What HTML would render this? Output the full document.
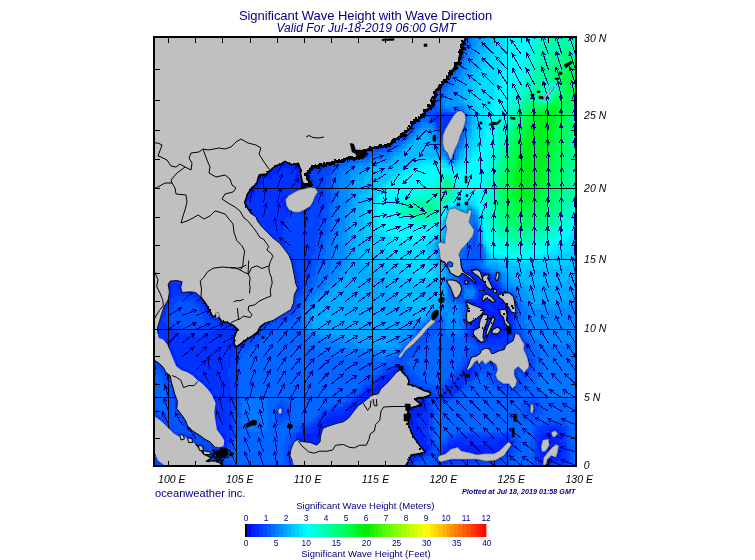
<!DOCTYPE html>
<html><head><meta charset="utf-8"><title>Significant Wave Height with Wave Direction</title>
<style>html,body{margin:0;padding:0;background:#fff}svg{display:block}text{font-family:"Liberation Sans",Arial,sans-serif}</style>
</head><body>
<svg width="755" height="560" viewBox="0 0 755 560">
<defs><clipPath id="mc"><rect x="155" y="38" width="420" height="427"/></clipPath></defs>
<rect width="755" height="560" fill="#fff"/>
<g clip-path="url(#mc)">
<rect x="155" y="38" width="420" height="427" fill="#0058ff"/>
<g shape-rendering="crispEdges">
<path fill="#0011ff" d="M260.8 170.9h8.4v3h-8.4zM260.8 173.6h5.7v3h-5.7zM488.6 298.4h3v3h-3zM480.4 311.9h3v3h-3zM499.4 311.9h3v3h-3zM480.4 314.6h8.4v3h-8.4zM480.4 317.3h5.7v3h-5.7zM491.3 317.3h3v3h-3zM483.2 320h3v3h-3zM491.3 320h3v3h-3zM483.2 322.8h3v3h-3zM488.6 322.8h5.7v3h-5.7zM488.6 325.5h3v3h-3zM494 328.2h3v3h-3zM390.9 377h3v3h-3zM388.2 379.7h3v3h-3zM385.5 382.4h3v3h-3zM382.8 385.1h3v3h-3zM380.1 387.8h3v3h-3zM415.4 401.4h3v3h-3zM412.6 404.1h5.7v3h-5.7zM407.2 425.8h3v3h-3zM407.2 428.5h3v3h-3zM407.2 431.2h5.7v3h-5.7zM409.9 434h3v3h-3zM409.9 436.7h5.7v3h-5.7zM412.6 439.4h5.7v3h-5.7zM415.4 442.1h3v3h-3zM548.2 442.1h3v3h-3zM418.1 444.8h3v3h-3zM418.1 447.5h5.7v3h-5.7zM453.3 447.5h5.7v3h-5.7zM551 447.5h3v3h-3zM412.6 450.2h11.1v3h-11.1zM447.9 450.2h13.9v3h-13.9zM548.2 450.2h5.7v3h-5.7zM409.9 452.9h8.4v3h-8.4zM445.2 452.9h5.7v3h-5.7zM458.7 452.9h5.7v3h-5.7zM407.2 455.6h3v3h-3zM407.2 458.4h3v3h-3z"/>
<path fill="#0022ff" d="M445.2 124.8h3v3h-3zM277 160h22v3h-22zM274.3 162.8h27.4v3h-27.4zM268.9 165.5h35.6v3h-35.6zM266.2 168.2h16.6v3h-16.6zM290.6 168.2h3v3h-3zM296 168.2h8.4v3h-8.4zM258.1 170.9h3v3h-3zM268.9 170.9h8.4v3h-8.4zM296 170.9h8.4v3h-8.4zM255.3 173.6h5.7v3h-5.7zM266.2 173.6h8.4v3h-8.4zM296 173.6h8.4v3h-8.4zM255.3 176.3h16.6v3h-16.6zM296 176.3h11.1v3h-11.1zM255.3 179h8.4v3h-8.4zM296 179h11.1v3h-11.1zM252.6 181.7h11.1v3h-11.1zM298.7 181.7h8.4v3h-8.4zM249.9 184.4h11.1v3h-11.1zM247.2 187.2h11.1v3h-11.1zM247.2 189.9h8.4v3h-8.4zM244.5 192.6h11.1v3h-11.1zM241.8 195.3h11.1v3h-11.1zM282.5 195.3h5.7v3h-5.7zM241.8 198h8.4v3h-8.4zM279.8 198h8.4v3h-8.4zM279.8 200.7h8.4v3h-8.4zM244.5 203.4h3v3h-3zM282.5 203.4h5.7v3h-5.7zM282.5 206.1h8.4v3h-8.4zM285.2 208.9h3v3h-3zM249.9 211.6h3v3h-3zM255.3 217h3v3h-3zM461.5 271.2h22v3h-22zM464.2 273.9h24.7v3h-24.7zM464.2 276.7h27.4v3h-27.4zM165.8 279.4h19.3v3h-19.3zM464.2 279.4h27.4v3h-27.4zM165.8 282.1h5.7v3h-5.7zM179.4 282.1h5.7v3h-5.7zM475 282.1h19.3v3h-19.3zM165.8 284.8h5.7v3h-5.7zM176.7 284.8h8.4v3h-8.4zM480.4 284.8h16.6v3h-16.6zM165.8 287.5h5.7v3h-5.7zM176.7 287.5h19.3v3h-19.3zM296 287.5h3v3h-3zM483.2 287.5h16.6v3h-16.6zM165.8 290.2h5.7v3h-5.7zM179.4 290.2h19.3v3h-19.3zM480.4 290.2h22v3h-22zM165.8 292.9h5.7v3h-5.7zM195.7 292.9h5.7v3h-5.7zM480.4 292.9h27.4v3h-27.4zM165.8 295.6h5.7v3h-5.7zM198.4 295.6h3v3h-3zM477.7 295.6h32.8v3h-32.8zM165.8 298.4h3v3h-3zM201.1 298.4h3v3h-3zM477.7 298.4h11.1v3h-11.1zM491.3 298.4h13.9v3h-13.9zM163.1 301.1h3v3h-3zM203.8 301.1h3v3h-3zM469.6 301.1h38.3v3h-38.3zM510.3 301.1h3v3h-3zM163.1 303.8h3v3h-3zM206.5 303.8h3v3h-3zM466.9 303.8h19.3v3h-19.3zM488.6 303.8h22v3h-22zM163.1 306.5h3v3h-3zM206.5 306.5h3v3h-3zM466.9 306.5h22v3h-22zM491.3 306.5h22v3h-22zM209.2 309.2h3v3h-3zM466.9 309.2h5.7v3h-5.7zM477.7 309.2h13.9v3h-13.9zM494 309.2h19.3v3h-19.3zM209.2 311.9h5.7v3h-5.7zM466.9 311.9h3v3h-3zM477.7 311.9h3v3h-3zM483.2 311.9h16.6v3h-16.6zM502.1 311.9h11.1v3h-11.1zM212 314.6h3v3h-3zM466.9 314.6h3v3h-3zM475 314.6h5.7v3h-5.7zM488.6 314.6h22v3h-22zM214.7 317.3h3v3h-3zM466.9 317.3h13.9v3h-13.9zM485.9 317.3h5.7v3h-5.7zM494 317.3h16.6v3h-16.6zM466.9 320h16.6v3h-16.6zM485.9 320h5.7v3h-5.7zM494 320h16.6v3h-16.6zM472.3 322.8h11.1v3h-11.1zM485.9 322.8h3v3h-3zM494 322.8h19.3v3h-19.3zM472.3 325.5h16.6v3h-16.6zM491.3 325.5h22v3h-22zM472.3 328.2h22v3h-22zM496.7 328.2h13.9v3h-13.9zM233.6 330.9h3v3h-3zM472.3 330.9h5.7v3h-5.7zM480.4 330.9h24.7v3h-24.7zM233.6 333.6h5.7v3h-5.7zM472.3 333.6h5.7v3h-5.7zM480.4 333.6h24.7v3h-24.7zM230.9 336.3h8.4v3h-8.4zM475 336.3h27.4v3h-27.4zM160.4 339h8.4v3h-8.4zM230.9 339h8.4v3h-8.4zM477.7 339h11.1v3h-11.1zM163.1 341.7h8.4v3h-8.4zM230.9 341.7h8.4v3h-8.4zM163.1 344.5h8.4v3h-8.4zM230.9 344.5h8.4v3h-8.4zM165.8 347.2h5.7v3h-5.7zM165.8 349.9h8.4v3h-8.4zM168.6 352.6h5.7v3h-5.7zM168.6 355.3h5.7v3h-5.7zM171.3 358h5.7v3h-5.7zM171.3 360.7h5.7v3h-5.7zM171.3 363.4h8.4v3h-8.4zM174 366.2h8.4v3h-8.4zM466.9 366.2h5.7v3h-5.7zM176.7 368.9h13.9v3h-13.9zM393.7 368.9h8.4v3h-8.4zM464.2 368.9h8.4v3h-8.4zM179.4 371.6h13.9v3h-13.9zM390.9 371.6h11.1v3h-11.1zM464.2 371.6h8.4v3h-8.4zM184.8 374.3h11.1v3h-11.1zM385.5 374.3h13.9v3h-13.9zM190.3 377h8.4v3h-8.4zM382.8 377h8.4v3h-8.4zM193 379.7h11.1v3h-11.1zM380.1 379.7h8.4v3h-8.4zM195.7 382.4h11.1v3h-11.1zM377.4 382.4h8.4v3h-8.4zM388.2 382.4h3v3h-3zM201.1 385.1h8.4v3h-8.4zM374.7 385.1h8.4v3h-8.4zM385.5 385.1h3v3h-3zM203.8 387.8h8.4v3h-8.4zM369.2 387.8h11.1v3h-11.1zM382.8 387.8h3v3h-3zM206.5 390.6h5.7v3h-5.7zM366.5 390.6h16.6v3h-16.6zM209.2 393.3h5.7v3h-5.7zM363.8 393.3h19.3v3h-19.3zM209.2 396h5.7v3h-5.7zM361.1 396h16.6v3h-16.6zM412.6 396h11.1v3h-11.1zM209.2 398.7h8.4v3h-8.4zM355.7 398.7h16.6v3h-16.6zM412.6 398.7h8.4v3h-8.4zM212 401.4h5.7v3h-5.7zM353 401.4h16.6v3h-16.6zM418.1 401.4h8.4v3h-8.4zM212 404.1h5.7v3h-5.7zM350.3 404.1h13.9v3h-13.9zM407.2 404.1h5.7v3h-5.7zM418.1 404.1h8.4v3h-8.4zM212 406.8h5.7v3h-5.7zM347.6 406.8h13.9v3h-13.9zM407.2 406.8h19.3v3h-19.3zM212 409.5h3v3h-3zM344.8 409.5h13.9v3h-13.9zM407.2 409.5h19.3v3h-19.3zM212 412.3h3v3h-3zM342.1 412.3h13.9v3h-13.9zM404.5 412.3h16.6v3h-16.6zM212 415h5.7v3h-5.7zM331.3 415h22v3h-22zM404.5 415h13.9v3h-13.9zM212 417.7h5.7v3h-5.7zM325.9 417.7h24.7v3h-24.7zM404.5 417.7h11.1v3h-11.1zM212 420.4h5.7v3h-5.7zM323.1 420.4h27.4v3h-27.4zM404.5 420.4h13.9v3h-13.9zM212 423.1h5.7v3h-5.7zM317.7 423.1h27.4v3h-27.4zM404.5 423.1h13.9v3h-13.9zM212 425.8h8.4v3h-8.4zM315 425.8h19.3v3h-19.3zM409.9 425.8h8.4v3h-8.4zM212 428.5h8.4v3h-8.4zM315 428.5h16.6v3h-16.6zM409.9 428.5h8.4v3h-8.4zM548.2 428.5h11.1v3h-11.1zM214.7 431.2h8.4v3h-8.4zM312.3 431.2h13.9v3h-13.9zM412.6 431.2h8.4v3h-8.4zM545.5 431.2h16.6v3h-16.6zM217.4 434h8.4v3h-8.4zM301.4 434h22v3h-22zM412.6 434h11.1v3h-11.1zM540.1 434h22v3h-22zM220.1 436.7h5.7v3h-5.7zM296 436.7h27.4v3h-27.4zM415.4 436.7h8.4v3h-8.4zM504.8 436.7h5.7v3h-5.7zM540.1 436.7h22v3h-22zM220.1 439.4h8.4v3h-8.4zM296 439.4h27.4v3h-27.4zM418.1 439.4h8.4v3h-8.4zM499.4 439.4h11.1v3h-11.1zM540.1 439.4h19.3v3h-19.3zM214.7 442.1h11.1v3h-11.1zM296 442.1h27.4v3h-27.4zM418.1 442.1h8.4v3h-8.4zM453.3 442.1h11.1v3h-11.1zM496.7 442.1h13.9v3h-13.9zM537.4 442.1h11.1v3h-11.1zM551 442.1h11.1v3h-11.1zM214.7 444.8h8.4v3h-8.4zM312.3 444.8h8.4v3h-8.4zM420.8 444.8h8.4v3h-8.4zM447.9 444.8h62.7v3h-62.7zM537.4 444.8h24.7v3h-24.7zM423.5 447.5h5.7v3h-5.7zM445.2 447.5h8.4v3h-8.4zM458.7 447.5h51.8v3h-51.8zM537.4 447.5h13.9v3h-13.9zM553.7 447.5h8.4v3h-8.4zM423.5 450.2h3v3h-3zM442.5 450.2h5.7v3h-5.7zM461.5 450.2h46.4v3h-46.4zM540.1 450.2h8.4v3h-8.4zM553.7 450.2h8.4v3h-8.4zM418.1 452.9h5.7v3h-5.7zM439.8 452.9h5.7v3h-5.7zM464.2 452.9h38.3v3h-38.3zM540.1 452.9h22v3h-22zM409.9 455.6h8.4v3h-8.4zM439.8 455.6h43.7v3h-43.7zM540.1 455.6h22v3h-22zM409.9 458.4h3v3h-3zM439.8 458.4h30.1v3h-30.1zM540.1 458.4h19.3v3h-19.3zM404.5 461.1h5.7v3h-5.7zM540.1 461.1h11.1v3h-11.1zM399.1 463.8h8.4v3h-8.4z"/>
<path fill="#0033ff" d="M155 38h309.5v3h-309.5zM155 40.7h3v3h-3zM458.7 40.7h5.7v3h-5.7zM155 43.4h3v3h-3zM458.7 43.4h3v3h-3zM155 46.1h3v3h-3zM155 48.8h3v3h-3zM155 51.6h3v3h-3zM456 51.6h3v3h-3zM155 54.3h3v3h-3zM155 57h3v3h-3zM155 59.7h3v3h-3zM155 62.4h3v3h-3zM155 65.1h3v3h-3zM155 67.8h3v3h-3zM447.9 67.8h3v3h-3zM155 70.5h3v3h-3zM155 73.3h3v3h-3zM445.2 73.3h3v3h-3zM155 76h3v3h-3zM155 78.7h3v3h-3zM439.8 78.7h5.7v3h-5.7zM155 81.4h3v3h-3zM439.8 81.4h3v3h-3zM155 84.1h3v3h-3zM437 84.1h5.7v3h-5.7zM155 86.8h3v3h-3zM434.3 86.8h5.7v3h-5.7zM155 89.5h3v3h-3zM434.3 89.5h3v3h-3zM155 92.2h3v3h-3zM431.6 92.2h5.7v3h-5.7zM155 95h3v3h-3zM431.6 95h3v3h-3zM155 97.7h3v3h-3zM431.6 97.7h3v3h-3zM155 100.4h3v3h-3zM428.9 100.4h3v3h-3zM155 103.1h3v3h-3zM155 105.8h3v3h-3zM426.2 105.8h3v3h-3zM155 108.5h3v3h-3zM423.5 108.5h5.7v3h-5.7zM155 111.2h3v3h-3zM420.8 111.2h5.7v3h-5.7zM155 113.9h3v3h-3zM418.1 113.9h3v3h-3zM434.3 113.9h22v3h-22zM155 116.6h3v3h-3zM412.6 116.6h5.7v3h-5.7zM434.3 116.6h19.3v3h-19.3zM155 119.4h3v3h-3zM409.9 119.4h5.7v3h-5.7zM434.3 119.4h19.3v3h-19.3zM155 122.1h3v3h-3zM409.9 122.1h3v3h-3zM437 122.1h13.9v3h-13.9zM155 124.8h3v3h-3zM407.2 124.8h5.7v3h-5.7zM437 124.8h8.4v3h-8.4zM155 127.5h3v3h-3zM404.5 127.5h5.7v3h-5.7zM439.8 127.5h8.4v3h-8.4zM155 130.2h3v3h-3zM401.8 130.2h5.7v3h-5.7zM439.8 130.2h8.4v3h-8.4zM155 132.9h3v3h-3zM396.4 132.9h5.7v3h-5.7zM439.8 132.9h5.7v3h-5.7zM155 135.6h3v3h-3zM393.7 135.6h8.4v3h-8.4zM442.5 135.6h3v3h-3zM155 138.3h3v3h-3zM390.9 138.3h5.7v3h-5.7zM155 141.1h3v3h-3zM385.5 141.1h8.4v3h-8.4zM155 143.8h3v3h-3zM369.2 143.8h19.3v3h-19.3zM155 146.5h3v3h-3zM363.8 146.5h13.9v3h-13.9zM155 149.2h3v3h-3zM361.1 149.2h5.7v3h-5.7zM155 151.9h3v3h-3zM355.7 151.9h8.4v3h-8.4zM155 154.6h3v3h-3zM344.8 154.6h19.3v3h-19.3zM155 157.3h3v3h-3zM334 157.3h19.3v3h-19.3zM155 160h3v3h-3zM320.4 160h16.6v3h-16.6zM155 162.8h3v3h-3zM312.3 162.8h19.3v3h-19.3zM155 165.5h3v3h-3zM309.6 165.5h11.1v3h-11.1zM155 168.2h3v3h-3zM282.5 168.2h8.4v3h-8.4zM293.3 168.2h3v3h-3zM306.9 168.2h8.4v3h-8.4zM155 170.9h3v3h-3zM277 170.9h19.3v3h-19.3zM304.2 170.9h8.4v3h-8.4zM155 173.6h3v3h-3zM274.3 173.6h22v3h-22zM304.2 173.6h5.7v3h-5.7zM155 176.3h3v3h-3zM271.6 176.3h24.7v3h-24.7zM306.9 176.3h5.7v3h-5.7zM155 179h3v3h-3zM263.5 179h32.8v3h-32.8zM306.9 179h8.4v3h-8.4zM155 181.7h3v3h-3zM263.5 181.7h35.6v3h-35.6zM306.9 181.7h8.4v3h-8.4zM155 184.4h3v3h-3zM260.8 184.4h51.8v3h-51.8zM315 184.4h3v3h-3zM155 187.2h3v3h-3zM258.1 187.2h60v3h-60zM155 189.9h3v3h-3zM255.3 189.9h54.5v3h-54.5zM312.3 189.9h8.4v3h-8.4zM155 192.6h3v3h-3zM255.3 192.6h46.4v3h-46.4zM312.3 192.6h8.4v3h-8.4zM155 195.3h3v3h-3zM252.6 195.3h30.1v3h-30.1zM287.9 195.3h5.7v3h-5.7zM312.3 195.3h5.7v3h-5.7zM155 198h3v3h-3zM249.9 198h30.1v3h-30.1zM287.9 198h3v3h-3zM312.3 198h5.7v3h-5.7zM155 200.7h3v3h-3zM241.8 200.7h38.3v3h-38.3zM287.9 200.7h3v3h-3zM309.6 200.7h5.7v3h-5.7zM155 203.4h3v3h-3zM241.8 203.4h3v3h-3zM247.2 203.4h35.6v3h-35.6zM287.9 203.4h3v3h-3zM306.9 203.4h8.4v3h-8.4zM155 206.1h3v3h-3zM244.5 206.1h38.3v3h-38.3zM290.6 206.1h3v3h-3zM301.4 206.1h11.1v3h-11.1zM155 208.9h3v3h-3zM247.2 208.9h38.3v3h-38.3zM287.9 208.9h22v3h-22zM155 211.6h3v3h-3zM247.2 211.6h3v3h-3zM252.6 211.6h51.8v3h-51.8zM155 214.3h3v3h-3zM249.9 214.3h38.3v3h-38.3zM155 217h3v3h-3zM252.6 217h3v3h-3zM258.1 217h27.4v3h-27.4zM155 219.7h3v3h-3zM255.3 219.7h30.1v3h-30.1zM155 222.4h3v3h-3zM255.3 222.4h27.4v3h-27.4zM155 225.1h3v3h-3zM258.1 225.1h24.7v3h-24.7zM155 227.8h3v3h-3zM260.8 227.8h22v3h-22zM155 230.6h3v3h-3zM260.8 230.6h22v3h-22zM155 233.3h3v3h-3zM266.2 233.3h16.6v3h-16.6zM155 236h3v3h-3zM268.9 236h13.9v3h-13.9zM155 238.7h3v3h-3zM271.6 238.7h11.1v3h-11.1zM155 241.4h3v3h-3zM274.3 241.4h11.1v3h-11.1zM155 244.1h3v3h-3zM277 244.1h8.4v3h-8.4zM155 246.8h3v3h-3zM279.8 246.8h8.4v3h-8.4zM155 249.5h3v3h-3zM279.8 249.5h8.4v3h-8.4zM155 252.2h3v3h-3zM282.5 252.2h8.4v3h-8.4zM155 255h3v3h-3zM285.2 255h8.4v3h-8.4zM155 257.7h3v3h-3zM287.9 257.7h5.7v3h-5.7zM155 260.4h3v3h-3zM287.9 260.4h8.4v3h-8.4zM155 263.1h3v3h-3zM287.9 263.1h8.4v3h-8.4zM155 265.8h3v3h-3zM287.9 265.8h8.4v3h-8.4zM155 268.5h3v3h-3zM287.9 268.5h8.4v3h-8.4zM458.7 268.5h5.7v3h-5.7zM469.6 268.5h11.1v3h-11.1zM155 271.2h3v3h-3zM290.6 271.2h8.4v3h-8.4zM458.7 271.2h3v3h-3zM483.2 271.2h3v3h-3zM155 273.9h3v3h-3zM290.6 273.9h8.4v3h-8.4zM458.7 273.9h5.7v3h-5.7zM488.6 273.9h3v3h-3zM155 276.7h3v3h-3zM168.6 276.7h16.6v3h-16.6zM290.6 276.7h8.4v3h-8.4zM461.5 276.7h3v3h-3zM494 276.7h3v3h-3zM155 279.4h3v3h-3zM293.3 279.4h5.7v3h-5.7zM461.5 279.4h3v3h-3zM491.3 279.4h5.7v3h-5.7zM155 282.1h3v3h-3zM171.3 282.1h8.4v3h-8.4zM293.3 282.1h5.7v3h-5.7zM464.2 282.1h5.7v3h-5.7zM472.3 282.1h3v3h-3zM494 282.1h3v3h-3zM155 284.8h3v3h-3zM171.3 284.8h5.7v3h-5.7zM293.3 284.8h8.4v3h-8.4zM475 284.8h5.7v3h-5.7zM496.7 284.8h3v3h-3zM155 287.5h3v3h-3zM171.3 287.5h5.7v3h-5.7zM293.3 287.5h3v3h-3zM298.7 287.5h3v3h-3zM477.7 287.5h5.7v3h-5.7zM499.4 287.5h3v3h-3zM155 290.2h3v3h-3zM171.3 290.2h8.4v3h-8.4zM293.3 290.2h5.7v3h-5.7zM477.7 290.2h3v3h-3zM502.1 290.2h3v3h-3zM155 292.9h3v3h-3zM171.3 292.9h24.7v3h-24.7zM290.6 292.9h5.7v3h-5.7zM456 292.9h3v3h-3zM477.7 292.9h3v3h-3zM507.6 292.9h3v3h-3zM155 295.6h3v3h-3zM171.3 295.6h3v3h-3zM193 295.6h5.7v3h-5.7zM201.1 295.6h3v3h-3zM290.6 295.6h5.7v3h-5.7zM456 295.6h3v3h-3zM510.3 295.6h3v3h-3zM155 298.4h3v3h-3zM168.6 298.4h3v3h-3zM195.7 298.4h5.7v3h-5.7zM203.8 298.4h3v3h-3zM290.6 298.4h3v3h-3zM475 298.4h3v3h-3zM510.3 298.4h3v3h-3zM155 301.1h3v3h-3zM165.8 301.1h5.7v3h-5.7zM198.4 301.1h5.7v3h-5.7zM206.5 301.1h3v3h-3zM290.6 301.1h3v3h-3zM464.2 301.1h5.7v3h-5.7zM513 301.1h3v3h-3zM155 303.8h3v3h-3zM165.8 303.8h3v3h-3zM201.1 303.8h5.7v3h-5.7zM287.9 303.8h5.7v3h-5.7zM485.9 303.8h3v3h-3zM513 303.8h3v3h-3zM155 306.5h3v3h-3zM160.4 306.5h3v3h-3zM165.8 306.5h3v3h-3zM203.8 306.5h3v3h-3zM209.2 306.5h3v3h-3zM287.9 306.5h5.7v3h-5.7zM488.6 306.5h3v3h-3zM513 306.5h3v3h-3zM155 309.2h11.1v3h-11.1zM203.8 309.2h5.7v3h-5.7zM282.5 309.2h8.4v3h-8.4zM491.3 309.2h3v3h-3zM513 309.2h3v3h-3zM155 311.9h11.1v3h-11.1zM214.7 311.9h5.7v3h-5.7zM277 311.9h8.4v3h-8.4zM513 311.9h3v3h-3zM155 314.6h11.1v3h-11.1zM209.2 314.6h3v3h-3zM214.7 314.6h8.4v3h-8.4zM274.3 314.6h5.7v3h-5.7zM510.3 314.6h3v3h-3zM155 317.3h8.4v3h-8.4zM209.2 317.3h5.7v3h-5.7zM217.4 317.3h11.1v3h-11.1zM266.2 317.3h11.1v3h-11.1zM510.3 317.3h3v3h-3zM155 320h8.4v3h-8.4zM214.7 320h19.3v3h-19.3zM260.8 320h8.4v3h-8.4zM510.3 320h3v3h-3zM155 322.8h11.1v3h-11.1zM220.1 322.8h16.6v3h-16.6zM258.1 322.8h5.7v3h-5.7zM466.9 322.8h5.7v3h-5.7zM155 325.5h13.9v3h-13.9zM220.1 325.5h19.3v3h-19.3zM258.1 325.5h3v3h-3zM469.6 325.5h3v3h-3zM155 328.2h16.6v3h-16.6zM214.7 328.2h27.4v3h-27.4zM255.3 328.2h3v3h-3zM469.6 328.2h3v3h-3zM510.3 328.2h3v3h-3zM155 330.9h22v3h-22zM209.2 330.9h24.7v3h-24.7zM236.4 330.9h3v3h-3zM252.6 330.9h5.7v3h-5.7zM469.6 330.9h3v3h-3zM504.8 330.9h11.1v3h-11.1zM155 333.6h32.8v3h-32.8zM201.1 333.6h32.8v3h-32.8zM249.9 333.6h5.7v3h-5.7zM469.6 333.6h3v3h-3zM504.8 333.6h16.6v3h-16.6zM155 336.3h76.2v3h-76.2zM244.5 336.3h5.7v3h-5.7zM472.3 336.3h3v3h-3zM502.1 336.3h8.4v3h-8.4zM513 336.3h8.4v3h-8.4zM155 339h5.7v3h-5.7zM168.6 339h62.7v3h-62.7zM239.1 339h8.4v3h-8.4zM475 339h3v3h-3zM488.6 339h27.4v3h-27.4zM518.4 339h3v3h-3zM155 341.7h3v3h-3zM171.3 341.7h60v3h-60zM239.1 341.7h3v3h-3zM477.7 341.7h38.3v3h-38.3zM521.1 341.7h3v3h-3zM155 344.5h3v3h-3zM171.3 344.5h60v3h-60zM239.1 344.5h3v3h-3zM488.6 344.5h5.7v3h-5.7zM502.1 344.5h8.4v3h-8.4zM521.1 344.5h3v3h-3zM155 347.2h3v3h-3zM171.3 347.2h68.1v3h-68.1zM483.2 347.2h8.4v3h-8.4zM502.1 347.2h5.7v3h-5.7zM521.1 347.2h3v3h-3zM155 349.9h3v3h-3zM174 349.9h62.7v3h-62.7zM480.4 349.9h11.1v3h-11.1zM494 349.9h13.9v3h-13.9zM521.1 349.9h3v3h-3zM155 352.6h3v3h-3zM174 352.6h60v3h-60zM480.4 352.6h3v3h-3zM488.6 352.6h16.6v3h-16.6zM521.1 352.6h5.7v3h-5.7zM155 355.3h3v3h-3zM174 355.3h60v3h-60zM472.3 355.3h11.1v3h-11.1zM491.3 355.3h3v3h-3zM523.8 355.3h3v3h-3zM155 358h5.7v3h-5.7zM176.7 358h54.5v3h-54.5zM472.3 358h22v3h-22zM523.8 358h5.7v3h-5.7zM157.7 360.7h5.7v3h-5.7zM176.7 360.7h54.5v3h-54.5zM466.9 360.7h8.4v3h-8.4zM477.7 360.7h3v3h-3zM483.2 360.7h5.7v3h-5.7zM494 360.7h5.7v3h-5.7zM523.8 360.7h5.7v3h-5.7zM160.4 363.4h5.7v3h-5.7zM179.4 363.4h51.8v3h-51.8zM466.9 363.4h8.4v3h-8.4zM477.7 363.4h3v3h-3zM496.7 363.4h3v3h-3zM515.7 363.4h5.7v3h-5.7zM526.5 363.4h3v3h-3zM163.1 366.2h3v3h-3zM182.1 366.2h49.1v3h-49.1zM393.7 366.2h8.4v3h-8.4zM464.2 366.2h3v3h-3zM472.3 366.2h3v3h-3zM496.7 366.2h5.7v3h-5.7zM513 366.2h16.6v3h-16.6zM165.8 368.9h3v3h-3zM190.3 368.9h38.3v3h-38.3zM388.2 368.9h5.7v3h-5.7zM401.8 368.9h3v3h-3zM461.5 368.9h3v3h-3zM472.3 368.9h3v3h-3zM496.7 368.9h5.7v3h-5.7zM510.3 368.9h5.7v3h-5.7zM521.1 368.9h5.7v3h-5.7zM165.8 371.6h5.7v3h-5.7zM193 371.6h35.6v3h-35.6zM385.5 371.6h5.7v3h-5.7zM401.8 371.6h3v3h-3zM461.5 371.6h3v3h-3zM472.3 371.6h3v3h-3zM496.7 371.6h3v3h-3zM510.3 371.6h5.7v3h-5.7zM171.3 374.3h3v3h-3zM195.7 374.3h32.8v3h-32.8zM380.1 374.3h5.7v3h-5.7zM401.8 374.3h5.7v3h-5.7zM458.7 374.3h13.9v3h-13.9zM494 374.3h5.7v3h-5.7zM510.3 374.3h5.7v3h-5.7zM171.3 377h3v3h-3zM198.4 377h32.8v3h-32.8zM377.4 377h5.7v3h-5.7zM404.5 377h3v3h-3zM456 377h13.9v3h-13.9zM496.7 377h5.7v3h-5.7zM513 377h3v3h-3zM171.3 379.7h3v3h-3zM203.8 379.7h27.4v3h-27.4zM372 379.7h8.4v3h-8.4zM407.2 379.7h3v3h-3zM453.3 379.7h13.9v3h-13.9zM499.4 379.7h11.1v3h-11.1zM513 379.7h3v3h-3zM171.3 382.4h3v3h-3zM206.5 382.4h24.7v3h-24.7zM372 382.4h5.7v3h-5.7zM404.5 382.4h5.7v3h-5.7zM450.6 382.4h13.9v3h-13.9zM502.1 382.4h13.9v3h-13.9zM171.3 385.1h5.7v3h-5.7zM209.2 385.1h22v3h-22zM366.5 385.1h8.4v3h-8.4zM404.5 385.1h11.1v3h-11.1zM447.9 385.1h13.9v3h-13.9zM510.3 385.1h5.7v3h-5.7zM174 387.8h3v3h-3zM212 387.8h19.3v3h-19.3zM363.8 387.8h5.7v3h-5.7zM415.4 387.8h5.7v3h-5.7zM445.2 387.8h13.9v3h-13.9zM174 390.6h3v3h-3zM212 390.6h19.3v3h-19.3zM361.1 390.6h5.7v3h-5.7zM418.1 390.6h8.4v3h-8.4zM442.5 390.6h13.9v3h-13.9zM174 393.3h3v3h-3zM214.7 393.3h16.6v3h-16.6zM358.4 393.3h5.7v3h-5.7zM418.1 393.3h13.9v3h-13.9zM439.8 393.3h13.9v3h-13.9zM174 396h5.7v3h-5.7zM214.7 396h16.6v3h-16.6zM355.7 396h5.7v3h-5.7zM423.5 396h5.7v3h-5.7zM439.8 396h5.7v3h-5.7zM176.7 398.7h5.7v3h-5.7zM217.4 398.7h13.9v3h-13.9zM353 398.7h3v3h-3zM420.8 398.7h5.7v3h-5.7zM176.7 401.4h5.7v3h-5.7zM217.4 401.4h13.9v3h-13.9zM350.3 401.4h3v3h-3zM426.2 401.4h3v3h-3zM176.7 404.1h3v3h-3zM217.4 404.1h13.9v3h-13.9zM344.8 404.1h5.7v3h-5.7zM426.2 404.1h3v3h-3zM529.3 404.1h3v3h-3zM176.7 406.8h5.7v3h-5.7zM217.4 406.8h13.9v3h-13.9zM339.4 406.8h8.4v3h-8.4zM426.2 406.8h3v3h-3zM529.3 406.8h5.7v3h-5.7zM176.7 409.5h5.7v3h-5.7zM214.7 409.5h16.6v3h-16.6zM277 409.5h5.7v3h-5.7zM331.3 409.5h13.9v3h-13.9zM404.5 409.5h3v3h-3zM426.2 409.5h3v3h-3zM529.3 409.5h5.7v3h-5.7zM179.4 412.3h5.7v3h-5.7zM214.7 412.3h16.6v3h-16.6zM279.8 412.3h3v3h-3zM323.1 412.3h19.3v3h-19.3zM420.8 412.3h8.4v3h-8.4zM182.1 415h5.7v3h-5.7zM217.4 415h13.9v3h-13.9zM320.4 415h11.1v3h-11.1zM401.8 415h3v3h-3zM418.1 415h11.1v3h-11.1zM155 417.7h3v3h-3zM184.8 417.7h3v3h-3zM217.4 417.7h13.9v3h-13.9zM317.7 417.7h8.4v3h-8.4zM401.8 417.7h3v3h-3zM415.4 417.7h13.9v3h-13.9zM155 420.4h8.4v3h-8.4zM184.8 420.4h5.7v3h-5.7zM217.4 420.4h13.9v3h-13.9zM317.7 420.4h5.7v3h-5.7zM418.1 420.4h11.1v3h-11.1zM155 423.1h3v3h-3zM160.4 423.1h5.7v3h-5.7zM187.5 423.1h3v3h-3zM217.4 423.1h13.9v3h-13.9zM312.3 423.1h5.7v3h-5.7zM418.1 423.1h11.1v3h-11.1zM155 425.8h3v3h-3zM163.1 425.8h5.7v3h-5.7zM190.3 425.8h3v3h-3zM220.1 425.8h11.1v3h-11.1zM306.9 425.8h8.4v3h-8.4zM418.1 425.8h11.1v3h-11.1zM540.1 425.8h22v3h-22zM155 428.5h3v3h-3zM165.8 428.5h5.7v3h-5.7zM190.3 428.5h5.7v3h-5.7zM220.1 428.5h11.1v3h-11.1zM304.2 428.5h11.1v3h-11.1zM418.1 428.5h8.4v3h-8.4zM537.4 428.5h11.1v3h-11.1zM559.1 428.5h5.7v3h-5.7zM155 431.2h3v3h-3zM168.6 431.2h5.7v3h-5.7zM193 431.2h8.4v3h-8.4zM222.8 431.2h8.4v3h-8.4zM298.7 431.2h13.9v3h-13.9zM420.8 431.2h8.4v3h-8.4zM537.4 431.2h8.4v3h-8.4zM561.8 431.2h3v3h-3zM155 434h3v3h-3zM171.3 434h5.7v3h-5.7zM179.4 434h5.7v3h-5.7zM198.4 434h5.7v3h-5.7zM225.5 434h5.7v3h-5.7zM296 434h5.7v3h-5.7zM423.5 434h5.7v3h-5.7zM466.9 434h8.4v3h-8.4zM502.1 434h8.4v3h-8.4zM534.7 434h5.7v3h-5.7zM561.8 434h3v3h-3zM155 436.7h3v3h-3zM176.7 436.7h16.6v3h-16.6zM203.8 436.7h8.4v3h-8.4zM225.5 436.7h5.7v3h-5.7zM423.5 436.7h5.7v3h-5.7zM456 436.7h49.1v3h-49.1zM534.7 436.7h5.7v3h-5.7zM561.8 436.7h3v3h-3zM155 439.4h3v3h-3zM184.8 439.4h8.4v3h-8.4zM206.5 439.4h8.4v3h-8.4zM228.2 439.4h3v3h-3zM293.3 439.4h3v3h-3zM426.2 439.4h3v3h-3zM450.6 439.4h49.1v3h-49.1zM510.3 439.4h3v3h-3zM534.7 439.4h5.7v3h-5.7zM559.1 439.4h5.7v3h-5.7zM155 442.1h3v3h-3zM190.3 442.1h5.7v3h-5.7zM212 442.1h3v3h-3zM225.5 442.1h3v3h-3zM293.3 442.1h3v3h-3zM426.2 442.1h3v3h-3zM447.9 442.1h5.7v3h-5.7zM464.2 442.1h32.8v3h-32.8zM510.3 442.1h3v3h-3zM534.7 442.1h3v3h-3zM561.8 442.1h5.7v3h-5.7zM155 444.8h3v3h-3zM193 444.8h11.1v3h-11.1zM212 444.8h3v3h-3zM222.8 444.8h5.7v3h-5.7zM293.3 444.8h3v3h-3zM428.9 444.8h3v3h-3zM442.5 444.8h5.7v3h-5.7zM510.3 444.8h3v3h-3zM534.7 444.8h3v3h-3zM561.8 444.8h5.7v3h-5.7zM155 447.5h3v3h-3zM195.7 447.5h8.4v3h-8.4zM214.7 447.5h11.1v3h-11.1zM290.6 447.5h5.7v3h-5.7zM315 447.5h3v3h-3zM428.9 447.5h3v3h-3zM442.5 447.5h3v3h-3zM534.7 447.5h3v3h-3zM561.8 447.5h5.7v3h-5.7zM155 450.2h3v3h-3zM198.4 450.2h3v3h-3zM203.8 450.2h3v3h-3zM290.6 450.2h5.7v3h-5.7zM426.2 450.2h3v3h-3zM439.8 450.2h3v3h-3zM507.6 450.2h3v3h-3zM534.7 450.2h5.7v3h-5.7zM561.8 450.2h5.7v3h-5.7zM155 452.9h3v3h-3zM201.1 452.9h11.1v3h-11.1zM290.6 452.9h3v3h-3zM423.5 452.9h5.7v3h-5.7zM437 452.9h3v3h-3zM502.1 452.9h5.7v3h-5.7zM534.7 452.9h5.7v3h-5.7zM561.8 452.9h5.7v3h-5.7zM157.7 455.6h3v3h-3zM203.8 455.6h8.4v3h-8.4zM290.6 455.6h3v3h-3zM418.1 455.6h3v3h-3zM437 455.6h3v3h-3zM483.2 455.6h19.3v3h-19.3zM534.7 455.6h5.7v3h-5.7zM561.8 455.6h5.7v3h-5.7zM157.7 458.4h5.7v3h-5.7zM203.8 458.4h5.7v3h-5.7zM290.6 458.4h5.7v3h-5.7zM412.6 458.4h5.7v3h-5.7zM437 458.4h3v3h-3zM469.6 458.4h30.1v3h-30.1zM534.7 458.4h5.7v3h-5.7zM559.1 458.4h8.4v3h-8.4zM160.4 461.1h5.7v3h-5.7zM203.8 461.1h16.6v3h-16.6zM293.3 461.1h3v3h-3zM409.9 461.1h3v3h-3zM437 461.1h11.1v3h-11.1zM537.4 461.1h3v3h-3zM551 461.1h13.9v3h-13.9zM163.1 463.8h60v3h-60zM293.3 463.8h106.1v3h-106.1zM407.2 463.8h3v3h-3zM540.1 463.8h11.1v3h-11.1z"/>
<path fill="#0044ff" d="M464.2 38h3v3h-3zM461.5 43.4h3v3h-3zM458.7 46.1h5.7v3h-5.7zM458.7 48.8h3v3h-3zM458.7 51.6h3v3h-3zM456 54.3h5.7v3h-5.7zM456 57h5.7v3h-5.7zM456 59.7h3v3h-3zM453.3 62.4h5.7v3h-5.7zM450.6 65.1h5.7v3h-5.7zM450.6 67.8h3v3h-3zM447.9 70.5h5.7v3h-5.7zM447.9 73.3h3v3h-3zM445.2 76h3v3h-3zM445.2 78.7h3v3h-3zM442.5 81.4h3v3h-3zM437 89.5h3v3h-3zM434.3 95h3v3h-3zM434.3 97.7h3v3h-3zM431.6 100.4h3v3h-3zM428.9 103.1h5.7v3h-5.7zM428.9 105.8h3v3h-3zM428.9 108.5h3v3h-3zM426.2 111.2h32.8v3h-32.8zM420.8 113.9h3v3h-3zM428.9 113.9h5.7v3h-5.7zM456 113.9h3v3h-3zM418.1 116.6h3v3h-3zM431.6 116.6h3v3h-3zM453.3 116.6h3v3h-3zM415.4 119.4h3v3h-3zM431.6 119.4h3v3h-3zM412.6 122.1h3v3h-3zM434.3 122.1h3v3h-3zM450.6 122.1h3v3h-3zM447.9 124.8h3v3h-3zM409.9 127.5h3v3h-3zM437 127.5h3v3h-3zM407.2 130.2h3v3h-3zM401.8 132.9h5.7v3h-5.7zM439.8 135.6h3v3h-3zM396.4 138.3h3v3h-3zM442.5 138.3h3v3h-3zM388.2 143.8h3v3h-3zM377.4 146.5h11.1v3h-11.1zM366.5 149.2h5.7v3h-5.7zM363.8 151.9h3v3h-3zM353 157.3h5.7v3h-5.7zM336.7 160h8.4v3h-8.4zM331.3 162.8h3v3h-3zM320.4 165.5h11.1v3h-11.1zM315 168.2h16.6v3h-16.6zM312.3 170.9h16.6v3h-16.6zM309.6 173.6h19.3v3h-19.3zM312.3 176.3h13.9v3h-13.9zM315 179h11.1v3h-11.1zM315 181.7h11.1v3h-11.1zM312.3 184.4h3v3h-3zM317.7 184.4h8.4v3h-8.4zM317.7 187.2h8.4v3h-8.4zM320.4 189.9h5.7v3h-5.7zM320.4 192.6h5.7v3h-5.7zM317.7 195.3h8.4v3h-8.4zM317.7 198h8.4v3h-8.4zM315 200.7h11.1v3h-11.1zM315 203.4h11.1v3h-11.1zM312.3 206.1h13.9v3h-13.9zM309.6 208.9h13.9v3h-13.9zM304.2 211.6h19.3v3h-19.3zM287.9 214.3h35.6v3h-35.6zM285.2 217h38.3v3h-38.3zM285.2 219.7h35.6v3h-35.6zM282.5 222.4h38.3v3h-38.3zM282.5 225.1h38.3v3h-38.3zM282.5 227.8h35.6v3h-35.6zM282.5 230.6h35.6v3h-35.6zM282.5 233.3h35.6v3h-35.6zM282.5 236h32.8v3h-32.8zM282.5 238.7h32.8v3h-32.8zM472.3 238.7h3v3h-3zM285.2 241.4h30.1v3h-30.1zM472.3 241.4h3v3h-3zM285.2 244.1h30.1v3h-30.1zM472.3 244.1h3v3h-3zM287.9 246.8h27.4v3h-27.4zM287.9 249.5h27.4v3h-27.4zM290.6 252.2h24.7v3h-24.7zM293.3 255h19.3v3h-19.3zM293.3 257.7h19.3v3h-19.3zM296 260.4h16.6v3h-16.6zM296 263.1h16.6v3h-16.6zM296 265.8h16.6v3h-16.6zM458.7 265.8h3v3h-3zM469.6 265.8h8.4v3h-8.4zM296 268.5h13.9v3h-13.9zM464.2 268.5h5.7v3h-5.7zM480.4 268.5h3v3h-3zM298.7 271.2h11.1v3h-11.1zM456 271.2h3v3h-3zM485.9 271.2h3v3h-3zM298.7 273.9h11.1v3h-11.1zM456 273.9h3v3h-3zM298.7 276.7h8.4v3h-8.4zM458.7 276.7h3v3h-3zM491.3 276.7h3v3h-3zM496.7 276.7h3v3h-3zM298.7 279.4h8.4v3h-8.4zM458.7 279.4h3v3h-3zM496.7 279.4h3v3h-3zM298.7 282.1h8.4v3h-8.4zM456 282.1h8.4v3h-8.4zM469.6 282.1h3v3h-3zM496.7 282.1h3v3h-3zM301.4 284.8h3v3h-3zM456 284.8h5.7v3h-5.7zM472.3 284.8h3v3h-3zM499.4 284.8h3v3h-3zM301.4 287.5h3v3h-3zM458.7 287.5h3v3h-3zM475 287.5h3v3h-3zM298.7 290.2h3v3h-3zM450.6 290.2h5.7v3h-5.7zM458.7 290.2h3v3h-3zM504.8 290.2h3v3h-3zM296 292.9h3v3h-3zM453.3 292.9h3v3h-3zM458.7 292.9h3v3h-3zM475 292.9h3v3h-3zM510.3 292.9h3v3h-3zM174 295.6h19.3v3h-19.3zM296 295.6h3v3h-3zM453.3 295.6h3v3h-3zM458.7 295.6h3v3h-3zM475 295.6h3v3h-3zM171.3 298.4h24.7v3h-24.7zM293.3 298.4h3v3h-3zM464.2 298.4h11.1v3h-11.1zM513 298.4h3v3h-3zM171.3 301.1h5.7v3h-5.7zM193 301.1h5.7v3h-5.7zM293.3 301.1h3v3h-3zM168.6 303.8h5.7v3h-5.7zM195.7 303.8h5.7v3h-5.7zM293.3 303.8h3v3h-3zM464.2 303.8h3v3h-3zM168.6 306.5h5.7v3h-5.7zM198.4 306.5h5.7v3h-5.7zM293.3 306.5h3v3h-3zM165.8 309.2h5.7v3h-5.7zM198.4 309.2h5.7v3h-5.7zM290.6 309.2h5.7v3h-5.7zM165.8 311.9h5.7v3h-5.7zM201.1 311.9h8.4v3h-8.4zM285.2 311.9h5.7v3h-5.7zM464.2 311.9h3v3h-3zM515.7 311.9h3v3h-3zM165.8 314.6h5.7v3h-5.7zM203.8 314.6h5.7v3h-5.7zM279.8 314.6h8.4v3h-8.4zM464.2 314.6h3v3h-3zM513 314.6h3v3h-3zM163.1 317.3h8.4v3h-8.4zM203.8 317.3h5.7v3h-5.7zM277 317.3h5.7v3h-5.7zM464.2 317.3h3v3h-3zM163.1 320h8.4v3h-8.4zM203.8 320h11.1v3h-11.1zM268.9 320h8.4v3h-8.4zM431.6 320h5.7v3h-5.7zM464.2 320h3v3h-3zM513 320h3v3h-3zM165.8 322.8h8.4v3h-8.4zM203.8 322.8h16.6v3h-16.6zM263.5 322.8h8.4v3h-8.4zM428.9 322.8h3v3h-3zM513 322.8h3v3h-3zM168.6 325.5h13.9v3h-13.9zM195.7 325.5h24.7v3h-24.7zM260.8 325.5h5.7v3h-5.7zM426.2 325.5h3v3h-3zM466.9 325.5h3v3h-3zM513 325.5h3v3h-3zM171.3 328.2h43.7v3h-43.7zM258.1 328.2h5.7v3h-5.7zM423.5 328.2h3v3h-3zM466.9 328.2h3v3h-3zM513 328.2h3v3h-3zM176.7 330.9h32.8v3h-32.8zM258.1 330.9h3v3h-3zM420.8 330.9h5.7v3h-5.7zM466.9 330.9h3v3h-3zM515.7 330.9h5.7v3h-5.7zM187.5 333.6h13.9v3h-13.9zM255.3 333.6h5.7v3h-5.7zM420.8 333.6h3v3h-3zM466.9 333.6h3v3h-3zM249.9 336.3h5.7v3h-5.7zM418.1 336.3h3v3h-3zM469.6 336.3h3v3h-3zM510.3 336.3h3v3h-3zM521.1 336.3h3v3h-3zM247.2 339h5.7v3h-5.7zM415.4 339h3v3h-3zM472.3 339h3v3h-3zM521.1 339h3v3h-3zM241.8 341.7h5.7v3h-5.7zM409.9 341.7h5.7v3h-5.7zM475 341.7h3v3h-3zM523.8 341.7h3v3h-3zM241.8 344.5h3v3h-3zM409.9 344.5h3v3h-3zM477.7 344.5h11.1v3h-11.1zM494 344.5h8.4v3h-8.4zM523.8 344.5h3v3h-3zM239.1 347.2h3v3h-3zM407.2 347.2h3v3h-3zM477.7 347.2h5.7v3h-5.7zM491.3 347.2h11.1v3h-11.1zM523.8 347.2h3v3h-3zM236.4 349.9h3v3h-3zM401.8 349.9h3v3h-3zM477.7 349.9h3v3h-3zM491.3 349.9h3v3h-3zM523.8 349.9h3v3h-3zM233.6 352.6h5.7v3h-5.7zM399.1 352.6h5.7v3h-5.7zM472.3 352.6h8.4v3h-8.4zM526.5 352.6h3v3h-3zM233.6 355.3h3v3h-3zM399.1 355.3h5.7v3h-5.7zM469.6 355.3h3v3h-3zM526.5 355.3h3v3h-3zM230.9 358h5.7v3h-5.7zM399.1 358h3v3h-3zM466.9 358h5.7v3h-5.7zM529.3 358h3v3h-3zM155 360.7h3v3h-3zM230.9 360.7h5.7v3h-5.7zM464.2 360.7h3v3h-3zM475 360.7h3v3h-3zM480.4 360.7h3v3h-3zM488.6 360.7h5.7v3h-5.7zM529.3 360.7h3v3h-3zM155 363.4h5.7v3h-5.7zM230.9 363.4h5.7v3h-5.7zM464.2 363.4h3v3h-3zM475 363.4h3v3h-3zM480.4 363.4h16.6v3h-16.6zM529.3 363.4h3v3h-3zM157.7 366.2h5.7v3h-5.7zM230.9 366.2h5.7v3h-5.7zM388.2 366.2h5.7v3h-5.7zM401.8 366.2h3v3h-3zM461.5 366.2h3v3h-3zM475 366.2h11.1v3h-11.1zM494 366.2h3v3h-3zM529.3 366.2h3v3h-3zM160.4 368.9h5.7v3h-5.7zM228.2 368.9h8.4v3h-8.4zM382.8 368.9h5.7v3h-5.7zM404.5 368.9h3v3h-3zM458.7 368.9h3v3h-3zM475 368.9h5.7v3h-5.7zM494 368.9h3v3h-3zM515.7 368.9h5.7v3h-5.7zM526.5 368.9h3v3h-3zM163.1 371.6h3v3h-3zM228.2 371.6h8.4v3h-8.4zM382.8 371.6h3v3h-3zM404.5 371.6h3v3h-3zM456 371.6h5.7v3h-5.7zM475 371.6h3v3h-3zM494 371.6h3v3h-3zM515.7 371.6h3v3h-3zM521.1 371.6h8.4v3h-8.4zM165.8 374.3h5.7v3h-5.7zM228.2 374.3h8.4v3h-8.4zM377.4 374.3h3v3h-3zM407.2 374.3h3v3h-3zM453.3 374.3h5.7v3h-5.7zM472.3 374.3h3v3h-3zM491.3 374.3h3v3h-3zM515.7 374.3h3v3h-3zM521.1 374.3h5.7v3h-5.7zM165.8 377h5.7v3h-5.7zM230.9 377h5.7v3h-5.7zM374.7 377h3v3h-3zM407.2 377h5.7v3h-5.7zM453.3 377h3v3h-3zM469.6 377h5.7v3h-5.7zM494 377h3v3h-3zM515.7 377h5.7v3h-5.7zM168.6 379.7h3v3h-3zM230.9 379.7h5.7v3h-5.7zM369.2 379.7h3v3h-3zM409.9 379.7h3v3h-3zM447.9 379.7h5.7v3h-5.7zM466.9 379.7h5.7v3h-5.7zM494 379.7h5.7v3h-5.7zM515.7 379.7h5.7v3h-5.7zM168.6 382.4h3v3h-3zM230.9 382.4h5.7v3h-5.7zM369.2 382.4h3v3h-3zM409.9 382.4h8.4v3h-8.4zM447.9 382.4h3v3h-3zM464.2 382.4h3v3h-3zM496.7 382.4h5.7v3h-5.7zM515.7 382.4h5.7v3h-5.7zM168.6 385.1h3v3h-3zM230.9 385.1h5.7v3h-5.7zM363.8 385.1h3v3h-3zM415.4 385.1h8.4v3h-8.4zM445.2 385.1h3v3h-3zM461.5 385.1h3v3h-3zM502.1 385.1h8.4v3h-8.4zM515.7 385.1h3v3h-3zM171.3 387.8h3v3h-3zM230.9 387.8h5.7v3h-5.7zM361.1 387.8h3v3h-3zM420.8 387.8h11.1v3h-11.1zM439.8 387.8h5.7v3h-5.7zM458.7 387.8h3v3h-3zM510.3 387.8h5.7v3h-5.7zM171.3 390.6h3v3h-3zM230.9 390.6h5.7v3h-5.7zM358.4 390.6h3v3h-3zM426.2 390.6h8.4v3h-8.4zM439.8 390.6h3v3h-3zM456 390.6h3v3h-3zM510.3 390.6h3v3h-3zM171.3 393.3h3v3h-3zM230.9 393.3h5.7v3h-5.7zM355.7 393.3h3v3h-3zM431.6 393.3h8.4v3h-8.4zM453.3 393.3h3v3h-3zM171.3 396h3v3h-3zM230.9 396h5.7v3h-5.7zM353 396h3v3h-3zM428.9 396h11.1v3h-11.1zM445.2 396h8.4v3h-8.4zM174 398.7h3v3h-3zM230.9 398.7h5.7v3h-5.7zM350.3 398.7h3v3h-3zM426.2 398.7h19.3v3h-19.3zM174 401.4h3v3h-3zM230.9 401.4h5.7v3h-5.7zM344.8 401.4h5.7v3h-5.7zM428.9 401.4h11.1v3h-11.1zM529.3 401.4h5.7v3h-5.7zM174 404.1h3v3h-3zM230.9 404.1h5.7v3h-5.7zM279.8 404.1h3v3h-3zM342.1 404.1h3v3h-3zM428.9 404.1h3v3h-3zM526.5 404.1h3v3h-3zM532 404.1h3v3h-3zM174 406.8h3v3h-3zM230.9 406.8h5.7v3h-5.7zM277 406.8h8.4v3h-8.4zM328.6 406.8h11.1v3h-11.1zM428.9 406.8h3v3h-3zM526.5 406.8h3v3h-3zM534.7 406.8h3v3h-3zM174 409.5h3v3h-3zM230.9 409.5h3v3h-3zM282.5 409.5h3v3h-3zM323.1 409.5h8.4v3h-8.4zM428.9 409.5h5.7v3h-5.7zM526.5 409.5h3v3h-3zM534.7 409.5h3v3h-3zM176.7 412.3h3v3h-3zM230.9 412.3h3v3h-3zM277 412.3h3v3h-3zM282.5 412.3h3v3h-3zM320.4 412.3h3v3h-3zM428.9 412.3h5.7v3h-5.7zM526.5 412.3h8.4v3h-8.4zM155 415h5.7v3h-5.7zM176.7 415h5.7v3h-5.7zM230.9 415h3v3h-3zM277 415h5.7v3h-5.7zM317.7 415h3v3h-3zM428.9 415h3v3h-3zM532 415h3v3h-3zM157.7 417.7h8.4v3h-8.4zM182.1 417.7h3v3h-3zM230.9 417.7h3v3h-3zM315 417.7h3v3h-3zM428.9 417.7h3v3h-3zM163.1 420.4h3v3h-3zM182.1 420.4h3v3h-3zM230.9 420.4h3v3h-3zM315 420.4h3v3h-3zM428.9 420.4h3v3h-3zM165.8 423.1h3v3h-3zM182.1 423.1h5.7v3h-5.7zM230.9 423.1h3v3h-3zM306.9 423.1h5.7v3h-5.7zM428.9 423.1h3v3h-3zM542.8 423.1h19.3v3h-19.3zM168.6 425.8h3v3h-3zM184.8 425.8h5.7v3h-5.7zM230.9 425.8h3v3h-3zM301.4 425.8h5.7v3h-5.7zM534.7 425.8h5.7v3h-5.7zM561.8 425.8h5.7v3h-5.7zM171.3 428.5h3v3h-3zM187.5 428.5h3v3h-3zM230.9 428.5h3v3h-3zM298.7 428.5h5.7v3h-5.7zM426.2 428.5h3v3h-3zM534.7 428.5h3v3h-3zM564.5 428.5h3v3h-3zM174 431.2h11.1v3h-11.1zM190.3 431.2h3v3h-3zM230.9 431.2h3v3h-3zM296 431.2h3v3h-3zM504.8 431.2h3v3h-3zM534.7 431.2h3v3h-3zM564.5 431.2h3v3h-3zM176.7 434h3v3h-3zM184.8 434h13.9v3h-13.9zM230.9 434h3v3h-3zM293.3 434h3v3h-3zM428.9 434h3v3h-3zM456 434h11.1v3h-11.1zM475 434h27.4v3h-27.4zM510.3 434h3v3h-3zM564.5 434h3v3h-3zM193 436.7h3v3h-3zM198.4 436.7h5.7v3h-5.7zM230.9 436.7h3v3h-3zM290.6 436.7h5.7v3h-5.7zM428.9 436.7h3v3h-3zM447.9 436.7h8.4v3h-8.4zM510.3 436.7h3v3h-3zM564.5 436.7h3v3h-3zM193 439.4h3v3h-3zM201.1 439.4h5.7v3h-5.7zM290.6 439.4h3v3h-3zM428.9 439.4h3v3h-3zM447.9 439.4h3v3h-3zM513 439.4h3v3h-3zM564.5 439.4h3v3h-3zM195.7 442.1h8.4v3h-8.4zM206.5 442.1h5.7v3h-5.7zM228.2 442.1h3v3h-3zM290.6 442.1h3v3h-3zM428.9 442.1h5.7v3h-5.7zM442.5 442.1h5.7v3h-5.7zM513 442.1h3v3h-3zM203.8 444.8h3v3h-3zM209.2 444.8h3v3h-3zM228.2 444.8h3v3h-3zM287.9 444.8h5.7v3h-5.7zM431.6 444.8h3v3h-3zM439.8 444.8h3v3h-3zM513 444.8h3v3h-3zM203.8 447.5h5.7v3h-5.7zM212 447.5h3v3h-3zM225.5 447.5h3v3h-3zM287.9 447.5h3v3h-3zM431.6 447.5h3v3h-3zM439.8 447.5h3v3h-3zM510.3 447.5h3v3h-3zM567.2 447.5h3v3h-3zM201.1 450.2h3v3h-3zM206.5 450.2h8.4v3h-8.4zM217.4 450.2h5.7v3h-5.7zM287.9 450.2h3v3h-3zM428.9 450.2h3v3h-3zM437 450.2h3v3h-3zM510.3 450.2h3v3h-3zM567.2 450.2h3v3h-3zM212 452.9h3v3h-3zM287.9 452.9h3v3h-3zM428.9 452.9h3v3h-3zM507.6 452.9h3v3h-3zM567.2 452.9h3v3h-3zM155 455.6h3v3h-3zM212 455.6h5.7v3h-5.7zM287.9 455.6h3v3h-3zM420.8 455.6h5.7v3h-5.7zM434.3 455.6h3v3h-3zM502.1 455.6h5.7v3h-5.7zM567.2 455.6h3v3h-3zM155 458.4h3v3h-3zM209.2 458.4h11.1v3h-11.1zM287.9 458.4h3v3h-3zM418.1 458.4h5.7v3h-5.7zM434.3 458.4h3v3h-3zM499.4 458.4h5.7v3h-5.7zM567.2 458.4h3v3h-3zM155 461.1h5.7v3h-5.7zM220.1 461.1h3v3h-3zM287.9 461.1h5.7v3h-5.7zM412.6 461.1h3v3h-3zM447.9 461.1h51.8v3h-51.8zM534.7 461.1h3v3h-3zM564.5 461.1h5.7v3h-5.7zM160.4 463.8h3v3h-3zM222.8 463.8h3v3h-3zM290.6 463.8h3v3h-3zM409.9 463.8h3v3h-3zM437 463.8h8.4v3h-8.4zM534.7 463.8h5.7v3h-5.7zM551 463.8h16.6v3h-16.6z"/>
<path fill="#0055ff" d="M464.2 40.7h3v3h-3zM464.2 43.4h3v3h-3zM461.5 48.8h3v3h-3zM461.5 51.6h3v3h-3zM461.5 54.3h3v3h-3zM461.5 57h3v3h-3zM458.7 59.7h3v3h-3zM456 65.1h3v3h-3zM453.3 67.8h3v3h-3zM453.3 70.5h3v3h-3zM450.6 73.3h3v3h-3zM447.9 76h3v3h-3zM445.2 81.4h3v3h-3zM442.5 84.1h3v3h-3zM439.8 86.8h3v3h-3zM437 92.2h3v3h-3zM434.3 100.4h3v3h-3zM434.3 103.1h3v3h-3zM431.6 105.8h5.7v3h-5.7zM431.6 108.5h11.1v3h-11.1zM458.7 111.2h5.7v3h-5.7zM423.5 113.9h5.7v3h-5.7zM461.5 113.9h5.7v3h-5.7zM420.8 116.6h3v3h-3zM428.9 116.6h3v3h-3zM461.5 116.6h5.7v3h-5.7zM418.1 119.4h3v3h-3zM428.9 119.4h3v3h-3zM461.5 119.4h5.7v3h-5.7zM415.4 122.1h3v3h-3zM461.5 122.1h3v3h-3zM412.6 124.8h3v3h-3zM434.3 124.8h3v3h-3zM458.7 124.8h5.7v3h-5.7zM412.6 127.5h3v3h-3zM458.7 127.5h5.7v3h-5.7zM409.9 130.2h3v3h-3zM437 130.2h3v3h-3zM458.7 130.2h3v3h-3zM456 132.9h5.7v3h-5.7zM401.8 135.6h5.7v3h-5.7zM456 135.6h5.7v3h-5.7zM399.1 138.3h3v3h-3zM439.8 138.3h3v3h-3zM456 138.3h3v3h-3zM393.7 141.1h3v3h-3zM439.8 141.1h5.7v3h-5.7zM456 141.1h3v3h-3zM390.9 143.8h3v3h-3zM442.5 143.8h5.7v3h-5.7zM453.3 143.8h3v3h-3zM388.2 146.5h3v3h-3zM442.5 146.5h5.7v3h-5.7zM453.3 146.5h3v3h-3zM372 149.2h11.1v3h-11.1zM445.2 149.2h11.1v3h-11.1zM366.5 151.9h3v3h-3zM447.9 151.9h5.7v3h-5.7zM363.8 154.6h5.7v3h-5.7zM447.9 154.6h5.7v3h-5.7zM358.4 157.3h5.7v3h-5.7zM450.6 157.3h3v3h-3zM344.8 160h5.7v3h-5.7zM334 162.8h5.7v3h-5.7zM331.3 165.5h5.7v3h-5.7zM331.3 168.2h3v3h-3zM328.6 170.9h5.7v3h-5.7zM328.6 173.6h3v3h-3zM325.9 176.3h5.7v3h-5.7zM325.9 179h5.7v3h-5.7zM325.9 181.7h5.7v3h-5.7zM325.9 184.4h5.7v3h-5.7zM325.9 187.2h5.7v3h-5.7zM325.9 189.9h5.7v3h-5.7zM325.9 192.6h5.7v3h-5.7zM325.9 195.3h5.7v3h-5.7zM325.9 198h5.7v3h-5.7zM325.9 200.7h5.7v3h-5.7zM325.9 203.4h3v3h-3zM325.9 206.1h3v3h-3zM323.1 208.9h5.7v3h-5.7zM323.1 211.6h5.7v3h-5.7zM323.1 214.3h5.7v3h-5.7zM323.1 217h5.7v3h-5.7zM320.4 219.7h5.7v3h-5.7zM320.4 222.4h5.7v3h-5.7zM320.4 225.1h5.7v3h-5.7zM472.3 225.1h3v3h-3zM317.7 227.8h8.4v3h-8.4zM472.3 227.8h5.7v3h-5.7zM317.7 230.6h8.4v3h-8.4zM472.3 230.6h5.7v3h-5.7zM317.7 233.3h8.4v3h-8.4zM472.3 233.3h5.7v3h-5.7zM315 236h8.4v3h-8.4zM469.6 236h8.4v3h-8.4zM315 238.7h8.4v3h-8.4zM466.9 238.7h5.7v3h-5.7zM475 238.7h3v3h-3zM315 241.4h8.4v3h-8.4zM466.9 241.4h5.7v3h-5.7zM475 241.4h3v3h-3zM315 244.1h8.4v3h-8.4zM466.9 244.1h5.7v3h-5.7zM475 244.1h3v3h-3zM315 246.8h8.4v3h-8.4zM466.9 246.8h13.9v3h-13.9zM315 249.5h5.7v3h-5.7zM458.7 249.5h3v3h-3zM464.2 249.5h16.6v3h-16.6zM315 252.2h5.7v3h-5.7zM464.2 252.2h19.3v3h-19.3zM312.3 255h8.4v3h-8.4zM461.5 255h22v3h-22zM312.3 257.7h5.7v3h-5.7zM458.7 257.7h22v3h-22zM312.3 260.4h5.7v3h-5.7zM458.7 260.4h3v3h-3zM464.2 260.4h13.9v3h-13.9zM312.3 263.1h5.7v3h-5.7zM458.7 263.1h5.7v3h-5.7zM469.6 263.1h5.7v3h-5.7zM312.3 265.8h3v3h-3zM461.5 265.8h8.4v3h-8.4zM477.7 265.8h3v3h-3zM309.6 268.5h5.7v3h-5.7zM483.2 268.5h3v3h-3zM309.6 271.2h5.7v3h-5.7zM453.3 271.2h3v3h-3zM488.6 271.2h3v3h-3zM496.7 271.2h3v3h-3zM309.6 273.9h5.7v3h-5.7zM491.3 273.9h8.4v3h-8.4zM306.9 276.7h5.7v3h-5.7zM306.9 279.4h5.7v3h-5.7zM453.3 279.4h5.7v3h-5.7zM306.9 282.1h5.7v3h-5.7zM450.6 282.1h5.7v3h-5.7zM499.4 282.1h3v3h-3zM304.2 284.8h5.7v3h-5.7zM447.9 284.8h5.7v3h-5.7zM461.5 284.8h3v3h-3zM304.2 287.5h3v3h-3zM450.6 287.5h3v3h-3zM461.5 287.5h3v3h-3zM502.1 287.5h3v3h-3zM301.4 290.2h5.7v3h-5.7zM461.5 290.2h3v3h-3zM475 290.2h3v3h-3zM507.6 290.2h3v3h-3zM298.7 292.9h5.7v3h-5.7zM450.6 292.9h3v3h-3zM461.5 292.9h3v3h-3zM298.7 295.6h3v3h-3zM450.6 295.6h3v3h-3zM461.5 295.6h3v3h-3zM472.3 295.6h3v3h-3zM513 295.6h3v3h-3zM296 298.4h5.7v3h-5.7zM453.3 298.4h11.1v3h-11.1zM176.7 301.1h16.6v3h-16.6zM296 301.1h3v3h-3zM461.5 301.1h3v3h-3zM174 303.8h22v3h-22zM296 303.8h3v3h-3zM515.7 303.8h3v3h-3zM174 306.5h24.7v3h-24.7zM296 306.5h3v3h-3zM464.2 306.5h3v3h-3zM515.7 306.5h3v3h-3zM171.3 309.2h27.4v3h-27.4zM296 309.2h3v3h-3zM464.2 309.2h3v3h-3zM515.7 309.2h3v3h-3zM171.3 311.9h30.1v3h-30.1zM290.6 311.9h8.4v3h-8.4zM518.4 311.9h3v3h-3zM171.3 314.6h32.8v3h-32.8zM287.9 314.6h8.4v3h-8.4zM515.7 314.6h3v3h-3zM171.3 317.3h32.8v3h-32.8zM282.5 317.3h11.1v3h-11.1zM434.3 317.3h3v3h-3zM513 317.3h5.7v3h-5.7zM171.3 320h32.8v3h-32.8zM277 320h11.1v3h-11.1zM428.9 320h3v3h-3zM437 320h3v3h-3zM174 322.8h30.1v3h-30.1zM271.6 322.8h11.1v3h-11.1zM426.2 322.8h3v3h-3zM431.6 322.8h8.4v3h-8.4zM464.2 322.8h3v3h-3zM182.1 325.5h13.9v3h-13.9zM266.2 325.5h13.9v3h-13.9zM423.5 325.5h3v3h-3zM428.9 325.5h11.1v3h-11.1zM515.7 325.5h3v3h-3zM263.5 328.2h11.1v3h-11.1zM420.8 328.2h3v3h-3zM426.2 328.2h13.9v3h-13.9zM515.7 328.2h5.7v3h-5.7zM260.8 330.9h8.4v3h-8.4zM418.1 330.9h3v3h-3zM426.2 330.9h11.1v3h-11.1zM464.2 330.9h3v3h-3zM521.1 330.9h3v3h-3zM260.8 333.6h5.7v3h-5.7zM418.1 333.6h3v3h-3zM423.5 333.6h11.1v3h-11.1zM464.2 333.6h3v3h-3zM521.1 333.6h3v3h-3zM255.3 336.3h11.1v3h-11.1zM415.4 336.3h3v3h-3zM420.8 336.3h11.1v3h-11.1zM464.2 336.3h5.7v3h-5.7zM252.6 339h8.4v3h-8.4zM409.9 339h5.7v3h-5.7zM418.1 339h11.1v3h-11.1zM466.9 339h5.7v3h-5.7zM523.8 339h3v3h-3zM247.2 341.7h11.1v3h-11.1zM407.2 341.7h3v3h-3zM415.4 341.7h11.1v3h-11.1zM469.6 341.7h5.7v3h-5.7zM526.5 341.7h3v3h-3zM244.5 344.5h11.1v3h-11.1zM407.2 344.5h3v3h-3zM412.6 344.5h11.1v3h-11.1zM472.3 344.5h5.7v3h-5.7zM526.5 344.5h3v3h-3zM241.8 347.2h8.4v3h-8.4zM404.5 347.2h3v3h-3zM409.9 347.2h11.1v3h-11.1zM466.9 347.2h11.1v3h-11.1zM526.5 347.2h3v3h-3zM239.1 349.9h8.4v3h-8.4zM404.5 349.9h13.9v3h-13.9zM464.2 349.9h13.9v3h-13.9zM526.5 349.9h5.7v3h-5.7zM239.1 352.6h3v3h-3zM404.5 352.6h11.1v3h-11.1zM464.2 352.6h8.4v3h-8.4zM529.3 352.6h3v3h-3zM236.4 355.3h5.7v3h-5.7zM396.4 355.3h3v3h-3zM404.5 355.3h8.4v3h-8.4zM461.5 355.3h8.4v3h-8.4zM529.3 355.3h3v3h-3zM236.4 358h3v3h-3zM393.7 358h5.7v3h-5.7zM401.8 358h8.4v3h-8.4zM461.5 358h5.7v3h-5.7zM532 358h3v3h-3zM236.4 360.7h3v3h-3zM390.9 360.7h16.6v3h-16.6zM458.7 360.7h5.7v3h-5.7zM532 360.7h3v3h-3zM236.4 363.4h3v3h-3zM388.2 363.4h19.3v3h-19.3zM458.7 363.4h5.7v3h-5.7zM532 363.4h3v3h-3zM155 366.2h3v3h-3zM236.4 366.2h3v3h-3zM382.8 366.2h5.7v3h-5.7zM404.5 366.2h5.7v3h-5.7zM456 366.2h5.7v3h-5.7zM485.9 366.2h8.4v3h-8.4zM532 366.2h3v3h-3zM155 368.9h5.7v3h-5.7zM236.4 368.9h3v3h-3zM380.1 368.9h3v3h-3zM407.2 368.9h5.7v3h-5.7zM453.3 368.9h5.7v3h-5.7zM480.4 368.9h13.9v3h-13.9zM529.3 368.9h5.7v3h-5.7zM155 371.6h8.4v3h-8.4zM236.4 371.6h3v3h-3zM377.4 371.6h5.7v3h-5.7zM407.2 371.6h8.4v3h-8.4zM453.3 371.6h3v3h-3zM477.7 371.6h16.6v3h-16.6zM518.4 371.6h3v3h-3zM529.3 371.6h3v3h-3zM157.7 374.3h8.4v3h-8.4zM236.4 374.3h3v3h-3zM372 374.3h5.7v3h-5.7zM409.9 374.3h8.4v3h-8.4zM450.6 374.3h3v3h-3zM475 374.3h5.7v3h-5.7zM485.9 374.3h5.7v3h-5.7zM518.4 374.3h3v3h-3zM526.5 374.3h5.7v3h-5.7zM160.4 377h5.7v3h-5.7zM236.4 377h3v3h-3zM369.2 377h5.7v3h-5.7zM412.6 377h8.4v3h-8.4zM447.9 377h5.7v3h-5.7zM475 377h3v3h-3zM485.9 377h8.4v3h-8.4zM521.1 377h8.4v3h-8.4zM163.1 379.7h5.7v3h-5.7zM236.4 379.7h3v3h-3zM363.8 379.7h5.7v3h-5.7zM412.6 379.7h13.9v3h-13.9zM445.2 379.7h3v3h-3zM472.3 379.7h3v3h-3zM488.6 379.7h5.7v3h-5.7zM521.1 379.7h8.4v3h-8.4zM163.1 382.4h5.7v3h-5.7zM236.4 382.4h3v3h-3zM363.8 382.4h5.7v3h-5.7zM418.1 382.4h13.9v3h-13.9zM442.5 382.4h5.7v3h-5.7zM466.9 382.4h5.7v3h-5.7zM488.6 382.4h8.4v3h-8.4zM521.1 382.4h3v3h-3zM163.1 385.1h5.7v3h-5.7zM236.4 385.1h3v3h-3zM361.1 385.1h3v3h-3zM423.5 385.1h22v3h-22zM464.2 385.1h5.7v3h-5.7zM491.3 385.1h11.1v3h-11.1zM518.4 385.1h5.7v3h-5.7zM163.1 387.8h8.4v3h-8.4zM236.4 387.8h3v3h-3zM355.7 387.8h5.7v3h-5.7zM431.6 387.8h8.4v3h-8.4zM461.5 387.8h5.7v3h-5.7zM496.7 387.8h13.9v3h-13.9zM515.7 387.8h8.4v3h-8.4zM165.8 390.6h5.7v3h-5.7zM236.4 390.6h3v3h-3zM353 390.6h5.7v3h-5.7zM434.3 390.6h5.7v3h-5.7zM458.7 390.6h5.7v3h-5.7zM499.4 390.6h11.1v3h-11.1zM513 390.6h8.4v3h-8.4zM165.8 393.3h5.7v3h-5.7zM236.4 393.3h3v3h-3zM350.3 393.3h5.7v3h-5.7zM456 393.3h5.7v3h-5.7zM504.8 393.3h13.9v3h-13.9zM165.8 396h5.7v3h-5.7zM236.4 396h3v3h-3zM347.6 396h5.7v3h-5.7zM453.3 396h5.7v3h-5.7zM526.5 396h11.1v3h-11.1zM165.8 398.7h8.4v3h-8.4zM236.4 398.7h3v3h-3zM279.8 398.7h5.7v3h-5.7zM344.8 398.7h5.7v3h-5.7zM445.2 398.7h8.4v3h-8.4zM523.8 398.7h16.6v3h-16.6zM168.6 401.4h5.7v3h-5.7zM236.4 401.4h3v3h-3zM277 401.4h11.1v3h-11.1zM342.1 401.4h3v3h-3zM439.8 401.4h8.4v3h-8.4zM521.1 401.4h8.4v3h-8.4zM534.7 401.4h5.7v3h-5.7zM168.6 404.1h5.7v3h-5.7zM236.4 404.1h3v3h-3zM274.3 404.1h5.7v3h-5.7zM282.5 404.1h8.4v3h-8.4zM328.6 404.1h13.9v3h-13.9zM431.6 404.1h11.1v3h-11.1zM521.1 404.1h5.7v3h-5.7zM534.7 404.1h8.4v3h-8.4zM155 406.8h3v3h-3zM168.6 406.8h5.7v3h-5.7zM236.4 406.8h3v3h-3zM274.3 406.8h3v3h-3zM285.2 406.8h5.7v3h-5.7zM320.4 406.8h8.4v3h-8.4zM431.6 406.8h5.7v3h-5.7zM521.1 406.8h5.7v3h-5.7zM537.4 406.8h5.7v3h-5.7zM155 409.5h8.4v3h-8.4zM168.6 409.5h5.7v3h-5.7zM233.6 409.5h5.7v3h-5.7zM274.3 409.5h3v3h-3zM285.2 409.5h5.7v3h-5.7zM317.7 409.5h5.7v3h-5.7zM434.3 409.5h3v3h-3zM521.1 409.5h5.7v3h-5.7zM537.4 409.5h5.7v3h-5.7zM155 412.3h11.1v3h-11.1zM168.6 412.3h8.4v3h-8.4zM233.6 412.3h5.7v3h-5.7zM274.3 412.3h3v3h-3zM285.2 412.3h5.7v3h-5.7zM317.7 412.3h3v3h-3zM434.3 412.3h3v3h-3zM521.1 412.3h5.7v3h-5.7zM534.7 412.3h8.4v3h-8.4zM160.4 415h16.6v3h-16.6zM233.6 415h5.7v3h-5.7zM274.3 415h3v3h-3zM282.5 415h8.4v3h-8.4zM315 415h3v3h-3zM431.6 415h3v3h-3zM521.1 415h11.1v3h-11.1zM534.7 415h5.7v3h-5.7zM165.8 417.7h16.6v3h-16.6zM233.6 417.7h3v3h-3zM274.3 417.7h13.9v3h-13.9zM312.3 417.7h3v3h-3zM431.6 417.7h3v3h-3zM523.8 417.7h16.6v3h-16.6zM165.8 420.4h16.6v3h-16.6zM233.6 420.4h3v3h-3zM277 420.4h8.4v3h-8.4zM306.9 420.4h8.4v3h-8.4zM431.6 420.4h3v3h-3zM529.3 420.4h35.6v3h-35.6zM168.6 423.1h13.9v3h-13.9zM233.6 423.1h3v3h-3zM301.4 423.1h5.7v3h-5.7zM431.6 423.1h3v3h-3zM532 423.1h11.1v3h-11.1zM561.8 423.1h5.7v3h-5.7zM171.3 425.8h13.9v3h-13.9zM233.6 425.8h5.7v3h-5.7zM296 425.8h5.7v3h-5.7zM428.9 425.8h5.7v3h-5.7zM532 425.8h3v3h-3zM567.2 425.8h3v3h-3zM174 428.5h13.9v3h-13.9zM233.6 428.5h5.7v3h-5.7zM293.3 428.5h5.7v3h-5.7zM428.9 428.5h5.7v3h-5.7zM504.8 428.5h5.7v3h-5.7zM532 428.5h3v3h-3zM567.2 428.5h3v3h-3zM184.8 431.2h5.7v3h-5.7zM233.6 431.2h3v3h-3zM290.6 431.2h5.7v3h-5.7zM428.9 431.2h5.7v3h-5.7zM456 431.2h49.1v3h-49.1zM507.6 431.2h5.7v3h-5.7zM532 431.2h3v3h-3zM567.2 431.2h3v3h-3zM233.6 434h3v3h-3zM287.9 434h5.7v3h-5.7zM431.6 434h3v3h-3zM447.9 434h8.4v3h-8.4zM513 434h3v3h-3zM532 434h3v3h-3zM567.2 434h3v3h-3zM195.7 436.7h3v3h-3zM233.6 436.7h3v3h-3zM285.2 436.7h5.7v3h-5.7zM431.6 436.7h3v3h-3zM445.2 436.7h3v3h-3zM513 436.7h5.7v3h-5.7zM532 436.7h3v3h-3zM567.2 436.7h3v3h-3zM195.7 439.4h5.7v3h-5.7zM230.9 439.4h5.7v3h-5.7zM285.2 439.4h5.7v3h-5.7zM431.6 439.4h3v3h-3zM442.5 439.4h5.7v3h-5.7zM515.7 439.4h5.7v3h-5.7zM532 439.4h3v3h-3zM567.2 439.4h3v3h-3zM203.8 442.1h3v3h-3zM230.9 442.1h3v3h-3zM285.2 442.1h5.7v3h-5.7zM434.3 442.1h3v3h-3zM439.8 442.1h3v3h-3zM515.7 442.1h5.7v3h-5.7zM529.3 442.1h5.7v3h-5.7zM567.2 442.1h3v3h-3zM206.5 444.8h3v3h-3zM230.9 444.8h3v3h-3zM282.5 444.8h5.7v3h-5.7zM434.3 444.8h5.7v3h-5.7zM515.7 444.8h5.7v3h-5.7zM529.3 444.8h5.7v3h-5.7zM567.2 444.8h5.7v3h-5.7zM209.2 447.5h3v3h-3zM228.2 447.5h5.7v3h-5.7zM282.5 447.5h5.7v3h-5.7zM434.3 447.5h5.7v3h-5.7zM513 447.5h8.4v3h-8.4zM529.3 447.5h5.7v3h-5.7zM569.9 447.5h3v3h-3zM214.7 450.2h3v3h-3zM222.8 450.2h8.4v3h-8.4zM282.5 450.2h5.7v3h-5.7zM431.6 450.2h5.7v3h-5.7zM513 450.2h5.7v3h-5.7zM532 450.2h3v3h-3zM569.9 450.2h3v3h-3zM214.7 452.9h13.9v3h-13.9zM282.5 452.9h5.7v3h-5.7zM431.6 452.9h5.7v3h-5.7zM510.3 452.9h5.7v3h-5.7zM532 452.9h3v3h-3zM569.9 452.9h3v3h-3zM217.4 455.6h11.1v3h-11.1zM282.5 455.6h5.7v3h-5.7zM426.2 455.6h8.4v3h-8.4zM507.6 455.6h5.7v3h-5.7zM532 455.6h3v3h-3zM569.9 455.6h3v3h-3zM220.1 458.4h8.4v3h-8.4zM282.5 458.4h5.7v3h-5.7zM423.5 458.4h11.1v3h-11.1zM504.8 458.4h8.4v3h-8.4zM532 458.4h3v3h-3zM569.9 458.4h3v3h-3zM222.8 461.1h8.4v3h-8.4zM282.5 461.1h5.7v3h-5.7zM415.4 461.1h11.1v3h-11.1zM428.9 461.1h8.4v3h-8.4zM499.4 461.1h11.1v3h-11.1zM532 461.1h3v3h-3zM569.9 461.1h3v3h-3zM155 463.8h5.7v3h-5.7zM225.5 463.8h5.7v3h-5.7zM285.2 463.8h5.7v3h-5.7zM412.6 463.8h5.7v3h-5.7zM431.6 463.8h5.7v3h-5.7zM445.2 463.8h60v3h-60zM532 463.8h3v3h-3zM567.2 463.8h3v3h-3z"/>
<path fill="#0066ff" d="M466.9 38h3v3h-3zM466.9 40.7h3v3h-3zM464.2 46.1h3v3h-3zM464.2 48.8h3v3h-3zM461.5 59.7h3v3h-3zM458.7 62.4h3v3h-3zM456 67.8h3v3h-3zM453.3 73.3h3v3h-3zM450.6 76h3v3h-3zM447.9 78.7h3v3h-3zM447.9 81.4h3v3h-3zM445.2 84.1h3v3h-3zM442.5 86.8h3v3h-3zM439.8 89.5h5.7v3h-5.7zM439.8 92.2h3v3h-3zM437 95h3v3h-3zM437 97.7h3v3h-3zM437 100.4h3v3h-3zM437 103.1h3v3h-3zM437 105.8h5.7v3h-5.7zM442.5 108.5h8.4v3h-8.4zM453.3 108.5h11.1v3h-11.1zM423.5 116.6h5.7v3h-5.7zM420.8 119.4h8.4v3h-8.4zM418.1 122.1h3v3h-3zM431.6 122.1h3v3h-3zM464.2 122.1h3v3h-3zM415.4 124.8h3v3h-3zM464.2 124.8h3v3h-3zM434.3 127.5h3v3h-3zM412.6 130.2h3v3h-3zM461.5 130.2h3v3h-3zM407.2 132.9h3v3h-3zM437 132.9h3v3h-3zM461.5 132.9h3v3h-3zM407.2 135.6h3v3h-3zM437 135.6h3v3h-3zM401.8 138.3h3v3h-3zM458.7 138.3h3v3h-3zM396.4 141.1h5.7v3h-5.7zM393.7 143.8h3v3h-3zM439.8 143.8h3v3h-3zM456 143.8h3v3h-3zM390.9 146.5h3v3h-3zM456 146.5h3v3h-3zM382.8 149.2h8.4v3h-8.4zM442.5 149.2h3v3h-3zM369.2 151.9h11.1v3h-11.1zM445.2 151.9h3v3h-3zM453.3 151.9h3v3h-3zM369.2 154.6h3v3h-3zM453.3 154.6h3v3h-3zM363.8 157.3h5.7v3h-5.7zM447.9 157.3h3v3h-3zM350.3 160h8.4v3h-8.4zM339.4 162.8h8.4v3h-8.4zM336.7 165.5h5.7v3h-5.7zM334 168.2h5.7v3h-5.7zM334 170.9h3v3h-3zM331.3 173.6h5.7v3h-5.7zM331.3 176.3h3v3h-3zM331.3 179h3v3h-3zM331.3 181.7h3v3h-3zM331.3 184.4h3v3h-3zM331.3 187.2h3v3h-3zM331.3 189.9h3v3h-3zM331.3 192.6h3v3h-3zM331.3 195.3h3v3h-3zM331.3 198h3v3h-3zM331.3 200.7h3v3h-3zM328.6 203.4h5.7v3h-5.7zM328.6 206.1h5.7v3h-5.7zM328.6 208.9h3v3h-3zM328.6 211.6h3v3h-3zM469.6 211.6h3v3h-3zM328.6 214.3h3v3h-3zM469.6 214.3h3v3h-3zM328.6 217h3v3h-3zM472.3 217h3v3h-3zM325.9 219.7h5.7v3h-5.7zM472.3 219.7h3v3h-3zM325.9 222.4h5.7v3h-5.7zM472.3 222.4h5.7v3h-5.7zM325.9 225.1h5.7v3h-5.7zM469.6 225.1h3v3h-3zM475 225.1h3v3h-3zM325.9 227.8h5.7v3h-5.7zM469.6 227.8h3v3h-3zM325.9 230.6h5.7v3h-5.7zM325.9 233.3h3v3h-3zM469.6 233.3h3v3h-3zM323.1 236h5.7v3h-5.7zM466.9 236h3v3h-3zM323.1 238.7h5.7v3h-5.7zM464.2 238.7h3v3h-3zM323.1 241.4h3v3h-3zM464.2 241.4h3v3h-3zM323.1 244.1h3v3h-3zM458.7 244.1h8.4v3h-8.4zM477.7 244.1h3v3h-3zM323.1 246.8h3v3h-3zM458.7 246.8h8.4v3h-8.4zM480.4 246.8h3v3h-3zM320.4 249.5h5.7v3h-5.7zM456 249.5h3v3h-3zM461.5 249.5h3v3h-3zM480.4 249.5h3v3h-3zM320.4 252.2h5.7v3h-5.7zM439.8 252.2h5.7v3h-5.7zM456 252.2h8.4v3h-8.4zM320.4 255h3v3h-3zM439.8 255h5.7v3h-5.7zM456 255h5.7v3h-5.7zM317.7 257.7h5.7v3h-5.7zM439.8 257.7h5.7v3h-5.7zM456 257.7h3v3h-3zM480.4 257.7h3v3h-3zM317.7 260.4h5.7v3h-5.7zM442.5 260.4h5.7v3h-5.7zM456 260.4h3v3h-3zM461.5 260.4h3v3h-3zM477.7 260.4h5.7v3h-5.7zM317.7 263.1h5.7v3h-5.7zM445.2 263.1h5.7v3h-5.7zM464.2 263.1h5.7v3h-5.7zM475 263.1h5.7v3h-5.7zM315 265.8h5.7v3h-5.7zM447.9 265.8h5.7v3h-5.7zM480.4 265.8h3v3h-3zM315 268.5h5.7v3h-5.7zM447.9 268.5h5.7v3h-5.7zM485.9 268.5h3v3h-3zM315 271.2h3v3h-3zM450.6 271.2h3v3h-3zM494 271.2h3v3h-3zM315 273.9h3v3h-3zM453.3 273.9h3v3h-3zM499.4 273.9h3v3h-3zM312.3 276.7h5.7v3h-5.7zM456 276.7h3v3h-3zM499.4 276.7h3v3h-3zM312.3 279.4h5.7v3h-5.7zM445.2 279.4h8.4v3h-8.4zM499.4 279.4h3v3h-3zM312.3 282.1h3v3h-3zM447.9 282.1h3v3h-3zM309.6 284.8h5.7v3h-5.7zM464.2 284.8h8.4v3h-8.4zM502.1 284.8h3v3h-3zM306.9 287.5h5.7v3h-5.7zM447.9 287.5h3v3h-3zM472.3 287.5h3v3h-3zM504.8 287.5h3v3h-3zM306.9 290.2h5.7v3h-5.7zM447.9 290.2h3v3h-3zM510.3 290.2h3v3h-3zM304.2 292.9h5.7v3h-5.7zM447.9 292.9h3v3h-3zM513 292.9h3v3h-3zM301.4 295.6h5.7v3h-5.7zM447.9 295.6h3v3h-3zM301.4 298.4h5.7v3h-5.7zM450.6 298.4h3v3h-3zM515.7 298.4h3v3h-3zM298.7 301.1h5.7v3h-5.7zM456 301.1h5.7v3h-5.7zM515.7 301.1h3v3h-3zM298.7 303.8h5.7v3h-5.7zM461.5 303.8h3v3h-3zM518.4 303.8h3v3h-3zM298.7 306.5h5.7v3h-5.7zM518.4 306.5h3v3h-3zM298.7 309.2h3v3h-3zM518.4 309.2h3v3h-3zM298.7 311.9h3v3h-3zM461.5 311.9h3v3h-3zM296 314.6h5.7v3h-5.7zM461.5 314.6h3v3h-3zM518.4 314.6h3v3h-3zM293.3 317.3h8.4v3h-8.4zM431.6 317.3h3v3h-3zM437 317.3h3v3h-3zM461.5 317.3h3v3h-3zM518.4 317.3h3v3h-3zM287.9 320h13.9v3h-13.9zM426.2 320h3v3h-3zM439.8 320h3v3h-3zM461.5 320h3v3h-3zM515.7 320h5.7v3h-5.7zM282.5 322.8h19.3v3h-19.3zM423.5 322.8h3v3h-3zM439.8 322.8h3v3h-3zM515.7 322.8h5.7v3h-5.7zM279.8 325.5h22v3h-22zM420.8 325.5h3v3h-3zM439.8 325.5h3v3h-3zM464.2 325.5h3v3h-3zM518.4 325.5h3v3h-3zM274.3 328.2h27.4v3h-27.4zM418.1 328.2h3v3h-3zM439.8 328.2h5.7v3h-5.7zM464.2 328.2h3v3h-3zM521.1 328.2h3v3h-3zM268.9 330.9h35.6v3h-35.6zM415.4 330.9h3v3h-3zM437 330.9h8.4v3h-8.4zM523.8 330.9h3v3h-3zM266.2 333.6h38.3v3h-38.3zM415.4 333.6h3v3h-3zM434.3 333.6h13.9v3h-13.9zM461.5 333.6h3v3h-3zM523.8 333.6h3v3h-3zM266.2 336.3h38.3v3h-38.3zM412.6 336.3h3v3h-3zM431.6 336.3h32.8v3h-32.8zM523.8 336.3h5.7v3h-5.7zM260.8 339h46.4v3h-46.4zM428.9 339h38.3v3h-38.3zM526.5 339h5.7v3h-5.7zM258.1 341.7h49.1v3h-49.1zM426.2 341.7h43.7v3h-43.7zM529.3 341.7h5.7v3h-5.7zM255.3 344.5h51.8v3h-51.8zM404.5 344.5h3v3h-3zM423.5 344.5h49.1v3h-49.1zM529.3 344.5h5.7v3h-5.7zM249.9 347.2h60v3h-60zM401.8 347.2h3v3h-3zM420.8 347.2h46.4v3h-46.4zM529.3 347.2h8.4v3h-8.4zM247.2 349.9h73.5v3h-73.5zM399.1 349.9h3v3h-3zM418.1 349.9h46.4v3h-46.4zM532 349.9h8.4v3h-8.4zM241.8 352.6h89.8v3h-89.8zM396.4 352.6h3v3h-3zM415.4 352.6h49.1v3h-49.1zM532 352.6h8.4v3h-8.4zM241.8 355.3h108.8v3h-108.8zM390.9 355.3h5.7v3h-5.7zM412.6 355.3h49.1v3h-49.1zM532 355.3h8.4v3h-8.4zM239.1 358h138.6v3h-138.6zM382.8 358h11.1v3h-11.1zM409.9 358h51.8v3h-51.8zM534.7 358h8.4v3h-8.4zM239.1 360.7h152.2v3h-152.2zM407.2 360.7h51.8v3h-51.8zM534.7 360.7h8.4v3h-8.4zM239.1 363.4h149.5v3h-149.5zM407.2 363.4h51.8v3h-51.8zM534.7 363.4h8.4v3h-8.4zM239.1 366.2h144v3h-144zM409.9 366.2h46.4v3h-46.4zM534.7 366.2h8.4v3h-8.4zM239.1 368.9h141.3v3h-141.3zM412.6 368.9h41v3h-41zM534.7 368.9h8.4v3h-8.4zM239.1 371.6h138.6v3h-138.6zM415.4 371.6h38.3v3h-38.3zM532 371.6h8.4v3h-8.4zM155 374.3h3v3h-3zM239.1 374.3h133.2v3h-133.2zM418.1 374.3h32.8v3h-32.8zM480.4 374.3h5.7v3h-5.7zM532 374.3h8.4v3h-8.4zM155 377h5.7v3h-5.7zM239.1 377h130.5v3h-130.5zM420.8 377h27.4v3h-27.4zM477.7 377h8.4v3h-8.4zM529.3 377h8.4v3h-8.4zM155 379.7h8.4v3h-8.4zM239.1 379.7h125.1v3h-125.1zM426.2 379.7h19.3v3h-19.3zM475 379.7h13.9v3h-13.9zM529.3 379.7h8.4v3h-8.4zM155 382.4h8.4v3h-8.4zM239.1 382.4h125.1v3h-125.1zM431.6 382.4h11.1v3h-11.1zM472.3 382.4h16.6v3h-16.6zM523.8 382.4h13.9v3h-13.9zM155 385.1h8.4v3h-8.4zM239.1 385.1h122.3v3h-122.3zM469.6 385.1h22v3h-22zM523.8 385.1h13.9v3h-13.9zM155 387.8h8.4v3h-8.4zM239.1 387.8h116.9v3h-116.9zM466.9 387.8h30.1v3h-30.1zM523.8 387.8h16.6v3h-16.6zM155 390.6h11.1v3h-11.1zM239.1 390.6h114.2v3h-114.2zM464.2 390.6h35.6v3h-35.6zM521.1 390.6h22v3h-22zM155 393.3h11.1v3h-11.1zM239.1 393.3h111.5v3h-111.5zM461.5 393.3h43.7v3h-43.7zM518.4 393.3h27.4v3h-27.4zM155 396h11.1v3h-11.1zM239.1 396h16.6v3h-16.6zM263.5 396h84.4v3h-84.4zM458.7 396h68.1v3h-68.1zM537.4 396h11.1v3h-11.1zM155 398.7h11.1v3h-11.1zM239.1 398.7h5.7v3h-5.7zM266.2 398.7h13.9v3h-13.9zM285.2 398.7h60v3h-60zM453.3 398.7h70.8v3h-70.8zM540.1 398.7h35.6v3h-35.6zM155 401.4h13.9v3h-13.9zM239.1 401.4h3v3h-3zM266.2 401.4h11.1v3h-11.1zM287.9 401.4h54.5v3h-54.5zM447.9 401.4h73.5v3h-73.5zM540.1 401.4h35.6v3h-35.6zM155 404.1h13.9v3h-13.9zM239.1 404.1h3v3h-3zM266.2 404.1h8.4v3h-8.4zM290.6 404.1h38.3v3h-38.3zM442.5 404.1h78.9v3h-78.9zM542.8 404.1h32.8v3h-32.8zM157.7 406.8h11.1v3h-11.1zM239.1 406.8h3v3h-3zM266.2 406.8h8.4v3h-8.4zM290.6 406.8h30.1v3h-30.1zM437 406.8h84.4v3h-84.4zM542.8 406.8h32.8v3h-32.8zM163.1 409.5h5.7v3h-5.7zM239.1 409.5h3v3h-3zM266.2 409.5h8.4v3h-8.4zM290.6 409.5h27.4v3h-27.4zM437 409.5h84.4v3h-84.4zM542.8 409.5h32.8v3h-32.8zM165.8 412.3h3v3h-3zM239.1 412.3h3v3h-3zM266.2 412.3h8.4v3h-8.4zM290.6 412.3h27.4v3h-27.4zM437 412.3h84.4v3h-84.4zM542.8 412.3h32.8v3h-32.8zM239.1 415h3v3h-3zM266.2 415h8.4v3h-8.4zM290.6 415h24.7v3h-24.7zM434.3 415h87.1v3h-87.1zM540.1 415h35.6v3h-35.6zM236.4 417.7h5.7v3h-5.7zM266.2 417.7h8.4v3h-8.4zM287.9 417.7h24.7v3h-24.7zM434.3 417.7h89.8v3h-89.8zM540.1 417.7h35.6v3h-35.6zM236.4 420.4h5.7v3h-5.7zM266.2 420.4h11.1v3h-11.1zM285.2 420.4h22v3h-22zM434.3 420.4h95.2v3h-95.2zM564.5 420.4h11.1v3h-11.1zM236.4 423.1h5.7v3h-5.7zM266.2 423.1h35.6v3h-35.6zM434.3 423.1h97.9v3h-97.9zM567.2 423.1h8.4v3h-8.4zM239.1 425.8h5.7v3h-5.7zM266.2 425.8h30.1v3h-30.1zM434.3 425.8h97.9v3h-97.9zM569.9 425.8h5.7v3h-5.7zM239.1 428.5h5.7v3h-5.7zM263.5 428.5h30.1v3h-30.1zM434.3 428.5h70.8v3h-70.8zM510.3 428.5h22v3h-22zM569.9 428.5h5.7v3h-5.7zM236.4 431.2h54.5v3h-54.5zM434.3 431.2h22v3h-22zM513 431.2h19.3v3h-19.3zM569.9 431.2h5.7v3h-5.7zM236.4 434h51.8v3h-51.8zM434.3 434h13.9v3h-13.9zM515.7 434h16.6v3h-16.6zM569.9 434h5.7v3h-5.7zM236.4 436.7h49.1v3h-49.1zM434.3 436.7h11.1v3h-11.1zM518.4 436.7h13.9v3h-13.9zM569.9 436.7h5.7v3h-5.7zM236.4 439.4h49.1v3h-49.1zM434.3 439.4h8.4v3h-8.4zM521.1 439.4h11.1v3h-11.1zM569.9 439.4h5.7v3h-5.7zM233.6 442.1h51.8v3h-51.8zM437 442.1h3v3h-3zM521.1 442.1h8.4v3h-8.4zM569.9 442.1h5.7v3h-5.7zM233.6 444.8h49.1v3h-49.1zM521.1 444.8h8.4v3h-8.4zM572.6 444.8h3v3h-3zM233.6 447.5h49.1v3h-49.1zM521.1 447.5h8.4v3h-8.4zM572.6 447.5h3v3h-3zM230.9 450.2h51.8v3h-51.8zM518.4 450.2h13.9v3h-13.9zM572.6 450.2h3v3h-3zM228.2 452.9h54.5v3h-54.5zM515.7 452.9h16.6v3h-16.6zM572.6 452.9h3v3h-3zM228.2 455.6h54.5v3h-54.5zM513 455.6h19.3v3h-19.3zM572.6 455.6h3v3h-3zM228.2 458.4h54.5v3h-54.5zM513 458.4h19.3v3h-19.3zM572.6 458.4h3v3h-3zM230.9 461.1h51.8v3h-51.8zM426.2 461.1h3v3h-3zM510.3 461.1h22v3h-22zM572.6 461.1h3v3h-3zM230.9 463.8h54.5v3h-54.5zM418.1 463.8h13.9v3h-13.9zM504.8 463.8h27.4v3h-27.4zM569.9 463.8h5.7v3h-5.7z"/>
<path fill="#0077ff" d="M469.6 38h3v3h-3zM469.6 40.7h3v3h-3zM466.9 43.4h5.7v3h-5.7zM466.9 46.1h3v3h-3zM466.9 48.8h3v3h-3zM464.2 51.6h3v3h-3zM464.2 54.3h3v3h-3zM464.2 57h3v3h-3zM461.5 62.4h3v3h-3zM458.7 65.1h5.7v3h-5.7zM458.7 67.8h3v3h-3zM456 70.5h3v3h-3zM456 73.3h3v3h-3zM453.3 76h3v3h-3zM450.6 78.7h3v3h-3zM450.6 81.4h3v3h-3zM447.9 84.1h3v3h-3zM445.2 86.8h3v3h-3zM445.2 89.5h3v3h-3zM442.5 92.2h3v3h-3zM439.8 95h5.7v3h-5.7zM439.8 97.7h3v3h-3zM439.8 100.4h3v3h-3zM439.8 103.1h3v3h-3zM442.5 105.8h3v3h-3zM456 105.8h5.7v3h-5.7zM450.6 108.5h3v3h-3zM464.2 111.2h3v3h-3zM420.8 122.1h11.1v3h-11.1zM418.1 124.8h3v3h-3zM431.6 124.8h3v3h-3zM415.4 127.5h3v3h-3zM464.2 127.5h3v3h-3zM434.3 130.2h3v3h-3zM464.2 130.2h3v3h-3zM409.9 132.9h3v3h-3zM461.5 135.6h3v3h-3zM404.5 138.3h3v3h-3zM437 138.3h3v3h-3zM461.5 138.3h3v3h-3zM401.8 141.1h3v3h-3zM437 141.1h3v3h-3zM458.7 141.1h3v3h-3zM396.4 143.8h5.7v3h-5.7zM458.7 143.8h3v3h-3zM393.7 146.5h5.7v3h-5.7zM439.8 146.5h3v3h-3zM390.9 149.2h3v3h-3zM439.8 149.2h3v3h-3zM456 149.2h3v3h-3zM380.1 151.9h11.1v3h-11.1zM372 154.6h16.6v3h-16.6zM445.2 154.6h3v3h-3zM369.2 157.3h5.7v3h-5.7zM453.3 157.3h3v3h-3zM358.4 160h11.1v3h-11.1zM450.6 160h3v3h-3zM347.6 162.8h8.4v3h-8.4zM342.1 165.5h8.4v3h-8.4zM339.4 168.2h8.4v3h-8.4zM336.7 170.9h5.7v3h-5.7zM336.7 173.6h5.7v3h-5.7zM334 176.3h8.4v3h-8.4zM334 179h5.7v3h-5.7zM334 181.7h5.7v3h-5.7zM334 184.4h5.7v3h-5.7zM334 187.2h5.7v3h-5.7zM334 189.9h5.7v3h-5.7zM334 192.6h5.7v3h-5.7zM334 195.3h5.7v3h-5.7zM334 198h5.7v3h-5.7zM334 200.7h5.7v3h-5.7zM334 203.4h5.7v3h-5.7zM334 206.1h3v3h-3zM331.3 208.9h5.7v3h-5.7zM466.9 208.9h5.7v3h-5.7zM331.3 211.6h5.7v3h-5.7zM461.5 211.6h3v3h-3zM466.9 211.6h3v3h-3zM331.3 214.3h5.7v3h-5.7zM461.5 214.3h8.4v3h-8.4zM472.3 214.3h3v3h-3zM331.3 217h5.7v3h-5.7zM466.9 217h5.7v3h-5.7zM475 217h3v3h-3zM331.3 219.7h5.7v3h-5.7zM464.2 219.7h8.4v3h-8.4zM475 219.7h3v3h-3zM331.3 222.4h5.7v3h-5.7zM466.9 222.4h5.7v3h-5.7zM331.3 225.1h5.7v3h-5.7zM466.9 225.1h3v3h-3zM331.3 227.8h5.7v3h-5.7zM445.2 227.8h5.7v3h-5.7zM331.3 230.6h5.7v3h-5.7zM445.2 230.6h5.7v3h-5.7zM328.6 233.3h8.4v3h-8.4zM445.2 233.3h3v3h-3zM328.6 236h5.7v3h-5.7zM445.2 236h3v3h-3zM328.6 238.7h5.7v3h-5.7zM445.2 238.7h3v3h-3zM477.7 238.7h3v3h-3zM325.9 241.4h8.4v3h-8.4zM445.2 241.4h3v3h-3zM477.7 241.4h3v3h-3zM325.9 244.1h8.4v3h-8.4zM437 244.1h8.4v3h-8.4zM325.9 246.8h8.4v3h-8.4zM439.8 246.8h3v3h-3zM325.9 249.5h8.4v3h-8.4zM439.8 249.5h3v3h-3zM325.9 252.2h5.7v3h-5.7zM483.2 252.2h3v3h-3zM323.1 255h8.4v3h-8.4zM483.2 255h3v3h-3zM323.1 257.7h8.4v3h-8.4zM323.1 260.4h8.4v3h-8.4zM323.1 263.1h8.4v3h-8.4zM480.4 263.1h3v3h-3zM320.4 265.8h11.1v3h-11.1zM445.2 265.8h3v3h-3zM483.2 265.8h3v3h-3zM320.4 268.5h8.4v3h-8.4zM488.6 268.5h3v3h-3zM317.7 271.2h11.1v3h-11.1zM447.9 271.2h3v3h-3zM491.3 271.2h3v3h-3zM499.4 271.2h3v3h-3zM317.7 273.9h11.1v3h-11.1zM317.7 276.7h11.1v3h-11.1zM450.6 276.7h5.7v3h-5.7zM317.7 279.4h8.4v3h-8.4zM315 282.1h11.1v3h-11.1zM445.2 282.1h3v3h-3zM502.1 282.1h3v3h-3zM315 284.8h8.4v3h-8.4zM504.8 284.8h3v3h-3zM312.3 287.5h11.1v3h-11.1zM464.2 287.5h8.4v3h-8.4zM507.6 287.5h5.7v3h-5.7zM312.3 290.2h5.7v3h-5.7zM464.2 290.2h3v3h-3zM472.3 290.2h3v3h-3zM513 290.2h3v3h-3zM309.6 292.9h5.7v3h-5.7zM464.2 292.9h3v3h-3zM472.3 292.9h3v3h-3zM515.7 292.9h3v3h-3zM306.9 295.6h5.7v3h-5.7zM464.2 295.6h8.4v3h-8.4zM515.7 295.6h3v3h-3zM306.9 298.4h3v3h-3zM447.9 298.4h3v3h-3zM518.4 298.4h3v3h-3zM304.2 301.1h3v3h-3zM450.6 301.1h5.7v3h-5.7zM518.4 301.1h3v3h-3zM304.2 303.8h3v3h-3zM458.7 303.8h3v3h-3zM521.1 303.8h3v3h-3zM304.2 306.5h3v3h-3zM458.7 306.5h5.7v3h-5.7zM521.1 306.5h3v3h-3zM301.4 309.2h3v3h-3zM458.7 309.2h5.7v3h-5.7zM521.1 309.2h5.7v3h-5.7zM301.4 311.9h3v3h-3zM458.7 311.9h3v3h-3zM521.1 311.9h5.7v3h-5.7zM301.4 314.6h3v3h-3zM434.3 314.6h8.4v3h-8.4zM458.7 314.6h3v3h-3zM521.1 314.6h5.7v3h-5.7zM301.4 317.3h3v3h-3zM428.9 317.3h3v3h-3zM439.8 317.3h5.7v3h-5.7zM458.7 317.3h3v3h-3zM521.1 317.3h5.7v3h-5.7zM301.4 320h3v3h-3zM442.5 320h3v3h-3zM458.7 320h3v3h-3zM521.1 320h3v3h-3zM301.4 322.8h3v3h-3zM420.8 322.8h3v3h-3zM442.5 322.8h3v3h-3zM458.7 322.8h5.7v3h-5.7zM521.1 322.8h5.7v3h-5.7zM301.4 325.5h3v3h-3zM418.1 325.5h3v3h-3zM442.5 325.5h3v3h-3zM461.5 325.5h3v3h-3zM521.1 325.5h5.7v3h-5.7zM301.4 328.2h5.7v3h-5.7zM415.4 328.2h3v3h-3zM445.2 328.2h3v3h-3zM461.5 328.2h3v3h-3zM523.8 328.2h5.7v3h-5.7zM304.2 330.9h3v3h-3zM445.2 330.9h8.4v3h-8.4zM458.7 330.9h5.7v3h-5.7zM526.5 330.9h5.7v3h-5.7zM304.2 333.6h8.4v3h-8.4zM412.6 333.6h3v3h-3zM447.9 333.6h13.9v3h-13.9zM526.5 333.6h5.7v3h-5.7zM304.2 336.3h13.9v3h-13.9zM409.9 336.3h3v3h-3zM529.3 336.3h5.7v3h-5.7zM306.9 339h16.6v3h-16.6zM407.2 339h3v3h-3zM532 339h8.4v3h-8.4zM306.9 341.7h24.7v3h-24.7zM401.8 341.7h5.7v3h-5.7zM534.7 341.7h8.4v3h-8.4zM564.5 341.7h11.1v3h-11.1zM306.9 344.5h32.8v3h-32.8zM401.8 344.5h3v3h-3zM534.7 344.5h41v3h-41zM309.6 347.2h41v3h-41zM399.1 347.2h3v3h-3zM537.4 347.2h38.3v3h-38.3zM320.4 349.9h43.7v3h-43.7zM396.4 349.9h3v3h-3zM540.1 349.9h35.6v3h-35.6zM331.3 352.6h43.7v3h-43.7zM390.9 352.6h5.7v3h-5.7zM540.1 352.6h35.6v3h-35.6zM350.3 355.3h41v3h-41zM540.1 355.3h35.6v3h-35.6zM377.4 358h5.7v3h-5.7zM542.8 358h32.8v3h-32.8zM542.8 360.7h32.8v3h-32.8zM542.8 363.4h32.8v3h-32.8zM542.8 366.2h32.8v3h-32.8zM542.8 368.9h32.8v3h-32.8zM540.1 371.6h35.6v3h-35.6zM540.1 374.3h35.6v3h-35.6zM537.4 377h38.3v3h-38.3zM537.4 379.7h38.3v3h-38.3zM537.4 382.4h38.3v3h-38.3zM537.4 385.1h38.3v3h-38.3zM540.1 387.8h35.6v3h-35.6zM542.8 390.6h32.8v3h-32.8zM545.5 393.3h30.1v3h-30.1zM255.3 396h8.4v3h-8.4zM548.2 396h27.4v3h-27.4zM244.5 398.7h22v3h-22zM241.8 401.4h24.7v3h-24.7zM241.8 404.1h24.7v3h-24.7zM241.8 406.8h24.7v3h-24.7zM241.8 409.5h24.7v3h-24.7zM241.8 412.3h24.7v3h-24.7zM241.8 415h24.7v3h-24.7zM241.8 417.7h24.7v3h-24.7zM241.8 420.4h24.7v3h-24.7zM241.8 423.1h24.7v3h-24.7zM244.5 425.8h22v3h-22zM244.5 428.5h19.3v3h-19.3z"/>
<path fill="#0088ff" d="M472.3 38h3v3h-3zM472.3 40.7h3v3h-3zM472.3 43.4h3v3h-3zM469.6 46.1h3v3h-3zM469.6 48.8h3v3h-3zM466.9 51.6h5.7v3h-5.7zM466.9 54.3h3v3h-3zM466.9 57h3v3h-3zM464.2 59.7h3v3h-3zM464.2 62.4h3v3h-3zM461.5 67.8h3v3h-3zM458.7 70.5h3v3h-3zM458.7 73.3h3v3h-3zM456 76h3v3h-3zM453.3 78.7h3v3h-3zM453.3 81.4h3v3h-3zM450.6 84.1h5.7v3h-5.7zM447.9 86.8h5.7v3h-5.7zM447.9 89.5h5.7v3h-5.7zM445.2 92.2h5.7v3h-5.7zM445.2 95h3v3h-3zM442.5 97.7h5.7v3h-5.7zM442.5 100.4h3v3h-3zM442.5 103.1h3v3h-3zM445.2 105.8h11.1v3h-11.1zM461.5 105.8h3v3h-3zM464.2 108.5h3v3h-3zM466.9 111.2h3v3h-3zM466.9 113.9h3v3h-3zM466.9 116.6h3v3h-3zM466.9 119.4h3v3h-3zM466.9 122.1h3v3h-3zM420.8 124.8h11.1v3h-11.1zM418.1 127.5h3v3h-3zM431.6 127.5h3v3h-3zM415.4 130.2h3v3h-3zM412.6 132.9h3v3h-3zM434.3 132.9h3v3h-3zM464.2 132.9h3v3h-3zM409.9 135.6h3v3h-3zM434.3 135.6h3v3h-3zM464.2 135.6h3v3h-3zM407.2 138.3h3v3h-3zM434.3 138.3h3v3h-3zM404.5 141.1h3v3h-3zM461.5 141.1h3v3h-3zM437 143.8h3v3h-3zM399.1 146.5h3v3h-3zM437 146.5h3v3h-3zM458.7 146.5h3v3h-3zM393.7 149.2h5.7v3h-5.7zM390.9 151.9h3v3h-3zM439.8 151.9h5.7v3h-5.7zM456 151.9h3v3h-3zM388.2 154.6h3v3h-3zM442.5 154.6h3v3h-3zM456 154.6h3v3h-3zM374.7 157.3h13.9v3h-13.9zM445.2 157.3h3v3h-3zM369.2 160h5.7v3h-5.7zM355.7 162.8h11.1v3h-11.1zM350.3 165.5h5.7v3h-5.7zM347.6 168.2h5.7v3h-5.7zM342.1 170.9h8.4v3h-8.4zM342.1 173.6h8.4v3h-8.4zM342.1 176.3h8.4v3h-8.4zM339.4 179h11.1v3h-11.1zM339.4 181.7h11.1v3h-11.1zM339.4 184.4h11.1v3h-11.1zM339.4 187.2h8.4v3h-8.4zM339.4 189.9h8.4v3h-8.4zM339.4 192.6h8.4v3h-8.4zM339.4 195.3h8.4v3h-8.4zM339.4 198h8.4v3h-8.4zM339.4 200.7h8.4v3h-8.4zM339.4 203.4h8.4v3h-8.4zM336.7 206.1h11.1v3h-11.1zM336.7 208.9h8.4v3h-8.4zM447.9 208.9h11.1v3h-11.1zM336.7 211.6h8.4v3h-8.4zM447.9 211.6h5.7v3h-5.7zM456 211.6h5.7v3h-5.7zM472.3 211.6h3v3h-3zM336.7 214.3h8.4v3h-8.4zM447.9 214.3h3v3h-3zM475 214.3h3v3h-3zM336.7 217h8.4v3h-8.4zM445.2 217h5.7v3h-5.7zM336.7 219.7h8.4v3h-8.4zM445.2 219.7h3v3h-3zM336.7 222.4h8.4v3h-8.4zM445.2 222.4h3v3h-3zM336.7 225.1h8.4v3h-8.4zM445.2 225.1h5.7v3h-5.7zM336.7 227.8h8.4v3h-8.4zM477.7 227.8h3v3h-3zM336.7 230.6h8.4v3h-8.4zM477.7 230.6h3v3h-3zM336.7 233.3h5.7v3h-5.7zM477.7 233.3h3v3h-3zM334 236h8.4v3h-8.4zM477.7 236h3v3h-3zM334 238.7h8.4v3h-8.4zM442.5 238.7h3v3h-3zM334 241.4h8.4v3h-8.4zM437 241.4h8.4v3h-8.4zM334 244.1h11.1v3h-11.1zM480.4 244.1h3v3h-3zM334 246.8h11.1v3h-11.1zM437 246.8h3v3h-3zM334 249.5h11.1v3h-11.1zM437 249.5h3v3h-3zM483.2 249.5h3v3h-3zM331.3 252.2h13.9v3h-13.9zM331.3 255h13.9v3h-13.9zM331.3 257.7h13.9v3h-13.9zM483.2 257.7h3v3h-3zM331.3 260.4h13.9v3h-13.9zM439.8 260.4h3v3h-3zM483.2 260.4h3v3h-3zM331.3 263.1h11.1v3h-11.1zM483.2 263.1h3v3h-3zM331.3 265.8h11.1v3h-11.1zM485.9 265.8h3v3h-3zM328.6 268.5h13.9v3h-13.9zM445.2 268.5h3v3h-3zM491.3 268.5h8.4v3h-8.4zM328.6 271.2h13.9v3h-13.9zM328.6 273.9h11.1v3h-11.1zM447.9 273.9h5.7v3h-5.7zM502.1 273.9h3v3h-3zM328.6 276.7h8.4v3h-8.4zM445.2 276.7h5.7v3h-5.7zM502.1 276.7h3v3h-3zM325.9 279.4h11.1v3h-11.1zM442.5 279.4h3v3h-3zM502.1 279.4h3v3h-3zM325.9 282.1h5.7v3h-5.7zM504.8 282.1h3v3h-3zM323.1 284.8h5.7v3h-5.7zM445.2 284.8h3v3h-3zM507.6 284.8h5.7v3h-5.7zM323.1 287.5h3v3h-3zM445.2 287.5h3v3h-3zM513 287.5h3v3h-3zM317.7 290.2h5.7v3h-5.7zM445.2 290.2h3v3h-3zM469.6 290.2h3v3h-3zM515.7 290.2h3v3h-3zM315 292.9h5.7v3h-5.7zM445.2 292.9h3v3h-3zM466.9 292.9h5.7v3h-5.7zM518.4 292.9h3v3h-3zM312.3 295.6h5.7v3h-5.7zM445.2 295.6h3v3h-3zM518.4 295.6h3v3h-3zM309.6 298.4h5.7v3h-5.7zM445.2 298.4h3v3h-3zM521.1 298.4h3v3h-3zM306.9 301.1h5.7v3h-5.7zM445.2 301.1h5.7v3h-5.7zM521.1 301.1h5.7v3h-5.7zM572.6 301.1h3v3h-3zM306.9 303.8h3v3h-3zM445.2 303.8h13.9v3h-13.9zM523.8 303.8h5.7v3h-5.7zM567.2 303.8h8.4v3h-8.4zM445.2 306.5h13.9v3h-13.9zM523.8 306.5h8.4v3h-8.4zM559.1 306.5h16.6v3h-16.6zM304.2 309.2h3v3h-3zM447.9 309.2h11.1v3h-11.1zM526.5 309.2h49.1v3h-49.1zM304.2 311.9h3v3h-3zM437 311.9h11.1v3h-11.1zM453.3 311.9h5.7v3h-5.7zM526.5 311.9h49.1v3h-49.1zM304.2 314.6h3v3h-3zM431.6 314.6h3v3h-3zM442.5 314.6h5.7v3h-5.7zM453.3 314.6h5.7v3h-5.7zM526.5 314.6h49.1v3h-49.1zM304.2 317.3h3v3h-3zM426.2 317.3h3v3h-3zM445.2 317.3h5.7v3h-5.7zM453.3 317.3h5.7v3h-5.7zM526.5 317.3h49.1v3h-49.1zM304.2 320h3v3h-3zM423.5 320h3v3h-3zM445.2 320h5.7v3h-5.7zM453.3 320h5.7v3h-5.7zM523.8 320h51.8v3h-51.8zM304.2 322.8h3v3h-3zM418.1 322.8h3v3h-3zM445.2 322.8h5.7v3h-5.7zM453.3 322.8h5.7v3h-5.7zM526.5 322.8h49.1v3h-49.1zM304.2 325.5h3v3h-3zM415.4 325.5h3v3h-3zM445.2 325.5h16.6v3h-16.6zM526.5 325.5h49.1v3h-49.1zM306.9 328.2h3v3h-3zM412.6 328.2h3v3h-3zM447.9 328.2h13.9v3h-13.9zM529.3 328.2h46.4v3h-46.4zM306.9 330.9h8.4v3h-8.4zM409.9 330.9h5.7v3h-5.7zM453.3 330.9h5.7v3h-5.7zM532 330.9h43.7v3h-43.7zM312.3 333.6h8.4v3h-8.4zM407.2 333.6h5.7v3h-5.7zM532 333.6h43.7v3h-43.7zM317.7 336.3h13.9v3h-13.9zM404.5 336.3h5.7v3h-5.7zM534.7 336.3h41v3h-41zM323.1 339h19.3v3h-19.3zM401.8 339h5.7v3h-5.7zM540.1 339h35.6v3h-35.6zM331.3 341.7h22v3h-22zM399.1 341.7h3v3h-3zM542.8 341.7h22v3h-22zM339.4 344.5h19.3v3h-19.3zM399.1 344.5h3v3h-3zM350.3 347.2h22v3h-22zM393.7 347.2h5.7v3h-5.7zM363.8 349.9h32.8v3h-32.8zM374.7 352.6h16.6v3h-16.6z"/>
<path fill="#0099ff" d="M475 38h5.7v3h-5.7zM475 40.7h3v3h-3zM475 43.4h3v3h-3zM472.3 46.1h5.7v3h-5.7zM472.3 48.8h3v3h-3zM472.3 51.6h3v3h-3zM469.6 54.3h5.7v3h-5.7zM469.6 57h3v3h-3zM466.9 59.7h5.7v3h-5.7zM466.9 62.4h5.7v3h-5.7zM464.2 65.1h5.7v3h-5.7zM464.2 67.8h5.7v3h-5.7zM461.5 70.5h5.7v3h-5.7zM461.5 73.3h5.7v3h-5.7zM458.7 76h5.7v3h-5.7zM456 78.7h8.4v3h-8.4zM456 81.4h5.7v3h-5.7zM456 84.1h3v3h-3zM453.3 86.8h5.7v3h-5.7zM453.3 89.5h3v3h-3zM450.6 92.2h5.7v3h-5.7zM447.9 95h8.4v3h-8.4zM447.9 97.7h11.1v3h-11.1zM445.2 100.4h13.9v3h-13.9zM445.2 103.1h19.3v3h-19.3zM464.2 105.8h3v3h-3zM469.6 113.9h3v3h-3zM469.6 116.6h3v3h-3zM469.6 119.4h3v3h-3zM466.9 124.8h3v3h-3zM420.8 127.5h11.1v3h-11.1zM466.9 127.5h3v3h-3zM418.1 130.2h3v3h-3zM428.9 130.2h5.7v3h-5.7zM466.9 130.2h3v3h-3zM415.4 132.9h3v3h-3zM431.6 132.9h3v3h-3zM412.6 135.6h3v3h-3zM431.6 135.6h3v3h-3zM409.9 138.3h3v3h-3zM431.6 138.3h3v3h-3zM464.2 138.3h3v3h-3zM407.2 141.1h3v3h-3zM434.3 141.1h3v3h-3zM401.8 143.8h5.7v3h-5.7zM434.3 143.8h3v3h-3zM461.5 143.8h3v3h-3zM401.8 146.5h3v3h-3zM434.3 146.5h3v3h-3zM461.5 146.5h3v3h-3zM399.1 149.2h3v3h-3zM437 149.2h3v3h-3zM458.7 149.2h3v3h-3zM393.7 151.9h5.7v3h-5.7zM390.9 154.6h3v3h-3zM439.8 154.6h3v3h-3zM388.2 157.3h3v3h-3zM456 157.3h3v3h-3zM374.7 160h13.9v3h-13.9zM447.9 160h3v3h-3zM453.3 160h3v3h-3zM366.5 162.8h8.4v3h-8.4zM355.7 165.5h13.9v3h-13.9zM353 168.2h11.1v3h-11.1zM350.3 170.9h8.4v3h-8.4zM350.3 173.6h5.7v3h-5.7zM350.3 176.3h5.7v3h-5.7zM350.3 179h3v3h-3zM350.3 181.7h3v3h-3zM350.3 184.4h3v3h-3zM347.6 187.2h5.7v3h-5.7zM347.6 189.9h5.7v3h-5.7zM347.6 192.6h5.7v3h-5.7zM347.6 195.3h5.7v3h-5.7zM347.6 198h5.7v3h-5.7zM347.6 200.7h5.7v3h-5.7zM347.6 203.4h5.7v3h-5.7zM347.6 206.1h3v3h-3zM453.3 206.1h3v3h-3zM466.9 206.1h5.7v3h-5.7zM344.8 208.9h5.7v3h-5.7zM458.7 208.9h5.7v3h-5.7zM472.3 208.9h3v3h-3zM344.8 211.6h5.7v3h-5.7zM464.2 211.6h3v3h-3zM344.8 214.3h5.7v3h-5.7zM344.8 217h5.7v3h-5.7zM344.8 219.7h5.7v3h-5.7zM344.8 222.4h5.7v3h-5.7zM344.8 225.1h5.7v3h-5.7zM477.7 225.1h3v3h-3zM344.8 227.8h5.7v3h-5.7zM344.8 230.6h3v3h-3zM342.1 233.3h5.7v3h-5.7zM342.1 236h5.7v3h-5.7zM342.1 238.7h5.7v3h-5.7zM439.8 238.7h3v3h-3zM342.1 241.4h5.7v3h-5.7zM480.4 241.4h3v3h-3zM344.8 244.1h3v3h-3zM434.3 244.1h3v3h-3zM344.8 246.8h5.7v3h-5.7zM483.2 246.8h3v3h-3zM344.8 249.5h5.7v3h-5.7zM344.8 252.2h5.7v3h-5.7zM437 252.2h3v3h-3zM344.8 255h5.7v3h-5.7zM437 255h3v3h-3zM344.8 257.7h5.7v3h-5.7zM437 257.7h3v3h-3zM344.8 260.4h5.7v3h-5.7zM342.1 263.1h5.7v3h-5.7zM442.5 263.1h3v3h-3zM342.1 265.8h5.7v3h-5.7zM442.5 265.8h3v3h-3zM488.6 265.8h11.1v3h-11.1zM342.1 268.5h5.7v3h-5.7zM499.4 268.5h3v3h-3zM342.1 271.2h3v3h-3zM445.2 271.2h3v3h-3zM502.1 271.2h3v3h-3zM339.4 273.9h5.7v3h-5.7zM445.2 273.9h3v3h-3zM504.8 273.9h3v3h-3zM336.7 276.7h8.4v3h-8.4zM442.5 276.7h3v3h-3zM504.8 276.7h5.7v3h-5.7zM336.7 279.4h5.7v3h-5.7zM439.8 279.4h3v3h-3zM504.8 279.4h5.7v3h-5.7zM331.3 282.1h8.4v3h-8.4zM442.5 282.1h3v3h-3zM507.6 282.1h8.4v3h-8.4zM328.6 284.8h8.4v3h-8.4zM442.5 284.8h3v3h-3zM513 284.8h8.4v3h-8.4zM325.9 287.5h8.4v3h-8.4zM515.7 287.5h8.4v3h-8.4zM323.1 290.2h8.4v3h-8.4zM466.9 290.2h3v3h-3zM518.4 290.2h8.4v3h-8.4zM320.4 292.9h5.7v3h-5.7zM442.5 292.9h3v3h-3zM521.1 292.9h8.4v3h-8.4zM317.7 295.6h8.4v3h-8.4zM442.5 295.6h3v3h-3zM521.1 295.6h8.4v3h-8.4zM315 298.4h5.7v3h-5.7zM442.5 298.4h3v3h-3zM523.8 298.4h5.7v3h-5.7zM569.9 298.4h5.7v3h-5.7zM312.3 301.1h5.7v3h-5.7zM442.5 301.1h3v3h-3zM526.5 301.1h5.7v3h-5.7zM559.1 301.1h13.9v3h-13.9zM309.6 303.8h5.7v3h-5.7zM442.5 303.8h3v3h-3zM529.3 303.8h38.3v3h-38.3zM306.9 306.5h5.7v3h-5.7zM439.8 306.5h5.7v3h-5.7zM532 306.5h27.4v3h-27.4zM306.9 309.2h5.7v3h-5.7zM437 309.2h11.1v3h-11.1zM306.9 311.9h5.7v3h-5.7zM428.9 311.9h8.4v3h-8.4zM447.9 311.9h5.7v3h-5.7zM306.9 314.6h5.7v3h-5.7zM426.2 314.6h5.7v3h-5.7zM447.9 314.6h5.7v3h-5.7zM306.9 317.3h5.7v3h-5.7zM423.5 317.3h3v3h-3zM450.6 317.3h3v3h-3zM306.9 320h5.7v3h-5.7zM409.9 320h13.9v3h-13.9zM450.6 320h3v3h-3zM306.9 322.8h5.7v3h-5.7zM407.2 322.8h11.1v3h-11.1zM450.6 322.8h3v3h-3zM306.9 325.5h5.7v3h-5.7zM404.5 325.5h11.1v3h-11.1zM309.6 328.2h11.1v3h-11.1zM401.8 328.2h11.1v3h-11.1zM315 330.9h16.6v3h-16.6zM399.1 330.9h11.1v3h-11.1zM320.4 333.6h16.6v3h-16.6zM396.4 333.6h11.1v3h-11.1zM331.3 336.3h16.6v3h-16.6zM393.7 336.3h11.1v3h-11.1zM342.1 339h16.6v3h-16.6zM390.9 339h11.1v3h-11.1zM353 341.7h19.3v3h-19.3zM388.2 341.7h11.1v3h-11.1zM358.4 344.5h41v3h-41zM372 347.2h22v3h-22z"/>
<path fill="#00aaff" d="M480.4 38h5.7v3h-5.7zM477.7 40.7h5.7v3h-5.7zM477.7 43.4h5.7v3h-5.7zM477.7 46.1h5.7v3h-5.7zM475 48.8h5.7v3h-5.7zM475 51.6h5.7v3h-5.7zM475 54.3h3v3h-3zM472.3 57h5.7v3h-5.7zM472.3 59.7h3v3h-3zM472.3 62.4h3v3h-3zM469.6 65.1h5.7v3h-5.7zM469.6 67.8h3v3h-3zM466.9 70.5h5.7v3h-5.7zM466.9 73.3h5.7v3h-5.7zM464.2 76h5.7v3h-5.7zM464.2 78.7h3v3h-3zM461.5 81.4h5.7v3h-5.7zM458.7 84.1h8.4v3h-8.4zM458.7 86.8h5.7v3h-5.7zM456 89.5h8.4v3h-8.4zM456 92.2h8.4v3h-8.4zM456 95h8.4v3h-8.4zM458.7 97.7h5.7v3h-5.7zM458.7 100.4h5.7v3h-5.7zM464.2 103.1h3v3h-3zM466.9 105.8h3v3h-3zM466.9 108.5h5.7v3h-5.7zM469.6 111.2h3v3h-3zM469.6 122.1h3v3h-3zM469.6 124.8h3v3h-3zM469.6 127.5h3v3h-3zM420.8 130.2h8.4v3h-8.4zM469.6 130.2h3v3h-3zM418.1 132.9h3v3h-3zM426.2 132.9h5.7v3h-5.7zM466.9 132.9h3v3h-3zM415.4 135.6h3v3h-3zM428.9 135.6h3v3h-3zM466.9 135.6h3v3h-3zM412.6 138.3h3v3h-3zM428.9 138.3h3v3h-3zM409.9 141.1h3v3h-3zM428.9 141.1h5.7v3h-5.7zM464.2 141.1h3v3h-3zM407.2 143.8h3v3h-3zM431.6 143.8h3v3h-3zM464.2 143.8h3v3h-3zM404.5 146.5h3v3h-3zM431.6 146.5h3v3h-3zM401.8 149.2h3v3h-3zM434.3 149.2h3v3h-3zM461.5 149.2h3v3h-3zM399.1 151.9h3v3h-3zM434.3 151.9h5.7v3h-5.7zM458.7 151.9h3v3h-3zM393.7 154.6h5.7v3h-5.7zM437 154.6h3v3h-3zM458.7 154.6h3v3h-3zM390.9 157.3h3v3h-3zM442.5 157.3h3v3h-3zM388.2 160h3v3h-3zM374.7 162.8h11.1v3h-11.1zM369.2 165.5h5.7v3h-5.7zM363.8 168.2h5.7v3h-5.7zM358.4 170.9h8.4v3h-8.4zM355.7 173.6h11.1v3h-11.1zM355.7 176.3h8.4v3h-8.4zM353 179h11.1v3h-11.1zM353 181.7h11.1v3h-11.1zM353 184.4h8.4v3h-8.4zM353 187.2h8.4v3h-8.4zM353 189.9h8.4v3h-8.4zM353 192.6h5.7v3h-5.7zM353 195.3h5.7v3h-5.7zM353 198h5.7v3h-5.7zM353 200.7h3v3h-3zM353 203.4h3v3h-3zM350.3 206.1h5.7v3h-5.7zM456 206.1h3v3h-3zM350.3 208.9h5.7v3h-5.7zM464.2 208.9h3v3h-3zM350.3 211.6h5.7v3h-5.7zM475 211.6h3v3h-3zM350.3 214.3h5.7v3h-5.7zM445.2 214.3h3v3h-3zM350.3 217h5.7v3h-5.7zM350.3 219.7h5.7v3h-5.7zM442.5 219.7h3v3h-3zM477.7 219.7h3v3h-3zM350.3 222.4h5.7v3h-5.7zM442.5 222.4h3v3h-3zM477.7 222.4h3v3h-3zM350.3 225.1h3v3h-3zM350.3 227.8h3v3h-3zM347.6 230.6h5.7v3h-5.7zM442.5 230.6h3v3h-3zM347.6 233.3h5.7v3h-5.7zM442.5 233.3h3v3h-3zM480.4 233.3h3v3h-3zM347.6 236h5.7v3h-5.7zM442.5 236h3v3h-3zM480.4 236h3v3h-3zM347.6 238.7h8.4v3h-8.4zM437 238.7h3v3h-3zM480.4 238.7h3v3h-3zM347.6 241.4h8.4v3h-8.4zM434.3 241.4h3v3h-3zM347.6 244.1h8.4v3h-8.4zM350.3 246.8h5.7v3h-5.7zM434.3 246.8h3v3h-3zM350.3 249.5h5.7v3h-5.7zM434.3 249.5h3v3h-3zM350.3 252.2h8.4v3h-8.4zM434.3 252.2h3v3h-3zM350.3 255h8.4v3h-8.4zM485.9 255h3v3h-3zM350.3 257.7h11.1v3h-11.1zM485.9 257.7h3v3h-3zM350.3 260.4h11.1v3h-11.1zM437 260.4h3v3h-3zM485.9 260.4h3v3h-3zM347.6 263.1h16.6v3h-16.6zM439.8 263.1h3v3h-3zM485.9 263.1h13.9v3h-13.9zM347.6 265.8h19.3v3h-19.3zM499.4 265.8h5.7v3h-5.7zM347.6 268.5h22v3h-22zM442.5 268.5h3v3h-3zM502.1 268.5h5.7v3h-5.7zM344.8 271.2h27.4v3h-27.4zM442.5 271.2h3v3h-3zM504.8 271.2h5.7v3h-5.7zM344.8 273.9h30.1v3h-30.1zM442.5 273.9h3v3h-3zM507.6 273.9h3v3h-3zM344.8 276.7h35.6v3h-35.6zM439.8 276.7h3v3h-3zM510.3 276.7h3v3h-3zM567.2 276.7h8.4v3h-8.4zM342.1 279.4h41v3h-41zM437 279.4h3v3h-3zM510.3 279.4h8.4v3h-8.4zM564.5 279.4h11.1v3h-11.1zM339.4 282.1h49.1v3h-49.1zM437 282.1h5.7v3h-5.7zM515.7 282.1h8.4v3h-8.4zM556.4 282.1h19.3v3h-19.3zM336.7 284.8h54.5v3h-54.5zM439.8 284.8h3v3h-3zM521.1 284.8h54.5v3h-54.5zM334 287.5h57.3v3h-57.3zM439.8 287.5h5.7v3h-5.7zM523.8 287.5h51.8v3h-51.8zM331.3 290.2h62.7v3h-62.7zM439.8 290.2h5.7v3h-5.7zM526.5 290.2h49.1v3h-49.1zM325.9 292.9h70.8v3h-70.8zM439.8 292.9h3v3h-3zM529.3 292.9h46.4v3h-46.4zM325.9 295.6h73.5v3h-73.5zM439.8 295.6h3v3h-3zM529.3 295.6h46.4v3h-46.4zM320.4 298.4h81.7v3h-81.7zM439.8 298.4h3v3h-3zM529.3 298.4h41v3h-41zM317.7 301.1h84.4v3h-84.4zM439.8 301.1h3v3h-3zM532 301.1h27.4v3h-27.4zM315 303.8h89.8v3h-89.8zM437 303.8h5.7v3h-5.7zM312.3 306.5h95.2v3h-95.2zM437 306.5h3v3h-3zM312.3 309.2h97.9v3h-97.9zM428.9 309.2h8.4v3h-8.4zM312.3 311.9h97.9v3h-97.9zM426.2 311.9h3v3h-3zM312.3 314.6h103.4v3h-103.4zM423.5 314.6h3v3h-3zM312.3 317.3h111.5v3h-111.5zM312.3 320h97.9v3h-97.9zM312.3 322.8h95.2v3h-95.2zM312.3 325.5h92.5v3h-92.5zM320.4 328.2h81.7v3h-81.7zM331.3 330.9h68.1v3h-68.1zM336.7 333.6h60v3h-60zM347.6 336.3h46.4v3h-46.4zM358.4 339h32.8v3h-32.8zM372 341.7h16.6v3h-16.6z"/>
<path fill="#00bbff" d="M485.9 38h5.7v3h-5.7zM483.2 40.7h5.7v3h-5.7zM483.2 43.4h5.7v3h-5.7zM483.2 46.1h3v3h-3zM480.4 48.8h5.7v3h-5.7zM480.4 51.6h5.7v3h-5.7zM477.7 54.3h5.7v3h-5.7zM477.7 57h5.7v3h-5.7zM475 59.7h8.4v3h-8.4zM475 62.4h5.7v3h-5.7zM475 65.1h5.7v3h-5.7zM472.3 67.8h5.7v3h-5.7zM472.3 70.5h5.7v3h-5.7zM472.3 73.3h3v3h-3zM469.6 76h5.7v3h-5.7zM466.9 78.7h8.4v3h-8.4zM466.9 81.4h5.7v3h-5.7zM466.9 84.1h5.7v3h-5.7zM464.2 86.8h8.4v3h-8.4zM464.2 89.5h5.7v3h-5.7zM464.2 92.2h5.7v3h-5.7zM464.2 95h5.7v3h-5.7zM464.2 97.7h5.7v3h-5.7zM464.2 100.4h5.7v3h-5.7zM466.9 103.1h5.7v3h-5.7zM469.6 105.8h3v3h-3zM472.3 111.2h3v3h-3zM472.3 113.9h3v3h-3zM472.3 116.6h3v3h-3zM472.3 119.4h3v3h-3zM472.3 122.1h3v3h-3zM420.8 132.9h5.7v3h-5.7zM469.6 132.9h3v3h-3zM418.1 135.6h11.1v3h-11.1zM469.6 135.6h3v3h-3zM415.4 138.3h13.9v3h-13.9zM466.9 138.3h3v3h-3zM412.6 141.1h16.6v3h-16.6zM466.9 141.1h3v3h-3zM409.9 143.8h22v3h-22zM407.2 146.5h24.7v3h-24.7zM464.2 146.5h3v3h-3zM404.5 149.2h30.1v3h-30.1zM401.8 151.9h32.8v3h-32.8zM461.5 151.9h3v3h-3zM399.1 154.6h38.3v3h-38.3zM461.5 154.6h3v3h-3zM393.7 157.3h22v3h-22zM439.8 157.3h3v3h-3zM458.7 157.3h3v3h-3zM390.9 160h19.3v3h-19.3zM445.2 160h3v3h-3zM456 160h3v3h-3zM385.5 162.8h16.6v3h-16.6zM447.9 162.8h8.4v3h-8.4zM374.7 165.5h24.7v3h-24.7zM369.2 168.2h24.7v3h-24.7zM366.5 170.9h22v3h-22zM366.5 173.6h19.3v3h-19.3zM363.8 176.3h19.3v3h-19.3zM363.8 179h16.6v3h-16.6zM363.8 181.7h11.1v3h-11.1zM361.1 184.4h13.9v3h-13.9zM361.1 187.2h11.1v3h-11.1zM361.1 189.9h8.4v3h-8.4zM358.4 192.6h11.1v3h-11.1zM358.4 195.3h8.4v3h-8.4zM358.4 198h8.4v3h-8.4zM355.7 200.7h11.1v3h-11.1zM355.7 203.4h11.1v3h-11.1zM355.7 206.1h8.4v3h-8.4zM450.6 206.1h3v3h-3zM458.7 206.1h3v3h-3zM472.3 206.1h3v3h-3zM355.7 208.9h8.4v3h-8.4zM475 208.9h3v3h-3zM355.7 211.6h8.4v3h-8.4zM445.2 211.6h3v3h-3zM355.7 214.3h8.4v3h-8.4zM355.7 217h8.4v3h-8.4zM477.7 217h3v3h-3zM355.7 219.7h8.4v3h-8.4zM355.7 222.4h8.4v3h-8.4zM353 225.1h11.1v3h-11.1zM442.5 225.1h3v3h-3zM353 227.8h11.1v3h-11.1zM442.5 227.8h3v3h-3zM480.4 227.8h3v3h-3zM353 230.6h11.1v3h-11.1zM480.4 230.6h3v3h-3zM353 233.3h11.1v3h-11.1zM353 236h13.9v3h-13.9zM439.8 236h3v3h-3zM355.7 238.7h11.1v3h-11.1zM434.3 238.7h3v3h-3zM355.7 241.4h13.9v3h-13.9zM355.7 244.1h13.9v3h-13.9zM431.6 244.1h3v3h-3zM483.2 244.1h3v3h-3zM355.7 246.8h13.9v3h-13.9zM431.6 246.8h3v3h-3zM355.7 249.5h16.6v3h-16.6zM431.6 249.5h3v3h-3zM358.4 252.2h13.9v3h-13.9zM431.6 252.2h3v3h-3zM485.9 252.2h3v3h-3zM358.4 255h16.6v3h-16.6zM434.3 255h3v3h-3zM572.6 255h3v3h-3zM361.1 257.7h16.6v3h-16.6zM434.3 257.7h3v3h-3zM488.6 257.7h3v3h-3zM569.9 257.7h5.7v3h-5.7zM361.1 260.4h19.3v3h-19.3zM434.3 260.4h3v3h-3zM488.6 260.4h11.1v3h-11.1zM569.9 260.4h5.7v3h-5.7zM363.8 263.1h19.3v3h-19.3zM434.3 263.1h5.7v3h-5.7zM499.4 263.1h11.1v3h-11.1zM567.2 263.1h8.4v3h-8.4zM366.5 265.8h22v3h-22zM439.8 265.8h3v3h-3zM504.8 265.8h16.6v3h-16.6zM559.1 265.8h16.6v3h-16.6zM369.2 268.5h22v3h-22zM439.8 268.5h3v3h-3zM507.6 268.5h68.1v3h-68.1zM372 271.2h22v3h-22zM439.8 271.2h3v3h-3zM510.3 271.2h65.4v3h-65.4zM374.7 273.9h24.7v3h-24.7zM437 273.9h5.7v3h-5.7zM510.3 273.9h65.4v3h-65.4zM380.1 276.7h22v3h-22zM434.3 276.7h5.7v3h-5.7zM513 276.7h54.5v3h-54.5zM382.8 279.4h24.7v3h-24.7zM434.3 279.4h3v3h-3zM518.4 279.4h46.4v3h-46.4zM388.2 282.1h27.4v3h-27.4zM428.9 282.1h8.4v3h-8.4zM523.8 282.1h32.8v3h-32.8zM390.9 284.8h49.1v3h-49.1zM390.9 287.5h49.1v3h-49.1zM393.7 290.2h46.4v3h-46.4zM396.4 292.9h43.7v3h-43.7zM399.1 295.6h41v3h-41zM401.8 298.4h38.3v3h-38.3zM401.8 301.1h38.3v3h-38.3zM404.5 303.8h32.8v3h-32.8zM407.2 306.5h30.1v3h-30.1zM409.9 309.2h19.3v3h-19.3zM409.9 311.9h16.6v3h-16.6zM415.4 314.6h8.4v3h-8.4z"/>
<path fill="#00ccff" d="M491.3 38h5.7v3h-5.7zM488.6 40.7h5.7v3h-5.7zM488.6 43.4h5.7v3h-5.7zM485.9 46.1h8.4v3h-8.4zM485.9 48.8h5.7v3h-5.7zM485.9 51.6h5.7v3h-5.7zM483.2 54.3h8.4v3h-8.4zM483.2 57h5.7v3h-5.7zM483.2 59.7h3v3h-3zM480.4 62.4h5.7v3h-5.7zM480.4 65.1h5.7v3h-5.7zM477.7 67.8h5.7v3h-5.7zM477.7 70.5h5.7v3h-5.7zM475 73.3h8.4v3h-8.4zM475 76h5.7v3h-5.7zM475 78.7h5.7v3h-5.7zM472.3 81.4h5.7v3h-5.7zM472.3 84.1h5.7v3h-5.7zM472.3 86.8h5.7v3h-5.7zM469.6 89.5h5.7v3h-5.7zM469.6 92.2h5.7v3h-5.7zM469.6 95h5.7v3h-5.7zM469.6 97.7h5.7v3h-5.7zM469.6 100.4h5.7v3h-5.7zM472.3 103.1h3v3h-3zM472.3 105.8h5.7v3h-5.7zM472.3 108.5h5.7v3h-5.7zM475 111.2h3v3h-3zM475 113.9h3v3h-3zM475 116.6h3v3h-3zM475 119.4h3v3h-3zM475 122.1h3v3h-3zM472.3 124.8h5.7v3h-5.7zM472.3 127.5h5.7v3h-5.7zM472.3 130.2h3v3h-3zM472.3 132.9h3v3h-3zM472.3 135.6h3v3h-3zM469.6 138.3h5.7v3h-5.7zM469.6 141.1h3v3h-3zM466.9 143.8h5.7v3h-5.7zM466.9 146.5h5.7v3h-5.7zM464.2 149.2h5.7v3h-5.7zM464.2 151.9h3v3h-3zM464.2 154.6h3v3h-3zM415.4 157.3h24.7v3h-24.7zM461.5 157.3h3v3h-3zM409.9 160h11.1v3h-11.1zM442.5 160h3v3h-3zM458.7 160h3v3h-3zM401.8 162.8h13.9v3h-13.9zM456 162.8h3v3h-3zM399.1 165.5h11.1v3h-11.1zM393.7 168.2h11.1v3h-11.1zM388.2 170.9h11.1v3h-11.1zM385.5 173.6h11.1v3h-11.1zM382.8 176.3h8.4v3h-8.4zM380.1 179h8.4v3h-8.4zM374.7 181.7h11.1v3h-11.1zM374.7 184.4h8.4v3h-8.4zM372 187.2h8.4v3h-8.4zM369.2 189.9h8.4v3h-8.4zM369.2 192.6h5.7v3h-5.7zM366.5 195.3h8.4v3h-8.4zM366.5 198h8.4v3h-8.4zM366.5 200.7h8.4v3h-8.4zM366.5 203.4h5.7v3h-5.7zM466.9 203.4h5.7v3h-5.7zM363.8 206.1h8.4v3h-8.4zM447.9 206.1h3v3h-3zM461.5 206.1h5.7v3h-5.7zM363.8 208.9h8.4v3h-8.4zM445.2 208.9h3v3h-3zM363.8 211.6h8.4v3h-8.4zM363.8 214.3h8.4v3h-8.4zM477.7 214.3h3v3h-3zM363.8 217h8.4v3h-8.4zM442.5 217h3v3h-3zM363.8 219.7h8.4v3h-8.4zM363.8 222.4h8.4v3h-8.4zM439.8 222.4h3v3h-3zM363.8 225.1h11.1v3h-11.1zM439.8 225.1h3v3h-3zM480.4 225.1h3v3h-3zM363.8 227.8h11.1v3h-11.1zM439.8 227.8h3v3h-3zM363.8 230.6h11.1v3h-11.1zM439.8 230.6h3v3h-3zM363.8 233.3h13.9v3h-13.9zM439.8 233.3h3v3h-3zM366.5 236h13.9v3h-13.9zM437 236h3v3h-3zM366.5 238.7h13.9v3h-13.9zM431.6 238.7h3v3h-3zM369.2 241.4h13.9v3h-13.9zM428.9 241.4h5.7v3h-5.7zM369.2 244.1h13.9v3h-13.9zM426.2 244.1h5.7v3h-5.7zM369.2 246.8h16.6v3h-16.6zM426.2 246.8h5.7v3h-5.7zM569.9 246.8h5.7v3h-5.7zM372 249.5h16.6v3h-16.6zM426.2 249.5h5.7v3h-5.7zM485.9 249.5h3v3h-3zM567.2 249.5h8.4v3h-8.4zM372 252.2h19.3v3h-19.3zM426.2 252.2h5.7v3h-5.7zM559.1 252.2h16.6v3h-16.6zM374.7 255h19.3v3h-19.3zM428.9 255h5.7v3h-5.7zM488.6 255h3v3h-3zM553.7 255h19.3v3h-19.3zM377.4 257.7h19.3v3h-19.3zM428.9 257.7h5.7v3h-5.7zM491.3 257.7h11.1v3h-11.1zM542.8 257.7h27.4v3h-27.4zM380.1 260.4h19.3v3h-19.3zM428.9 260.4h5.7v3h-5.7zM499.4 260.4h13.9v3h-13.9zM532 260.4h38.3v3h-38.3zM382.8 263.1h19.3v3h-19.3zM428.9 263.1h5.7v3h-5.7zM510.3 263.1h57.3v3h-57.3zM388.2 265.8h19.3v3h-19.3zM431.6 265.8h8.4v3h-8.4zM521.1 265.8h38.3v3h-38.3zM390.9 268.5h19.3v3h-19.3zM431.6 268.5h8.4v3h-8.4zM393.7 271.2h22v3h-22zM434.3 271.2h5.7v3h-5.7zM399.1 273.9h22v3h-22zM431.6 273.9h5.7v3h-5.7zM401.8 276.7h32.8v3h-32.8zM407.2 279.4h27.4v3h-27.4zM415.4 282.1h13.9v3h-13.9z"/>
<path fill="#00ddff" d="M496.7 38h8.4v3h-8.4zM494 40.7h11.1v3h-11.1zM494 43.4h11.1v3h-11.1zM494 46.1h11.1v3h-11.1zM491.3 48.8h13.9v3h-13.9zM491.3 51.6h13.9v3h-13.9zM491.3 54.3h11.1v3h-11.1zM488.6 57h13.9v3h-13.9zM485.9 59.7h16.6v3h-16.6zM485.9 62.4h16.6v3h-16.6zM485.9 65.1h16.6v3h-16.6zM483.2 67.8h16.6v3h-16.6zM483.2 70.5h16.6v3h-16.6zM483.2 73.3h16.6v3h-16.6zM480.4 76h16.6v3h-16.6zM480.4 78.7h16.6v3h-16.6zM477.7 81.4h19.3v3h-19.3zM477.7 84.1h19.3v3h-19.3zM477.7 86.8h16.6v3h-16.6zM551 86.8h3v3h-3zM475 89.5h19.3v3h-19.3zM548.2 89.5h5.7v3h-5.7zM475 92.2h19.3v3h-19.3zM548.2 92.2h3v3h-3zM475 95h19.3v3h-19.3zM545.5 95h3v3h-3zM475 97.7h16.6v3h-16.6zM542.8 97.7h3v3h-3zM475 100.4h16.6v3h-16.6zM475 103.1h16.6v3h-16.6zM477.7 105.8h11.1v3h-11.1zM477.7 108.5h11.1v3h-11.1zM477.7 111.2h8.4v3h-8.4zM477.7 113.9h8.4v3h-8.4zM477.7 116.6h8.4v3h-8.4zM477.7 119.4h8.4v3h-8.4zM477.7 122.1h8.4v3h-8.4zM477.7 124.8h5.7v3h-5.7zM477.7 127.5h5.7v3h-5.7zM475 130.2h8.4v3h-8.4zM475 132.9h8.4v3h-8.4zM475 135.6h5.7v3h-5.7zM475 138.3h5.7v3h-5.7zM472.3 141.1h5.7v3h-5.7zM472.3 143.8h5.7v3h-5.7zM472.3 146.5h3v3h-3zM469.6 149.2h5.7v3h-5.7zM466.9 151.9h5.7v3h-5.7zM466.9 154.6h5.7v3h-5.7zM464.2 157.3h3v3h-3zM420.8 160h22v3h-22zM461.5 160h3v3h-3zM415.4 162.8h5.7v3h-5.7zM442.5 162.8h5.7v3h-5.7zM458.7 162.8h3v3h-3zM409.9 165.5h5.7v3h-5.7zM445.2 165.5h13.9v3h-13.9zM404.5 168.2h5.7v3h-5.7zM399.1 170.9h3v3h-3zM396.4 173.6h3v3h-3zM390.9 176.3h5.7v3h-5.7zM388.2 179h3v3h-3zM385.5 181.7h3v3h-3zM382.8 184.4h3v3h-3zM380.1 187.2h3v3h-3zM377.4 189.9h3v3h-3zM374.7 192.6h5.7v3h-5.7zM374.7 195.3h3v3h-3zM374.7 198h3v3h-3zM464.2 200.7h11.1v3h-11.1zM372 203.4h3v3h-3zM453.3 203.4h13.9v3h-13.9zM472.3 203.4h3v3h-3zM372 206.1h3v3h-3zM475 206.1h3v3h-3zM372 208.9h3v3h-3zM477.7 208.9h3v3h-3zM372 211.6h3v3h-3zM477.7 211.6h3v3h-3zM372 214.3h3v3h-3zM372 217h3v3h-3zM372 219.7h5.7v3h-5.7zM439.8 219.7h3v3h-3zM480.4 219.7h3v3h-3zM372 222.4h5.7v3h-5.7zM480.4 222.4h3v3h-3zM374.7 225.1h3v3h-3zM437 225.1h3v3h-3zM374.7 227.8h5.7v3h-5.7zM437 227.8h3v3h-3zM374.7 230.6h8.4v3h-8.4zM437 230.6h3v3h-3zM377.4 233.3h8.4v3h-8.4zM437 233.3h3v3h-3zM572.6 233.3h3v3h-3zM380.1 236h11.1v3h-11.1zM434.3 236h3v3h-3zM569.9 236h5.7v3h-5.7zM380.1 238.7h16.6v3h-16.6zM428.9 238.7h3v3h-3zM483.2 238.7h3v3h-3zM567.2 238.7h8.4v3h-8.4zM382.8 241.4h19.3v3h-19.3zM426.2 241.4h3v3h-3zM483.2 241.4h3v3h-3zM564.5 241.4h11.1v3h-11.1zM382.8 244.1h43.7v3h-43.7zM561.8 244.1h13.9v3h-13.9zM385.5 246.8h41v3h-41zM485.9 246.8h3v3h-3zM556.4 246.8h13.9v3h-13.9zM388.2 249.5h38.3v3h-38.3zM553.7 249.5h13.9v3h-13.9zM390.9 252.2h35.6v3h-35.6zM488.6 252.2h3v3h-3zM548.2 252.2h11.1v3h-11.1zM393.7 255h35.6v3h-35.6zM491.3 255h5.7v3h-5.7zM542.8 255h11.1v3h-11.1zM396.4 257.7h32.8v3h-32.8zM502.1 257.7h11.1v3h-11.1zM529.3 257.7h13.9v3h-13.9zM399.1 260.4h30.1v3h-30.1zM513 260.4h19.3v3h-19.3zM401.8 263.1h27.4v3h-27.4zM407.2 265.8h24.7v3h-24.7zM409.9 268.5h22v3h-22zM415.4 271.2h19.3v3h-19.3zM420.8 273.9h11.1v3h-11.1z"/>
<path fill="#00eeff" d="M504.8 38h5.7v3h-5.7zM504.8 40.7h5.7v3h-5.7zM504.8 43.4h5.7v3h-5.7zM504.8 46.1h3v3h-3zM504.8 48.8h3v3h-3zM504.8 51.6h3v3h-3zM502.1 54.3h5.7v3h-5.7zM502.1 57h5.7v3h-5.7zM502.1 59.7h3v3h-3zM502.1 62.4h3v3h-3zM502.1 65.1h3v3h-3zM499.4 67.8h5.7v3h-5.7zM499.4 70.5h3v3h-3zM499.4 73.3h3v3h-3zM496.7 76h5.7v3h-5.7zM496.7 78.7h5.7v3h-5.7zM496.7 81.4h5.7v3h-5.7zM496.7 84.1h3v3h-3zM494 86.8h5.7v3h-5.7zM494 89.5h5.7v3h-5.7zM494 92.2h3v3h-3zM494 95h3v3h-3zM491.3 97.7h5.7v3h-5.7zM491.3 100.4h5.7v3h-5.7zM491.3 103.1h3v3h-3zM488.6 105.8h5.7v3h-5.7zM488.6 108.5h3v3h-3zM485.9 111.2h5.7v3h-5.7zM485.9 113.9h5.7v3h-5.7zM485.9 116.6h5.7v3h-5.7zM485.9 119.4h3v3h-3zM485.9 122.1h3v3h-3zM483.2 124.8h5.7v3h-5.7zM483.2 127.5h3v3h-3zM483.2 130.2h3v3h-3zM483.2 132.9h3v3h-3zM480.4 135.6h5.7v3h-5.7zM480.4 138.3h3v3h-3zM477.7 141.1h5.7v3h-5.7zM477.7 143.8h3v3h-3zM475 146.5h5.7v3h-5.7zM475 149.2h3v3h-3zM472.3 151.9h5.7v3h-5.7zM472.3 154.6h3v3h-3zM466.9 157.3h5.7v3h-5.7zM464.2 160h8.4v3h-8.4zM420.8 162.8h22v3h-22zM461.5 162.8h5.7v3h-5.7zM415.4 165.5h8.4v3h-8.4zM437 165.5h8.4v3h-8.4zM458.7 165.5h5.7v3h-5.7zM409.9 168.2h5.7v3h-5.7zM447.9 168.2h13.9v3h-13.9zM401.8 170.9h8.4v3h-8.4zM399.1 173.6h5.7v3h-5.7zM396.4 176.3h5.7v3h-5.7zM390.9 179h5.7v3h-5.7zM388.2 181.7h3v3h-3zM385.5 184.4h5.7v3h-5.7zM382.8 187.2h5.7v3h-5.7zM380.1 189.9h3v3h-3zM380.1 192.6h3v3h-3zM377.4 195.3h3v3h-3zM464.2 195.3h11.1v3h-11.1zM377.4 198h3v3h-3zM458.7 198h19.3v3h-19.3zM374.7 200.7h5.7v3h-5.7zM456 200.7h8.4v3h-8.4zM475 200.7h3v3h-3zM374.7 203.4h5.7v3h-5.7zM475 203.4h3v3h-3zM374.7 206.1h3v3h-3zM445.2 206.1h3v3h-3zM477.7 206.1h3v3h-3zM374.7 208.9h3v3h-3zM374.7 211.6h3v3h-3zM374.7 214.3h5.7v3h-5.7zM442.5 214.3h3v3h-3zM480.4 214.3h3v3h-3zM374.7 217h5.7v3h-5.7zM439.8 217h3v3h-3zM480.4 217h3v3h-3zM377.4 219.7h3v3h-3zM377.4 222.4h3v3h-3zM437 222.4h3v3h-3zM377.4 225.1h5.7v3h-5.7zM434.3 225.1h3v3h-3zM380.1 227.8h5.7v3h-5.7zM434.3 227.8h3v3h-3zM483.2 227.8h3v3h-3zM572.6 227.8h3v3h-3zM382.8 230.6h5.7v3h-5.7zM431.6 230.6h5.7v3h-5.7zM483.2 230.6h3v3h-3zM569.9 230.6h5.7v3h-5.7zM385.5 233.3h8.4v3h-8.4zM428.9 233.3h8.4v3h-8.4zM483.2 233.3h3v3h-3zM567.2 233.3h5.7v3h-5.7zM390.9 236h8.4v3h-8.4zM426.2 236h8.4v3h-8.4zM483.2 236h3v3h-3zM564.5 236h5.7v3h-5.7zM396.4 238.7h16.6v3h-16.6zM418.1 238.7h11.1v3h-11.1zM561.8 238.7h5.7v3h-5.7zM401.8 241.4h24.7v3h-24.7zM485.9 241.4h3v3h-3zM559.1 241.4h5.7v3h-5.7zM485.9 244.1h3v3h-3zM553.7 244.1h8.4v3h-8.4zM488.6 246.8h3v3h-3zM551 246.8h5.7v3h-5.7zM488.6 249.5h3v3h-3zM548.2 249.5h5.7v3h-5.7zM491.3 252.2h5.7v3h-5.7zM542.8 252.2h5.7v3h-5.7zM496.7 255h13.9v3h-13.9zM529.3 255h13.9v3h-13.9zM513 257.7h16.6v3h-16.6z"/>
<path fill="#00ffff" d="M510.3 38h19.3v3h-19.3zM510.3 40.7h19.3v3h-19.3zM510.3 43.4h16.6v3h-16.6zM507.6 46.1h19.3v3h-19.3zM507.6 48.8h19.3v3h-19.3zM507.6 51.6h16.6v3h-16.6zM507.6 54.3h16.6v3h-16.6zM507.6 57h16.6v3h-16.6zM504.8 59.7h19.3v3h-19.3zM504.8 62.4h16.6v3h-16.6zM504.8 65.1h16.6v3h-16.6zM504.8 67.8h16.6v3h-16.6zM502.1 70.5h16.6v3h-16.6zM502.1 73.3h16.6v3h-16.6zM502.1 76h13.9v3h-13.9zM502.1 78.7h13.9v3h-13.9zM502.1 81.4h11.1v3h-11.1zM499.4 84.1h13.9v3h-13.9zM499.4 86.8h11.1v3h-11.1zM499.4 89.5h11.1v3h-11.1zM496.7 92.2h13.9v3h-13.9zM545.5 92.2h3v3h-3zM496.7 95h11.1v3h-11.1zM542.8 95h3v3h-3zM496.7 97.7h8.4v3h-8.4zM496.7 100.4h8.4v3h-8.4zM494 103.1h8.4v3h-8.4zM494 105.8h8.4v3h-8.4zM491.3 108.5h8.4v3h-8.4zM491.3 111.2h8.4v3h-8.4zM491.3 113.9h5.7v3h-5.7zM491.3 116.6h5.7v3h-5.7zM488.6 119.4h8.4v3h-8.4zM488.6 122.1h8.4v3h-8.4zM488.6 124.8h5.7v3h-5.7zM485.9 127.5h8.4v3h-8.4zM485.9 130.2h8.4v3h-8.4zM485.9 132.9h8.4v3h-8.4zM485.9 135.6h8.4v3h-8.4zM483.2 138.3h8.4v3h-8.4zM483.2 141.1h8.4v3h-8.4zM480.4 143.8h11.1v3h-11.1zM480.4 146.5h11.1v3h-11.1zM477.7 149.2h11.1v3h-11.1zM477.7 151.9h11.1v3h-11.1zM475 154.6h13.9v3h-13.9zM472.3 157.3h13.9v3h-13.9zM472.3 160h13.9v3h-13.9zM466.9 162.8h19.3v3h-19.3zM423.5 165.5h13.9v3h-13.9zM464.2 165.5h22v3h-22zM415.4 168.2h32.8v3h-32.8zM461.5 168.2h24.7v3h-24.7zM409.9 170.9h30.1v3h-30.1zM453.3 170.9h30.1v3h-30.1zM404.5 173.6h32.8v3h-32.8zM456 173.6h27.4v3h-27.4zM401.8 176.3h32.8v3h-32.8zM458.7 176.3h24.7v3h-24.7zM396.4 179h38.3v3h-38.3zM458.7 179h24.7v3h-24.7zM390.9 181.7h43.7v3h-43.7zM458.7 181.7h24.7v3h-24.7zM390.9 184.4h41v3h-41zM458.7 184.4h24.7v3h-24.7zM388.2 187.2h38.3v3h-38.3zM458.7 187.2h24.7v3h-24.7zM382.8 189.9h35.6v3h-35.6zM458.7 189.9h22v3h-22zM382.8 192.6h27.4v3h-27.4zM458.7 192.6h22v3h-22zM380.1 195.3h22v3h-22zM458.7 195.3h5.7v3h-5.7zM475 195.3h5.7v3h-5.7zM380.1 198h19.3v3h-19.3zM456 198h3v3h-3zM477.7 198h3v3h-3zM380.1 200.7h16.6v3h-16.6zM453.3 200.7h3v3h-3zM477.7 200.7h3v3h-3zM380.1 203.4h13.9v3h-13.9zM450.6 203.4h3v3h-3zM477.7 203.4h5.7v3h-5.7zM377.4 206.1h16.6v3h-16.6zM480.4 206.1h3v3h-3zM377.4 208.9h16.6v3h-16.6zM480.4 208.9h3v3h-3zM377.4 211.6h16.6v3h-16.6zM442.5 211.6h3v3h-3zM480.4 211.6h3v3h-3zM380.1 214.3h16.6v3h-16.6zM380.1 217h19.3v3h-19.3zM380.1 219.7h22v3h-22zM437 219.7h3v3h-3zM380.1 222.4h27.4v3h-27.4zM434.3 222.4h3v3h-3zM572.6 222.4h3v3h-3zM382.8 225.1h41v3h-41zM426.2 225.1h8.4v3h-8.4zM483.2 225.1h3v3h-3zM569.9 225.1h5.7v3h-5.7zM385.5 227.8h49.1v3h-49.1zM567.2 227.8h5.7v3h-5.7zM388.2 230.6h43.7v3h-43.7zM564.5 230.6h5.7v3h-5.7zM393.7 233.3h35.6v3h-35.6zM561.8 233.3h5.7v3h-5.7zM399.1 236h27.4v3h-27.4zM485.9 236h3v3h-3zM559.1 236h5.7v3h-5.7zM412.6 238.7h5.7v3h-5.7zM485.9 238.7h3v3h-3zM553.7 238.7h8.4v3h-8.4zM488.6 241.4h3v3h-3zM551 241.4h8.4v3h-8.4zM488.6 244.1h5.7v3h-5.7zM548.2 244.1h5.7v3h-5.7zM491.3 246.8h5.7v3h-5.7zM542.8 246.8h8.4v3h-8.4zM491.3 249.5h8.4v3h-8.4zM537.4 249.5h11.1v3h-11.1zM496.7 252.2h13.9v3h-13.9zM526.5 252.2h16.6v3h-16.6zM510.3 255h19.3v3h-19.3z"/>
<path fill="#00ffee" d="M529.3 38h3v3h-3zM529.3 40.7h3v3h-3zM526.5 43.4h5.7v3h-5.7zM526.5 46.1h3v3h-3zM526.5 48.8h3v3h-3zM523.8 51.6h5.7v3h-5.7zM523.8 54.3h5.7v3h-5.7zM523.8 57h3v3h-3zM523.8 59.7h3v3h-3zM521.1 62.4h3v3h-3zM521.1 65.1h3v3h-3zM521.1 67.8h3v3h-3zM518.4 70.5h5.7v3h-5.7zM518.4 73.3h3v3h-3zM515.7 76h5.7v3h-5.7zM515.7 78.7h3v3h-3zM513 81.4h5.7v3h-5.7zM513 84.1h3v3h-3zM551 84.1h3v3h-3zM510.3 86.8h5.7v3h-5.7zM548.2 86.8h3v3h-3zM553.7 86.8h3v3h-3zM510.3 89.5h3v3h-3zM510.3 92.2h3v3h-3zM507.6 95h3v3h-3zM548.2 95h3v3h-3zM504.8 97.7h5.7v3h-5.7zM504.8 100.4h3v3h-3zM502.1 103.1h3v3h-3zM502.1 105.8h3v3h-3zM499.4 108.5h5.7v3h-5.7zM499.4 111.2h3v3h-3zM496.7 113.9h5.7v3h-5.7zM496.7 116.6h3v3h-3zM496.7 119.4h3v3h-3zM496.7 122.1h3v3h-3zM494 124.8h3v3h-3zM494 127.5h3v3h-3zM494 130.2h3v3h-3zM494 132.9h3v3h-3zM494 135.6h3v3h-3zM491.3 138.3h3v3h-3zM491.3 141.1h3v3h-3zM491.3 143.8h3v3h-3zM491.3 146.5h3v3h-3zM488.6 149.2h3v3h-3zM488.6 151.9h3v3h-3zM488.6 154.6h3v3h-3zM485.9 157.3h5.7v3h-5.7zM485.9 160h5.7v3h-5.7zM485.9 162.8h3v3h-3zM485.9 165.5h3v3h-3zM485.9 168.2h3v3h-3zM439.8 170.9h5.7v3h-5.7zM447.9 170.9h5.7v3h-5.7zM483.2 170.9h3v3h-3zM437 173.6h3v3h-3zM453.3 173.6h3v3h-3zM483.2 173.6h3v3h-3zM434.3 176.3h3v3h-3zM456 176.3h3v3h-3zM483.2 176.3h3v3h-3zM434.3 179h3v3h-3zM456 179h3v3h-3zM483.2 179h3v3h-3zM456 181.7h3v3h-3zM483.2 181.7h3v3h-3zM431.6 184.4h3v3h-3zM483.2 184.4h3v3h-3zM426.2 187.2h5.7v3h-5.7zM483.2 187.2h3v3h-3zM418.1 189.9h8.4v3h-8.4zM456 189.9h3v3h-3zM480.4 189.9h3v3h-3zM409.9 192.6h11.1v3h-11.1zM456 192.6h3v3h-3zM480.4 192.6h3v3h-3zM401.8 195.3h8.4v3h-8.4zM456 195.3h3v3h-3zM480.4 195.3h3v3h-3zM399.1 198h3v3h-3zM453.3 198h3v3h-3zM480.4 198h3v3h-3zM396.4 200.7h3v3h-3zM450.6 200.7h3v3h-3zM480.4 200.7h3v3h-3zM393.7 203.4h5.7v3h-5.7zM447.9 203.4h3v3h-3zM393.7 206.1h3v3h-3zM442.5 206.1h3v3h-3zM393.7 208.9h3v3h-3zM442.5 208.9h3v3h-3zM483.2 208.9h3v3h-3zM393.7 211.6h5.7v3h-5.7zM483.2 211.6h3v3h-3zM396.4 214.3h3v3h-3zM439.8 214.3h3v3h-3zM483.2 214.3h3v3h-3zM399.1 217h3v3h-3zM437 217h3v3h-3zM483.2 217h3v3h-3zM572.6 217h3v3h-3zM401.8 219.7h8.4v3h-8.4zM434.3 219.7h3v3h-3zM483.2 219.7h3v3h-3zM569.9 219.7h5.7v3h-5.7zM407.2 222.4h8.4v3h-8.4zM431.6 222.4h3v3h-3zM483.2 222.4h3v3h-3zM569.9 222.4h3v3h-3zM423.5 225.1h3v3h-3zM567.2 225.1h3v3h-3zM485.9 227.8h3v3h-3zM561.8 227.8h5.7v3h-5.7zM485.9 230.6h3v3h-3zM559.1 230.6h5.7v3h-5.7zM485.9 233.3h3v3h-3zM556.4 233.3h5.7v3h-5.7zM488.6 236h3v3h-3zM553.7 236h5.7v3h-5.7zM488.6 238.7h5.7v3h-5.7zM548.2 238.7h5.7v3h-5.7zM491.3 241.4h3v3h-3zM545.5 241.4h5.7v3h-5.7zM494 244.1h3v3h-3zM542.8 244.1h5.7v3h-5.7zM496.7 246.8h5.7v3h-5.7zM534.7 246.8h8.4v3h-8.4zM499.4 249.5h11.1v3h-11.1zM526.5 249.5h11.1v3h-11.1zM510.3 252.2h16.6v3h-16.6z"/>
<path fill="#00ffdd" d="M532 38h5.7v3h-5.7zM532 40.7h3v3h-3zM532 43.4h3v3h-3zM529.3 46.1h5.7v3h-5.7zM529.3 48.8h5.7v3h-5.7zM529.3 51.6h5.7v3h-5.7zM529.3 54.3h3v3h-3zM526.5 57h5.7v3h-5.7zM526.5 59.7h5.7v3h-5.7zM523.8 62.4h5.7v3h-5.7zM523.8 65.1h5.7v3h-5.7zM523.8 67.8h5.7v3h-5.7zM523.8 70.5h5.7v3h-5.7zM521.1 73.3h5.7v3h-5.7zM521.1 76h5.7v3h-5.7zM518.4 78.7h5.7v3h-5.7zM518.4 81.4h5.7v3h-5.7zM515.7 84.1h5.7v3h-5.7zM515.7 86.8h5.7v3h-5.7zM513 89.5h8.4v3h-8.4zM545.5 89.5h3v3h-3zM513 92.2h5.7v3h-5.7zM542.8 92.2h3v3h-3zM510.3 95h5.7v3h-5.7zM510.3 97.7h3v3h-3zM540.1 97.7h3v3h-3zM545.5 97.7h3v3h-3zM507.6 100.4h5.7v3h-5.7zM504.8 103.1h5.7v3h-5.7zM504.8 105.8h5.7v3h-5.7zM504.8 108.5h5.7v3h-5.7zM502.1 111.2h5.7v3h-5.7zM502.1 113.9h3v3h-3zM499.4 116.6h5.7v3h-5.7zM499.4 119.4h5.7v3h-5.7zM499.4 122.1h3v3h-3zM496.7 124.8h5.7v3h-5.7zM496.7 127.5h5.7v3h-5.7zM496.7 130.2h5.7v3h-5.7zM496.7 132.9h3v3h-3zM496.7 135.6h3v3h-3zM494 138.3h5.7v3h-5.7zM494 141.1h3v3h-3zM494 143.8h3v3h-3zM494 146.5h3v3h-3zM491.3 149.2h5.7v3h-5.7zM491.3 151.9h3v3h-3zM491.3 154.6h3v3h-3zM491.3 157.3h3v3h-3zM491.3 160h3v3h-3zM488.6 162.8h3v3h-3zM488.6 165.5h3v3h-3zM488.6 168.2h3v3h-3zM445.2 170.9h3v3h-3zM485.9 170.9h5.7v3h-5.7zM439.8 173.6h5.7v3h-5.7zM450.6 173.6h3v3h-3zM485.9 173.6h5.7v3h-5.7zM437 176.3h3v3h-3zM453.3 176.3h3v3h-3zM485.9 176.3h5.7v3h-5.7zM485.9 179h3v3h-3zM434.3 181.7h3v3h-3zM485.9 181.7h3v3h-3zM434.3 184.4h3v3h-3zM456 184.4h3v3h-3zM485.9 184.4h3v3h-3zM431.6 187.2h3v3h-3zM456 187.2h3v3h-3zM485.9 187.2h3v3h-3zM426.2 189.9h5.7v3h-5.7zM483.2 189.9h5.7v3h-5.7zM420.8 192.6h5.7v3h-5.7zM483.2 192.6h3v3h-3zM409.9 195.3h5.7v3h-5.7zM453.3 195.3h3v3h-3zM483.2 195.3h3v3h-3zM401.8 198h5.7v3h-5.7zM483.2 198h3v3h-3zM399.1 200.7h3v3h-3zM447.9 200.7h3v3h-3zM483.2 200.7h3v3h-3zM445.2 203.4h3v3h-3zM483.2 203.4h3v3h-3zM396.4 206.1h3v3h-3zM439.8 206.1h3v3h-3zM483.2 206.1h5.7v3h-5.7zM396.4 208.9h3v3h-3zM439.8 208.9h3v3h-3zM485.9 208.9h3v3h-3zM572.6 208.9h3v3h-3zM439.8 211.6h3v3h-3zM485.9 211.6h3v3h-3zM572.6 211.6h3v3h-3zM399.1 214.3h3v3h-3zM485.9 214.3h3v3h-3zM569.9 214.3h5.7v3h-5.7zM401.8 217h5.7v3h-5.7zM485.9 217h3v3h-3zM567.2 217h5.7v3h-5.7zM409.9 219.7h3v3h-3zM431.6 219.7h3v3h-3zM485.9 219.7h3v3h-3zM564.5 219.7h5.7v3h-5.7zM415.4 222.4h16.6v3h-16.6zM485.9 222.4h5.7v3h-5.7zM564.5 222.4h5.7v3h-5.7zM485.9 225.1h5.7v3h-5.7zM561.8 225.1h5.7v3h-5.7zM488.6 227.8h5.7v3h-5.7zM556.4 227.8h5.7v3h-5.7zM488.6 230.6h5.7v3h-5.7zM553.7 230.6h5.7v3h-5.7zM488.6 233.3h5.7v3h-5.7zM551 233.3h5.7v3h-5.7zM491.3 236h5.7v3h-5.7zM548.2 236h5.7v3h-5.7zM494 238.7h5.7v3h-5.7zM542.8 238.7h5.7v3h-5.7zM494 241.4h8.4v3h-8.4zM540.1 241.4h5.7v3h-5.7zM496.7 244.1h11.1v3h-11.1zM532 244.1h11.1v3h-11.1zM502.1 246.8h32.8v3h-32.8zM510.3 249.5h16.6v3h-16.6z"/>
<path fill="#00ffcc" d="M537.4 38h3v3h-3zM534.7 40.7h5.7v3h-5.7zM534.7 43.4h5.7v3h-5.7zM534.7 46.1h5.7v3h-5.7zM534.7 48.8h5.7v3h-5.7zM534.7 51.6h3v3h-3zM532 54.3h5.7v3h-5.7zM532 57h5.7v3h-5.7zM532 59.7h3v3h-3zM529.3 62.4h5.7v3h-5.7zM529.3 65.1h5.7v3h-5.7zM529.3 67.8h3v3h-3zM529.3 70.5h3v3h-3zM526.5 73.3h5.7v3h-5.7zM526.5 76h5.7v3h-5.7zM523.8 78.7h5.7v3h-5.7zM523.8 81.4h5.7v3h-5.7zM521.1 84.1h5.7v3h-5.7zM553.7 84.1h3v3h-3zM521.1 86.8h5.7v3h-5.7zM521.1 89.5h3v3h-3zM518.4 92.2h5.7v3h-5.7zM551 92.2h3v3h-3zM515.7 95h5.7v3h-5.7zM540.1 95h3v3h-3zM513 97.7h8.4v3h-8.4zM513 100.4h5.7v3h-5.7zM542.8 100.4h3v3h-3zM510.3 103.1h5.7v3h-5.7zM510.3 105.8h5.7v3h-5.7zM510.3 108.5h3v3h-3zM507.6 111.2h5.7v3h-5.7zM504.8 113.9h5.7v3h-5.7zM504.8 116.6h5.7v3h-5.7zM504.8 119.4h5.7v3h-5.7zM502.1 122.1h5.7v3h-5.7zM502.1 124.8h3v3h-3zM502.1 127.5h3v3h-3zM502.1 130.2h3v3h-3zM499.4 132.9h5.7v3h-5.7zM499.4 135.6h3v3h-3zM499.4 138.3h3v3h-3zM496.7 141.1h5.7v3h-5.7zM496.7 143.8h3v3h-3zM496.7 146.5h3v3h-3zM496.7 149.2h3v3h-3zM494 151.9h3v3h-3zM494 154.6h3v3h-3zM494 157.3h3v3h-3zM494 160h3v3h-3zM491.3 162.8h5.7v3h-5.7zM491.3 165.5h3v3h-3zM491.3 168.2h3v3h-3zM491.3 170.9h3v3h-3zM445.2 173.6h5.7v3h-5.7zM491.3 173.6h3v3h-3zM439.8 176.3h3v3h-3zM491.3 176.3h3v3h-3zM437 179h3v3h-3zM453.3 179h3v3h-3zM488.6 179h3v3h-3zM437 181.7h3v3h-3zM453.3 181.7h3v3h-3zM488.6 181.7h3v3h-3zM453.3 184.4h3v3h-3zM488.6 184.4h3v3h-3zM434.3 187.2h3v3h-3zM453.3 187.2h3v3h-3zM488.6 187.2h3v3h-3zM431.6 189.9h3v3h-3zM453.3 189.9h3v3h-3zM488.6 189.9h3v3h-3zM426.2 192.6h5.7v3h-5.7zM453.3 192.6h3v3h-3zM485.9 192.6h5.7v3h-5.7zM415.4 195.3h11.1v3h-11.1zM485.9 195.3h5.7v3h-5.7zM407.2 198h5.7v3h-5.7zM450.6 198h3v3h-3zM485.9 198h5.7v3h-5.7zM401.8 200.7h5.7v3h-5.7zM445.2 200.7h3v3h-3zM485.9 200.7h5.7v3h-5.7zM399.1 203.4h3v3h-3zM439.8 203.4h5.7v3h-5.7zM485.9 203.4h5.7v3h-5.7zM572.6 203.4h3v3h-3zM399.1 206.1h3v3h-3zM488.6 206.1h3v3h-3zM572.6 206.1h3v3h-3zM399.1 208.9h3v3h-3zM488.6 208.9h3v3h-3zM569.9 208.9h3v3h-3zM399.1 211.6h3v3h-3zM437 211.6h3v3h-3zM488.6 211.6h3v3h-3zM567.2 211.6h5.7v3h-5.7zM401.8 214.3h5.7v3h-5.7zM437 214.3h3v3h-3zM488.6 214.3h3v3h-3zM564.5 214.3h5.7v3h-5.7zM407.2 217h3v3h-3zM434.3 217h3v3h-3zM488.6 217h3v3h-3zM561.8 217h5.7v3h-5.7zM412.6 219.7h19.3v3h-19.3zM488.6 219.7h5.7v3h-5.7zM559.1 219.7h5.7v3h-5.7zM491.3 222.4h3v3h-3zM559.1 222.4h5.7v3h-5.7zM491.3 225.1h3v3h-3zM556.4 225.1h5.7v3h-5.7zM494 227.8h3v3h-3zM551 227.8h5.7v3h-5.7zM494 230.6h3v3h-3zM548.2 230.6h5.7v3h-5.7zM494 233.3h5.7v3h-5.7zM545.5 233.3h5.7v3h-5.7zM496.7 236h5.7v3h-5.7zM540.1 236h8.4v3h-8.4zM499.4 238.7h8.4v3h-8.4zM534.7 238.7h8.4v3h-8.4zM502.1 241.4h11.1v3h-11.1zM529.3 241.4h11.1v3h-11.1zM507.6 244.1h24.7v3h-24.7z"/>
<path fill="#00ffbb" d="M540.1 38h5.7v3h-5.7zM540.1 40.7h3v3h-3zM540.1 43.4h3v3h-3zM540.1 46.1h3v3h-3zM540.1 48.8h3v3h-3zM537.4 51.6h5.7v3h-5.7zM537.4 54.3h3v3h-3zM537.4 57h3v3h-3zM534.7 59.7h5.7v3h-5.7zM534.7 62.4h5.7v3h-5.7zM534.7 65.1h3v3h-3zM532 67.8h5.7v3h-5.7zM532 70.5h3v3h-3zM532 73.3h3v3h-3zM532 76h3v3h-3zM529.3 78.7h3v3h-3zM529.3 81.4h3v3h-3zM551 81.4h3v3h-3zM526.5 84.1h5.7v3h-5.7zM548.2 84.1h3v3h-3zM526.5 86.8h3v3h-3zM542.8 86.8h5.7v3h-5.7zM556.4 86.8h3v3h-3zM523.8 89.5h5.7v3h-5.7zM542.8 89.5h3v3h-3zM553.7 89.5h3v3h-3zM523.8 92.2h3v3h-3zM540.1 92.2h3v3h-3zM521.1 95h3v3h-3zM521.1 97.7h3v3h-3zM518.4 100.4h3v3h-3zM545.5 100.4h3v3h-3zM515.7 103.1h5.7v3h-5.7zM515.7 105.8h3v3h-3zM513 108.5h3v3h-3zM513 111.2h3v3h-3zM510.3 113.9h3v3h-3zM510.3 116.6h3v3h-3zM507.6 122.1h3v3h-3zM504.8 124.8h5.7v3h-5.7zM504.8 127.5h3v3h-3zM504.8 130.2h3v3h-3zM502.1 135.6h3v3h-3zM502.1 138.3h3v3h-3zM502.1 141.1h3v3h-3zM499.4 143.8h3v3h-3zM499.4 146.5h3v3h-3zM499.4 149.2h3v3h-3zM496.7 151.9h3v3h-3zM496.7 154.6h3v3h-3zM496.7 157.3h3v3h-3zM494 165.5h3v3h-3zM494 168.2h3v3h-3zM494 170.9h3v3h-3zM442.5 176.3h11.1v3h-11.1zM439.8 179h3v3h-3zM491.3 179h3v3h-3zM491.3 181.7h3v3h-3zM437 184.4h3v3h-3zM491.3 184.4h3v3h-3zM437 187.2h3v3h-3zM491.3 187.2h3v3h-3zM434.3 189.9h3v3h-3zM491.3 189.9h3v3h-3zM431.6 192.6h5.7v3h-5.7zM491.3 192.6h3v3h-3zM426.2 195.3h11.1v3h-11.1zM450.6 195.3h3v3h-3zM412.6 198h27.4v3h-27.4zM447.9 198h3v3h-3zM572.6 198h3v3h-3zM407.2 200.7h3v3h-3zM437 200.7h8.4v3h-8.4zM572.6 200.7h3v3h-3zM401.8 203.4h5.7v3h-5.7zM437 203.4h3v3h-3zM569.9 203.4h3v3h-3zM401.8 206.1h5.7v3h-5.7zM437 206.1h3v3h-3zM491.3 206.1h3v3h-3zM567.2 206.1h5.7v3h-5.7zM401.8 208.9h5.7v3h-5.7zM437 208.9h3v3h-3zM491.3 208.9h3v3h-3zM564.5 208.9h5.7v3h-5.7zM401.8 211.6h5.7v3h-5.7zM491.3 211.6h3v3h-3zM564.5 211.6h3v3h-3zM407.2 214.3h3v3h-3zM434.3 214.3h3v3h-3zM491.3 214.3h3v3h-3zM561.8 214.3h3v3h-3zM409.9 217h24.7v3h-24.7zM491.3 217h3v3h-3zM559.1 217h3v3h-3zM556.4 219.7h3v3h-3zM494 222.4h3v3h-3zM553.7 222.4h5.7v3h-5.7zM494 225.1h3v3h-3zM551 225.1h5.7v3h-5.7zM496.7 227.8h3v3h-3zM548.2 227.8h3v3h-3zM496.7 230.6h5.7v3h-5.7zM545.5 230.6h3v3h-3zM499.4 233.3h3v3h-3zM540.1 233.3h5.7v3h-5.7zM502.1 236h5.7v3h-5.7zM534.7 236h5.7v3h-5.7zM507.6 238.7h8.4v3h-8.4zM518.4 238.7h16.6v3h-16.6zM513 241.4h16.6v3h-16.6z"/>
<path fill="#00ffaa" d="M545.5 38h30.1v3h-30.1zM542.8 40.7h32.8v3h-32.8zM542.8 43.4h32.8v3h-32.8zM542.8 46.1h19.3v3h-19.3zM542.8 48.8h16.6v3h-16.6zM542.8 51.6h13.9v3h-13.9zM540.1 54.3h11.1v3h-11.1zM540.1 57h11.1v3h-11.1zM540.1 59.7h8.4v3h-8.4zM540.1 62.4h5.7v3h-5.7zM537.4 65.1h5.7v3h-5.7zM537.4 67.8h5.7v3h-5.7zM534.7 70.5h5.7v3h-5.7zM534.7 73.3h5.7v3h-5.7zM534.7 76h5.7v3h-5.7zM532 78.7h5.7v3h-5.7zM532 81.4h5.7v3h-5.7zM548.2 81.4h3v3h-3zM553.7 81.4h3v3h-3zM532 84.1h3v3h-3zM542.8 84.1h5.7v3h-5.7zM556.4 84.1h3v3h-3zM529.3 86.8h5.7v3h-5.7zM540.1 86.8h3v3h-3zM529.3 89.5h5.7v3h-5.7zM540.1 89.5h3v3h-3zM526.5 92.2h5.7v3h-5.7zM537.4 92.2h3v3h-3zM523.8 95h5.7v3h-5.7zM537.4 95h3v3h-3zM551 95h3v3h-3zM523.8 97.7h3v3h-3zM537.4 97.7h3v3h-3zM548.2 97.7h3v3h-3zM521.1 100.4h3v3h-3zM540.1 100.4h3v3h-3zM521.1 103.1h3v3h-3zM518.4 105.8h3v3h-3zM515.7 108.5h3v3h-3zM513 113.9h3v3h-3zM510.3 119.4h3v3h-3zM510.3 122.1h3v3h-3zM507.6 127.5h3v3h-3zM507.6 130.2h3v3h-3zM504.8 132.9h3v3h-3zM504.8 135.6h3v3h-3zM502.1 143.8h3v3h-3zM502.1 146.5h3v3h-3zM499.4 151.9h3v3h-3zM499.4 154.6h3v3h-3zM499.4 157.3h3v3h-3zM496.7 160h3v3h-3zM496.7 162.8h3v3h-3zM572.6 162.8h3v3h-3zM496.7 165.5h3v3h-3zM572.6 165.5h3v3h-3zM572.6 168.2h3v3h-3zM572.6 170.9h3v3h-3zM494 173.6h3v3h-3zM572.6 173.6h3v3h-3zM494 176.3h3v3h-3zM572.6 176.3h3v3h-3zM442.5 179h3v3h-3zM447.9 179h5.7v3h-5.7zM494 179h3v3h-3zM572.6 179h3v3h-3zM439.8 181.7h3v3h-3zM450.6 181.7h3v3h-3zM494 181.7h3v3h-3zM569.9 181.7h5.7v3h-5.7zM439.8 184.4h3v3h-3zM450.6 184.4h3v3h-3zM494 184.4h3v3h-3zM569.9 184.4h5.7v3h-5.7zM450.6 187.2h3v3h-3zM569.9 187.2h5.7v3h-5.7zM437 189.9h3v3h-3zM450.6 189.9h3v3h-3zM569.9 189.9h5.7v3h-5.7zM437 192.6h3v3h-3zM447.9 192.6h5.7v3h-5.7zM567.2 192.6h8.4v3h-8.4zM437 195.3h13.9v3h-13.9zM491.3 195.3h3v3h-3zM567.2 195.3h8.4v3h-8.4zM439.8 198h8.4v3h-8.4zM491.3 198h3v3h-3zM564.5 198h8.4v3h-8.4zM409.9 200.7h27.4v3h-27.4zM491.3 200.7h3v3h-3zM561.8 200.7h11.1v3h-11.1zM407.2 203.4h8.4v3h-8.4zM431.6 203.4h5.7v3h-5.7zM491.3 203.4h3v3h-3zM561.8 203.4h8.4v3h-8.4zM407.2 206.1h3v3h-3zM434.3 206.1h3v3h-3zM561.8 206.1h5.7v3h-5.7zM407.2 208.9h5.7v3h-5.7zM434.3 208.9h3v3h-3zM559.1 208.9h5.7v3h-5.7zM407.2 211.6h5.7v3h-5.7zM431.6 211.6h5.7v3h-5.7zM494 211.6h3v3h-3zM559.1 211.6h5.7v3h-5.7zM409.9 214.3h8.4v3h-8.4zM423.5 214.3h11.1v3h-11.1zM494 214.3h3v3h-3zM556.4 214.3h5.7v3h-5.7zM494 217h3v3h-3zM553.7 217h5.7v3h-5.7zM494 219.7h3v3h-3zM551 219.7h5.7v3h-5.7zM496.7 222.4h3v3h-3zM548.2 222.4h5.7v3h-5.7zM496.7 225.1h5.7v3h-5.7zM545.5 225.1h5.7v3h-5.7zM499.4 227.8h3v3h-3zM542.8 227.8h5.7v3h-5.7zM502.1 230.6h3v3h-3zM537.4 230.6h8.4v3h-8.4zM502.1 233.3h8.4v3h-8.4zM529.3 233.3h11.1v3h-11.1zM507.6 236h27.4v3h-27.4zM515.7 238.7h3v3h-3z"/>
<path fill="#00ff99" d="M561.8 46.1h13.9v3h-13.9zM559.1 48.8h5.7v3h-5.7zM556.4 51.6h5.7v3h-5.7zM551 54.3h8.4v3h-8.4zM551 57h3v3h-3zM548.2 59.7h3v3h-3zM545.5 62.4h5.7v3h-5.7zM542.8 65.1h5.7v3h-5.7zM542.8 67.8h5.7v3h-5.7zM540.1 70.5h5.7v3h-5.7zM540.1 73.3h8.4v3h-8.4zM540.1 76h11.1v3h-11.1zM537.4 78.7h16.6v3h-16.6zM537.4 81.4h11.1v3h-11.1zM534.7 84.1h8.4v3h-8.4zM534.7 86.8h5.7v3h-5.7zM534.7 89.5h5.7v3h-5.7zM556.4 89.5h3v3h-3zM532 92.2h5.7v3h-5.7zM553.7 92.2h3v3h-3zM529.3 95h8.4v3h-8.4zM526.5 97.7h5.7v3h-5.7zM534.7 97.7h3v3h-3zM523.8 100.4h5.7v3h-5.7zM537.4 100.4h3v3h-3zM523.8 103.1h3v3h-3zM521.1 105.8h3v3h-3zM518.4 108.5h3v3h-3zM515.7 111.2h5.7v3h-5.7zM515.7 113.9h3v3h-3zM513 116.6h3v3h-3zM513 119.4h3v3h-3zM510.3 124.8h3v3h-3zM510.3 127.5h3v3h-3zM507.6 132.9h3v3h-3zM507.6 135.6h3v3h-3zM504.8 138.3h3v3h-3zM504.8 141.1h3v3h-3zM502.1 149.2h3v3h-3zM502.1 151.9h3v3h-3zM572.6 151.9h3v3h-3zM502.1 154.6h3v3h-3zM572.6 154.6h3v3h-3zM572.6 157.3h3v3h-3zM499.4 160h3v3h-3zM572.6 160h3v3h-3zM499.4 162.8h3v3h-3zM569.9 162.8h3v3h-3zM499.4 165.5h3v3h-3zM569.9 165.5h3v3h-3zM496.7 168.2h3v3h-3zM569.9 168.2h3v3h-3zM496.7 170.9h3v3h-3zM569.9 170.9h3v3h-3zM496.7 173.6h3v3h-3zM569.9 173.6h3v3h-3zM496.7 176.3h3v3h-3zM569.9 176.3h3v3h-3zM445.2 179h3v3h-3zM567.2 179h5.7v3h-5.7zM442.5 181.7h8.4v3h-8.4zM567.2 181.7h3v3h-3zM442.5 184.4h8.4v3h-8.4zM567.2 184.4h3v3h-3zM439.8 187.2h11.1v3h-11.1zM494 187.2h3v3h-3zM567.2 187.2h3v3h-3zM439.8 189.9h11.1v3h-11.1zM494 189.9h3v3h-3zM564.5 189.9h5.7v3h-5.7zM439.8 192.6h8.4v3h-8.4zM494 192.6h3v3h-3zM564.5 192.6h3v3h-3zM494 195.3h3v3h-3zM561.8 195.3h5.7v3h-5.7zM494 198h3v3h-3zM561.8 198h3v3h-3zM494 200.7h3v3h-3zM559.1 200.7h3v3h-3zM415.4 203.4h16.6v3h-16.6zM494 203.4h3v3h-3zM559.1 203.4h3v3h-3zM409.9 206.1h24.7v3h-24.7zM494 206.1h3v3h-3zM556.4 206.1h5.7v3h-5.7zM412.6 208.9h22v3h-22zM494 208.9h3v3h-3zM553.7 208.9h5.7v3h-5.7zM412.6 211.6h19.3v3h-19.3zM553.7 211.6h5.7v3h-5.7zM418.1 214.3h5.7v3h-5.7zM496.7 214.3h3v3h-3zM551 214.3h5.7v3h-5.7zM496.7 217h3v3h-3zM548.2 217h5.7v3h-5.7zM496.7 219.7h5.7v3h-5.7zM545.5 219.7h5.7v3h-5.7zM499.4 222.4h3v3h-3zM542.8 222.4h5.7v3h-5.7zM502.1 225.1h3v3h-3zM540.1 225.1h5.7v3h-5.7zM502.1 227.8h5.7v3h-5.7zM534.7 227.8h8.4v3h-8.4zM504.8 230.6h8.4v3h-8.4zM529.3 230.6h8.4v3h-8.4zM510.3 233.3h19.3v3h-19.3z"/>
<path fill="#00ff88" d="M564.5 48.8h11.1v3h-11.1zM561.8 51.6h13.9v3h-13.9zM559.1 54.3h16.6v3h-16.6zM553.7 57h22v3h-22zM551 59.7h16.6v3h-16.6zM551 62.4h13.9v3h-13.9zM548.2 65.1h11.1v3h-11.1zM548.2 67.8h11.1v3h-11.1zM545.5 70.5h11.1v3h-11.1zM548.2 73.3h5.7v3h-5.7zM551 76h5.7v3h-5.7zM553.7 78.7h3v3h-3zM556.4 81.4h3v3h-3zM556.4 92.2h3v3h-3zM532 97.7h3v3h-3zM529.3 100.4h8.4v3h-8.4zM548.2 100.4h3v3h-3zM526.5 103.1h3v3h-3zM542.8 103.1h3v3h-3zM523.8 105.8h3v3h-3zM521.1 108.5h3v3h-3zM518.4 113.9h3v3h-3zM572.6 113.9h3v3h-3zM515.7 116.6h3v3h-3zM572.6 116.6h3v3h-3zM515.7 119.4h3v3h-3zM572.6 119.4h3v3h-3zM513 122.1h3v3h-3zM572.6 122.1h3v3h-3zM513 124.8h3v3h-3zM572.6 124.8h3v3h-3zM572.6 127.5h3v3h-3zM510.3 130.2h3v3h-3zM572.6 130.2h3v3h-3zM510.3 132.9h3v3h-3zM572.6 132.9h3v3h-3zM569.9 135.6h5.7v3h-5.7zM507.6 138.3h3v3h-3zM569.9 138.3h5.7v3h-5.7zM507.6 141.1h3v3h-3zM569.9 141.1h5.7v3h-5.7zM504.8 143.8h3v3h-3zM569.9 143.8h5.7v3h-5.7zM504.8 146.5h3v3h-3zM569.9 146.5h5.7v3h-5.7zM504.8 149.2h3v3h-3zM569.9 149.2h5.7v3h-5.7zM569.9 151.9h3v3h-3zM567.2 154.6h5.7v3h-5.7zM502.1 157.3h3v3h-3zM567.2 157.3h5.7v3h-5.7zM502.1 160h3v3h-3zM567.2 160h5.7v3h-5.7zM502.1 162.8h3v3h-3zM567.2 162.8h3v3h-3zM567.2 165.5h3v3h-3zM499.4 168.2h3v3h-3zM567.2 168.2h3v3h-3zM499.4 170.9h3v3h-3zM567.2 170.9h3v3h-3zM499.4 173.6h3v3h-3zM564.5 173.6h5.7v3h-5.7zM499.4 176.3h3v3h-3zM564.5 176.3h5.7v3h-5.7zM496.7 179h5.7v3h-5.7zM564.5 179h3v3h-3zM496.7 181.7h3v3h-3zM561.8 181.7h5.7v3h-5.7zM496.7 184.4h3v3h-3zM561.8 184.4h5.7v3h-5.7zM496.7 187.2h3v3h-3zM561.8 187.2h5.7v3h-5.7zM496.7 189.9h3v3h-3zM561.8 189.9h3v3h-3zM496.7 192.6h3v3h-3zM559.1 192.6h5.7v3h-5.7zM496.7 195.3h3v3h-3zM559.1 195.3h3v3h-3zM496.7 198h3v3h-3zM556.4 198h5.7v3h-5.7zM496.7 200.7h3v3h-3zM556.4 200.7h3v3h-3zM496.7 203.4h3v3h-3zM553.7 203.4h5.7v3h-5.7zM496.7 206.1h5.7v3h-5.7zM553.7 206.1h3v3h-3zM496.7 208.9h5.7v3h-5.7zM551 208.9h3v3h-3zM496.7 211.6h5.7v3h-5.7zM548.2 211.6h5.7v3h-5.7zM499.4 214.3h3v3h-3zM548.2 214.3h3v3h-3zM499.4 217h5.7v3h-5.7zM542.8 217h5.7v3h-5.7zM502.1 219.7h5.7v3h-5.7zM540.1 219.7h5.7v3h-5.7zM502.1 222.4h8.4v3h-8.4zM537.4 222.4h5.7v3h-5.7zM504.8 225.1h8.4v3h-8.4zM532 225.1h8.4v3h-8.4zM507.6 227.8h27.4v3h-27.4zM513 230.6h16.6v3h-16.6z"/>
<path fill="#00ff77" d="M567.2 59.7h8.4v3h-8.4zM564.5 62.4h8.4v3h-8.4zM559.1 65.1h8.4v3h-8.4zM559.1 67.8h3v3h-3zM556.4 70.5h5.7v3h-5.7zM553.7 73.3h5.7v3h-5.7zM556.4 76h3v3h-3zM556.4 78.7h3v3h-3zM559.1 84.1h3v3h-3zM559.1 86.8h3v3h-3zM559.1 89.5h3v3h-3zM553.7 95h3v3h-3zM551 97.7h3v3h-3zM529.3 103.1h13.9v3h-13.9zM545.5 103.1h3v3h-3zM526.5 105.8h3v3h-3zM572.6 105.8h3v3h-3zM523.8 108.5h5.7v3h-5.7zM572.6 108.5h3v3h-3zM521.1 111.2h3v3h-3zM572.6 111.2h3v3h-3zM521.1 113.9h3v3h-3zM569.9 113.9h3v3h-3zM518.4 116.6h3v3h-3zM569.9 116.6h3v3h-3zM518.4 119.4h3v3h-3zM569.9 119.4h3v3h-3zM515.7 122.1h3v3h-3zM569.9 122.1h3v3h-3zM515.7 124.8h3v3h-3zM569.9 124.8h3v3h-3zM513 127.5h3v3h-3zM569.9 127.5h3v3h-3zM513 130.2h3v3h-3zM567.2 130.2h5.7v3h-5.7zM567.2 132.9h5.7v3h-5.7zM510.3 135.6h3v3h-3zM567.2 135.6h3v3h-3zM510.3 138.3h3v3h-3zM567.2 138.3h3v3h-3zM567.2 141.1h3v3h-3zM507.6 143.8h3v3h-3zM567.2 143.8h3v3h-3zM507.6 146.5h3v3h-3zM567.2 146.5h3v3h-3zM507.6 149.2h3v3h-3zM564.5 149.2h5.7v3h-5.7zM504.8 151.9h3v3h-3zM564.5 151.9h5.7v3h-5.7zM504.8 154.6h3v3h-3zM564.5 154.6h3v3h-3zM504.8 157.3h3v3h-3zM564.5 157.3h3v3h-3zM564.5 160h3v3h-3zM561.8 162.8h5.7v3h-5.7zM502.1 165.5h3v3h-3zM561.8 165.5h5.7v3h-5.7zM502.1 168.2h3v3h-3zM561.8 168.2h5.7v3h-5.7zM502.1 170.9h3v3h-3zM561.8 170.9h5.7v3h-5.7zM502.1 173.6h3v3h-3zM561.8 173.6h3v3h-3zM561.8 176.3h3v3h-3zM559.1 179h5.7v3h-5.7zM499.4 181.7h3v3h-3zM559.1 181.7h3v3h-3zM499.4 184.4h3v3h-3zM559.1 184.4h3v3h-3zM499.4 187.2h3v3h-3zM559.1 187.2h3v3h-3zM499.4 189.9h3v3h-3zM556.4 189.9h5.7v3h-5.7zM499.4 192.6h3v3h-3zM556.4 192.6h3v3h-3zM499.4 195.3h3v3h-3zM553.7 195.3h5.7v3h-5.7zM499.4 198h3v3h-3zM553.7 198h3v3h-3zM499.4 200.7h3v3h-3zM551 200.7h5.7v3h-5.7zM499.4 203.4h3v3h-3zM551 203.4h3v3h-3zM502.1 206.1h3v3h-3zM548.2 206.1h5.7v3h-5.7zM502.1 208.9h3v3h-3zM548.2 208.9h3v3h-3zM502.1 211.6h3v3h-3zM545.5 211.6h3v3h-3zM502.1 214.3h3v3h-3zM540.1 214.3h8.4v3h-8.4zM504.8 217h5.7v3h-5.7zM537.4 217h5.7v3h-5.7zM507.6 219.7h5.7v3h-5.7zM534.7 219.7h5.7v3h-5.7zM510.3 222.4h3v3h-3zM532 222.4h5.7v3h-5.7zM513 225.1h19.3v3h-19.3z"/>
<path fill="#00ff66" d="M572.6 62.4h3v3h-3zM567.2 65.1h5.7v3h-5.7zM561.8 67.8h5.7v3h-5.7zM561.8 70.5h3v3h-3zM559.1 73.3h3v3h-3zM559.1 76h3v3h-3zM559.1 78.7h3v3h-3zM559.1 81.4h3v3h-3zM561.8 84.1h3v3h-3zM561.8 86.8h3v3h-3zM561.8 89.5h3v3h-3zM559.1 92.2h3v3h-3zM572.6 92.2h3v3h-3zM556.4 95h3v3h-3zM569.9 95h5.7v3h-5.7zM553.7 97.7h3v3h-3zM569.9 97.7h5.7v3h-5.7zM551 100.4h3v3h-3zM569.9 100.4h5.7v3h-5.7zM567.2 103.1h8.4v3h-8.4zM529.3 105.8h5.7v3h-5.7zM567.2 105.8h5.7v3h-5.7zM529.3 108.5h3v3h-3zM567.2 108.5h5.7v3h-5.7zM523.8 111.2h5.7v3h-5.7zM567.2 111.2h5.7v3h-5.7zM523.8 113.9h3v3h-3zM567.2 113.9h3v3h-3zM521.1 116.6h3v3h-3zM567.2 116.6h3v3h-3zM521.1 119.4h3v3h-3zM564.5 119.4h5.7v3h-5.7zM518.4 122.1h3v3h-3zM564.5 122.1h5.7v3h-5.7zM518.4 124.8h3v3h-3zM564.5 124.8h5.7v3h-5.7zM515.7 127.5h5.7v3h-5.7zM564.5 127.5h5.7v3h-5.7zM515.7 130.2h3v3h-3zM561.8 130.2h5.7v3h-5.7zM513 132.9h3v3h-3zM561.8 132.9h5.7v3h-5.7zM513 135.6h3v3h-3zM561.8 135.6h5.7v3h-5.7zM513 138.3h3v3h-3zM561.8 138.3h5.7v3h-5.7zM510.3 141.1h3v3h-3zM561.8 141.1h5.7v3h-5.7zM510.3 143.8h3v3h-3zM561.8 143.8h5.7v3h-5.7zM510.3 146.5h3v3h-3zM561.8 146.5h5.7v3h-5.7zM510.3 149.2h3v3h-3zM561.8 149.2h3v3h-3zM507.6 151.9h3v3h-3zM559.1 151.9h5.7v3h-5.7zM507.6 154.6h3v3h-3zM559.1 154.6h5.7v3h-5.7zM507.6 157.3h3v3h-3zM559.1 157.3h5.7v3h-5.7zM504.8 160h5.7v3h-5.7zM559.1 160h5.7v3h-5.7zM504.8 162.8h3v3h-3zM559.1 162.8h3v3h-3zM504.8 165.5h3v3h-3zM559.1 165.5h3v3h-3zM504.8 168.2h3v3h-3zM559.1 168.2h3v3h-3zM504.8 170.9h3v3h-3zM556.4 170.9h5.7v3h-5.7zM556.4 173.6h5.7v3h-5.7zM502.1 176.3h3v3h-3zM556.4 176.3h5.7v3h-5.7zM502.1 179h3v3h-3zM553.7 179h5.7v3h-5.7zM502.1 181.7h3v3h-3zM553.7 181.7h5.7v3h-5.7zM502.1 184.4h3v3h-3zM553.7 184.4h5.7v3h-5.7zM502.1 187.2h3v3h-3zM553.7 187.2h5.7v3h-5.7zM502.1 189.9h3v3h-3zM551 189.9h5.7v3h-5.7zM502.1 192.6h3v3h-3zM551 192.6h5.7v3h-5.7zM502.1 195.3h3v3h-3zM551 195.3h3v3h-3zM502.1 198h3v3h-3zM548.2 198h5.7v3h-5.7zM502.1 200.7h3v3h-3zM545.5 200.7h5.7v3h-5.7zM502.1 203.4h5.7v3h-5.7zM545.5 203.4h5.7v3h-5.7zM504.8 206.1h3v3h-3zM542.8 206.1h5.7v3h-5.7zM504.8 208.9h5.7v3h-5.7zM540.1 208.9h8.4v3h-8.4zM504.8 211.6h5.7v3h-5.7zM537.4 211.6h8.4v3h-8.4zM504.8 214.3h8.4v3h-8.4zM532 214.3h8.4v3h-8.4zM510.3 217h11.1v3h-11.1zM526.5 217h11.1v3h-11.1zM513 219.7h22v3h-22zM513 222.4h19.3v3h-19.3z"/>
<path fill="#00ff55" d="M572.6 65.1h3v3h-3zM567.2 67.8h8.4v3h-8.4zM564.5 70.5h5.7v3h-5.7zM561.8 73.3h5.7v3h-5.7zM561.8 76h3v3h-3zM561.8 78.7h5.7v3h-5.7zM561.8 81.4h5.7v3h-5.7zM564.5 84.1h3v3h-3zM564.5 86.8h3v3h-3zM572.6 86.8h3v3h-3zM564.5 89.5h11.1v3h-11.1zM561.8 92.2h11.1v3h-11.1zM559.1 95h11.1v3h-11.1zM556.4 97.7h13.9v3h-13.9zM553.7 100.4h16.6v3h-16.6zM548.2 103.1h3v3h-3zM561.8 103.1h5.7v3h-5.7zM534.7 105.8h11.1v3h-11.1zM561.8 105.8h5.7v3h-5.7zM532 108.5h5.7v3h-5.7zM561.8 108.5h5.7v3h-5.7zM529.3 111.2h3v3h-3zM561.8 111.2h5.7v3h-5.7zM526.5 113.9h3v3h-3zM561.8 113.9h5.7v3h-5.7zM523.8 116.6h5.7v3h-5.7zM561.8 116.6h5.7v3h-5.7zM523.8 119.4h3v3h-3zM559.1 119.4h5.7v3h-5.7zM521.1 122.1h5.7v3h-5.7zM559.1 122.1h5.7v3h-5.7zM521.1 124.8h3v3h-3zM559.1 124.8h5.7v3h-5.7zM521.1 127.5h3v3h-3zM559.1 127.5h5.7v3h-5.7zM518.4 130.2h3v3h-3zM559.1 130.2h3v3h-3zM515.7 132.9h5.7v3h-5.7zM559.1 132.9h3v3h-3zM515.7 135.6h5.7v3h-5.7zM559.1 135.6h3v3h-3zM515.7 138.3h3v3h-3zM556.4 138.3h5.7v3h-5.7zM513 141.1h5.7v3h-5.7zM556.4 141.1h5.7v3h-5.7zM513 143.8h3v3h-3zM556.4 143.8h5.7v3h-5.7zM513 146.5h3v3h-3zM556.4 146.5h5.7v3h-5.7zM513 149.2h3v3h-3zM556.4 149.2h5.7v3h-5.7zM510.3 151.9h3v3h-3zM553.7 151.9h5.7v3h-5.7zM510.3 154.6h3v3h-3zM553.7 154.6h5.7v3h-5.7zM510.3 157.3h3v3h-3zM553.7 157.3h5.7v3h-5.7zM510.3 160h3v3h-3zM553.7 160h5.7v3h-5.7zM507.6 162.8h3v3h-3zM553.7 162.8h5.7v3h-5.7zM507.6 165.5h3v3h-3zM553.7 165.5h5.7v3h-5.7zM507.6 168.2h3v3h-3zM553.7 168.2h5.7v3h-5.7zM507.6 170.9h3v3h-3zM551 170.9h5.7v3h-5.7zM504.8 173.6h5.7v3h-5.7zM551 173.6h5.7v3h-5.7zM504.8 176.3h5.7v3h-5.7zM551 176.3h5.7v3h-5.7zM504.8 179h5.7v3h-5.7zM551 179h3v3h-3zM504.8 181.7h5.7v3h-5.7zM548.2 181.7h5.7v3h-5.7zM504.8 184.4h5.7v3h-5.7zM548.2 184.4h5.7v3h-5.7zM504.8 187.2h3v3h-3zM548.2 187.2h5.7v3h-5.7zM504.8 189.9h3v3h-3zM548.2 189.9h3v3h-3zM504.8 192.6h3v3h-3zM545.5 192.6h5.7v3h-5.7zM504.8 195.3h5.7v3h-5.7zM542.8 195.3h8.4v3h-8.4zM504.8 198h5.7v3h-5.7zM542.8 198h5.7v3h-5.7zM504.8 200.7h5.7v3h-5.7zM540.1 200.7h5.7v3h-5.7zM507.6 203.4h5.7v3h-5.7zM540.1 203.4h5.7v3h-5.7zM507.6 206.1h5.7v3h-5.7zM534.7 206.1h8.4v3h-8.4zM510.3 208.9h5.7v3h-5.7zM529.3 208.9h11.1v3h-11.1zM510.3 211.6h11.1v3h-11.1zM523.8 211.6h13.9v3h-13.9zM513 214.3h19.3v3h-19.3zM521.1 217h5.7v3h-5.7z"/>
<path fill="#00fa44" d="M569.9 70.5h5.7v3h-5.7zM567.2 73.3h8.4v3h-8.4zM564.5 76h11.1v3h-11.1zM567.2 78.7h8.4v3h-8.4zM567.2 81.4h8.4v3h-8.4zM567.2 84.1h8.4v3h-8.4zM567.2 86.8h5.7v3h-5.7zM551 103.1h11.1v3h-11.1zM545.5 105.8h5.7v3h-5.7zM556.4 105.8h5.7v3h-5.7zM537.4 108.5h8.4v3h-8.4zM559.1 108.5h3v3h-3zM532 111.2h5.7v3h-5.7zM559.1 111.2h3v3h-3zM529.3 113.9h3v3h-3zM559.1 113.9h3v3h-3zM529.3 116.6h3v3h-3zM556.4 116.6h5.7v3h-5.7zM526.5 119.4h3v3h-3zM556.4 119.4h3v3h-3zM526.5 122.1h3v3h-3zM556.4 122.1h3v3h-3zM523.8 124.8h3v3h-3zM556.4 124.8h3v3h-3zM523.8 127.5h3v3h-3zM556.4 127.5h3v3h-3zM521.1 130.2h3v3h-3zM553.7 130.2h5.7v3h-5.7zM521.1 132.9h3v3h-3zM553.7 132.9h5.7v3h-5.7zM521.1 135.6h3v3h-3zM553.7 135.6h5.7v3h-5.7zM518.4 138.3h3v3h-3zM553.7 138.3h3v3h-3zM518.4 141.1h3v3h-3zM553.7 141.1h3v3h-3zM515.7 143.8h5.7v3h-5.7zM553.7 143.8h3v3h-3zM515.7 146.5h3v3h-3zM553.7 146.5h3v3h-3zM515.7 149.2h3v3h-3zM551 149.2h5.7v3h-5.7zM513 151.9h5.7v3h-5.7zM551 151.9h3v3h-3zM513 154.6h3v3h-3zM551 154.6h3v3h-3zM513 157.3h3v3h-3zM551 157.3h3v3h-3zM513 160h3v3h-3zM551 160h3v3h-3zM510.3 162.8h5.7v3h-5.7zM551 162.8h3v3h-3zM510.3 165.5h5.7v3h-5.7zM548.2 165.5h5.7v3h-5.7zM510.3 168.2h3v3h-3zM548.2 168.2h5.7v3h-5.7zM510.3 170.9h3v3h-3zM548.2 170.9h3v3h-3zM510.3 173.6h3v3h-3zM548.2 173.6h3v3h-3zM510.3 176.3h3v3h-3zM548.2 176.3h3v3h-3zM510.3 179h3v3h-3zM545.5 179h5.7v3h-5.7zM510.3 181.7h3v3h-3zM545.5 181.7h3v3h-3zM510.3 184.4h3v3h-3zM542.8 184.4h5.7v3h-5.7zM507.6 187.2h5.7v3h-5.7zM542.8 187.2h5.7v3h-5.7zM507.6 189.9h5.7v3h-5.7zM542.8 189.9h5.7v3h-5.7zM507.6 192.6h5.7v3h-5.7zM540.1 192.6h5.7v3h-5.7zM510.3 195.3h3v3h-3zM540.1 195.3h3v3h-3zM510.3 198h5.7v3h-5.7zM537.4 198h5.7v3h-5.7zM510.3 200.7h5.7v3h-5.7zM532 200.7h8.4v3h-8.4zM513 203.4h8.4v3h-8.4zM529.3 203.4h11.1v3h-11.1zM513 206.1h22v3h-22zM515.7 208.9h13.9v3h-13.9zM521.1 211.6h3v3h-3z"/>
<path fill="#00f633" d="M551 105.8h5.7v3h-5.7zM545.5 108.5h13.9v3h-13.9zM537.4 111.2h11.1v3h-11.1zM553.7 111.2h5.7v3h-5.7zM532 113.9h5.7v3h-5.7zM553.7 113.9h5.7v3h-5.7zM532 116.6h3v3h-3zM553.7 116.6h3v3h-3zM529.3 119.4h3v3h-3zM553.7 119.4h3v3h-3zM529.3 122.1h3v3h-3zM553.7 122.1h3v3h-3zM526.5 124.8h3v3h-3zM553.7 124.8h3v3h-3zM526.5 127.5h3v3h-3zM551 127.5h5.7v3h-5.7zM523.8 130.2h5.7v3h-5.7zM551 130.2h3v3h-3zM523.8 132.9h3v3h-3zM551 132.9h3v3h-3zM523.8 135.6h3v3h-3zM551 135.6h3v3h-3zM521.1 138.3h3v3h-3zM551 138.3h3v3h-3zM521.1 141.1h3v3h-3zM551 141.1h3v3h-3zM521.1 143.8h3v3h-3zM548.2 143.8h5.7v3h-5.7zM518.4 146.5h5.7v3h-5.7zM548.2 146.5h5.7v3h-5.7zM518.4 149.2h3v3h-3zM548.2 149.2h3v3h-3zM518.4 151.9h3v3h-3zM548.2 151.9h3v3h-3zM515.7 154.6h5.7v3h-5.7zM548.2 154.6h3v3h-3zM515.7 157.3h5.7v3h-5.7zM548.2 157.3h3v3h-3zM515.7 160h3v3h-3zM548.2 160h3v3h-3zM515.7 162.8h3v3h-3zM545.5 162.8h5.7v3h-5.7zM515.7 165.5h3v3h-3zM545.5 165.5h3v3h-3zM513 168.2h5.7v3h-5.7zM545.5 168.2h3v3h-3zM513 170.9h3v3h-3zM542.8 170.9h5.7v3h-5.7zM513 173.6h3v3h-3zM542.8 173.6h5.7v3h-5.7zM513 176.3h3v3h-3zM542.8 176.3h5.7v3h-5.7zM513 179h3v3h-3zM542.8 179h3v3h-3zM513 181.7h3v3h-3zM540.1 181.7h5.7v3h-5.7zM513 184.4h3v3h-3zM540.1 184.4h3v3h-3zM513 187.2h3v3h-3zM537.4 187.2h5.7v3h-5.7zM513 189.9h5.7v3h-5.7zM537.4 189.9h5.7v3h-5.7zM513 192.6h5.7v3h-5.7zM534.7 192.6h5.7v3h-5.7zM513 195.3h8.4v3h-8.4zM532 195.3h8.4v3h-8.4zM515.7 198h22v3h-22zM515.7 200.7h16.6v3h-16.6zM521.1 203.4h8.4v3h-8.4z"/>
<path fill="#00f122" d="M548.2 111.2h5.7v3h-5.7zM537.4 113.9h16.6v3h-16.6zM534.7 116.6h19.3v3h-19.3zM532 119.4h22v3h-22zM532 122.1h22v3h-22zM529.3 124.8h24.7v3h-24.7zM529.3 127.5h22v3h-22zM529.3 130.2h22v3h-22zM526.5 132.9h24.7v3h-24.7zM526.5 135.6h24.7v3h-24.7zM523.8 138.3h27.4v3h-27.4zM523.8 141.1h27.4v3h-27.4zM523.8 143.8h24.7v3h-24.7zM523.8 146.5h24.7v3h-24.7zM521.1 149.2h27.4v3h-27.4zM521.1 151.9h27.4v3h-27.4zM521.1 154.6h27.4v3h-27.4zM521.1 157.3h27.4v3h-27.4zM518.4 160h30.1v3h-30.1zM518.4 162.8h27.4v3h-27.4zM518.4 165.5h27.4v3h-27.4zM518.4 168.2h27.4v3h-27.4zM515.7 170.9h27.4v3h-27.4zM515.7 173.6h27.4v3h-27.4zM515.7 176.3h27.4v3h-27.4zM515.7 179h27.4v3h-27.4zM515.7 181.7h24.7v3h-24.7zM515.7 184.4h24.7v3h-24.7zM515.7 187.2h22v3h-22zM518.4 189.9h19.3v3h-19.3zM518.4 192.6h16.6v3h-16.6zM521.1 195.3h11.1v3h-11.1z"/>
</g>
<g stroke="#000" stroke-width="1" shape-rendering="crispEdges"><line x1="168.3" y1="38" x2="168.3" y2="465"/><line x1="236.5" y1="38" x2="236.5" y2="465"/><line x1="304.4" y1="38" x2="304.4" y2="465"/><line x1="372.3" y1="38" x2="372.3" y2="465"/><line x1="440.4" y1="38" x2="440.4" y2="465"/><line x1="507.7" y1="38" x2="507.7" y2="465"/><line x1="155" y1="397.2" x2="575" y2="397.2"/><line x1="155" y1="329.2" x2="575" y2="329.2"/><line x1="155" y1="259.2" x2="575" y2="259.2"/><line x1="155" y1="188.4" x2="575" y2="188.4"/><line x1="155" y1="115.4" x2="575" y2="115.4"/></g>
<path fill="none" stroke="#000080" stroke-width="1" shape-rendering="crispEdges" d="M155.1 465.5L150.2 452.2M149.7 456.8L150.2 452.2L153.6 455.3M155.1 411.2L150.5 398.8M150 403.4L150.5 398.8L153.9 401.9M155.1 397.6L150.9 385.9M150.3 390.4L150.9 385.9L154.2 389M155.1 384L152.9 371.7M151.6 376.1L152.9 371.7L155.7 375.3M155.1 370.3L154.8 357.4M152.8 361.6L154.8 357.4L157 361.4M168.7 424.8L162.7 412.2M162.6 416.8L162.7 412.2L166.3 415M168.7 411.2L163.5 398.2M163.1 402.8L163.5 398.2L166.9 401.3M168.7 397.6L164.8 385.1M164 389.6L164.8 385.1L168 388.4M168.7 384L166.6 371.6M165.2 376L166.6 371.6L169.3 375.3M168.7 343L178.6 333.1M174.2 334.5L178.6 333.1L177.2 337.4M168.7 329.2L180.2 321.2M175.6 321.8L180.2 321.2L178 325.2M168.7 315.4L181.5 307.9M176.9 308.1L181.5 307.9L179 311.7M182.3 424.8L175.3 412.7M175.5 417.3L175.3 412.7L179.1 415.2M182.3 356.7L193.8 347M189.3 348.1L193.8 347L192 351.3M182.3 343L194.5 333.4M190 334.3L194.5 333.4L192.5 337.6M182.3 329.2L196.3 322.7M191.7 322.5L196.3 322.7L193.5 326.3M182.3 315.4L196.8 310.1M192.3 309.6L196.8 310.1L193.7 313.5M182.3 301.6L192.9 291M188.5 292.4L192.9 291L191.4 295.3M195.8 438.4L187.8 426.9M188.4 431.5L187.8 426.9L191.9 429.1M195.8 370.3L205.7 360.4M201.3 361.9L205.7 360.4L204.3 364.8M195.8 356.7L206.8 346.6M202.3 347.8L206.8 346.6L205.2 350.9M195.8 343L208 333.4M203.5 334.3L208 333.4L206.1 337.6M195.8 329.2L210.2 323.4M205.6 323L210.2 323.4L207.2 326.9M195.8 315.4L210.4 310.1M205.8 309.6L210.4 310.1L207.2 313.5M195.8 301.6L208.6 293.4M204.1 293.9L208.6 293.4L206.3 297.4M209.4 384L203.2 371.4M203.1 376L203.2 371.4L206.9 374.2M209.4 370.3L208.2 356.4M206.4 360.7L208.2 356.4L210.6 360.3M209.4 356.7L221.2 347.4M216.7 348.3L221.2 347.4L219.3 351.6M209.4 343L222.1 334.1M217.5 334.7L222.1 334.1L219.9 338.1M209.4 329.2L223.8 323.4M219.2 323L223.8 323.4L220.7 326.9M209.4 315.4L223.7 309.6M219.1 309.2L223.7 309.6L220.7 313M222.9 465.5L216.4 452.1M216.3 456.7L216.4 452.1L220.1 454.9M222.9 451.9L215.5 439M215.7 443.5L215.5 439L219.3 441.5M222.9 424.8L216.4 410.8M216.2 415.4L216.4 410.8L220 413.6M222.9 411.2L219 396.6M218.1 401.1L219 396.6L222.1 400M222.9 397.6L223.5 382.6M221.2 386.6L223.5 382.6L225.4 386.8M222.9 384L217.2 371.1M216.9 375.7L217.2 371.1L220.7 374M222.9 370.3L219.3 356.8M218.4 361.3L219.3 356.8L222.4 360.2M222.9 356.7L230.9 344.3M226.9 346.6L230.9 344.3L230.4 348.9M222.9 343L235.9 335.5M231.3 335.7L235.9 335.5L233.4 339.3M222.9 329.2L236.6 322.2M232 322.2L236.6 322.2L233.9 326M236.5 465.5L230.6 451.7M230.3 456.3L230.6 451.7L234.2 454.7M236.5 451.9L230.1 438.4M229.9 443L230.1 438.4L233.7 441.2M236.5 438.4L229.5 425.1M229.5 429.7L229.5 425.1L233.2 427.8M236.5 424.8L230.3 411M230 415.6L230.3 411L233.8 413.9M236.5 411.2L230.9 397.3M230.5 401.9L230.9 397.3L234.4 400.3M236.5 397.6L236 382.6M234 386.8L236 382.6L238.2 386.6M236.5 384L239.1 369.2M236.3 372.9L239.1 369.2L240.4 373.6M236.5 370.3L237.7 355.7M235.3 359.6L237.7 355.7L239.4 360M236.5 356.7L244.1 343.9M240.2 346.3L244.1 343.9L243.8 348.5M250.1 465.5L244.5 451.6M244.1 456.2L244.5 451.6L247.9 454.6M250.1 451.9L244.4 438M244 442.6L244.4 438L247.9 441M250.1 438.4L244.1 424.6M243.8 429.1L244.1 424.6L247.6 427.5M250.1 424.8L245.5 410.2M244.7 414.7L245.5 410.2L248.7 413.5M250.1 411.2L246 396.7M245.1 401.2L246 396.7L249.1 400M250.1 397.6L253 382.6M250.2 386.2L253 382.6L254.3 387M250.1 384L254.8 369.2M251.6 372.5L254.8 369.2L255.6 373.8M250.1 370.3L256.2 356.4M252.6 359.3L256.2 356.4L256.5 361M250.1 356.7L258.7 344.4M254.6 346.5L258.7 344.4L258 348.9M250.1 343L258.9 330.8M254.8 332.9L258.9 330.8L258.2 335.4M250.1 203L251.8 188.1M249.3 191.9L251.8 188.1L253.4 192.4M263.6 465.5L258.7 451.4M258.1 456L258.7 451.4L262 454.6M263.6 451.9L258.4 437.9M257.8 442.5L258.4 437.9L261.8 441M263.6 438.4L259.4 423.6M258.5 428.2L259.4 423.6L262.5 427M263.6 424.8L259.6 409.8M258.7 414.3L259.6 409.8L262.7 413.2M263.6 411.2L261.1 396M259.7 400.4L261.1 396L263.8 399.7M263.6 397.6L269.3 383.3M265.9 386.3L269.3 383.3L269.8 387.8M263.6 384L270.2 369.9M266.5 372.8L270.2 369.9L270.3 374.5M263.6 370.3L270.8 356.7M267.1 359.4L270.8 356.7L270.7 361.3M263.6 356.7L272.7 344.4M268.6 346.4L272.7 344.4L271.9 348.9M263.6 343L272.8 330.8M268.7 332.8L272.8 330.8L272 335.3M263.6 329.2L273.2 317.4M269 319.3L273.2 317.4L272.3 321.9M263.6 217.3L266 203.5M263.3 207.2L266 203.5L267.4 207.9M263.6 203L265.6 188.2M263 192L265.6 188.2L267.1 192.6M263.6 188.6L264.2 173.1M261.9 177.2L264.2 173.1L266.1 177.3M277.2 465.5L274.4 451.5M273.2 455.9L274.4 451.5L277.3 455.1M277.2 451.9L274.6 438M273.3 442.4L274.6 438L277.4 441.6M277.2 438.4L274.3 423.6M273.1 428.1L274.3 423.6L277.2 427.3M277.2 424.8L274.2 409.6M272.9 414.1L274.2 409.6L277 413.3M277.2 397.6L284.6 384M280.8 386.6L284.6 384L284.5 388.6M277.2 384L285.4 370.8M281.5 373.2L285.4 370.8L285 375.4M277.2 370.3L286.1 357.7M282 359.8L286.1 357.7L285.4 362.2M277.2 356.7L287.1 344.8M282.9 346.6L287.1 344.8L286.1 349.3M277.2 343L287.1 331.1M282.9 332.9L287.1 331.1L286.1 335.6M277.2 329.2L286.9 317.4M282.7 319.2L286.9 317.4L285.9 321.9M277.2 231.5L274.6 217.7M273.3 222.1L274.6 217.7L277.4 221.3M277.2 217.3L279.6 203.5M276.8 207.2L279.6 203.5L280.9 207.9M277.2 203L280.8 188.6M277.8 192.1L280.8 188.6L281.8 193.1M277.2 188.6L282 173.9M278.7 177.1L282 173.9L282.7 178.4M277.2 174.1L283 161.1M279.5 163.9L283 161.1L283.3 165.6M290.7 465.5L288.3 451.6M287 456L288.3 451.6L291.1 455.3M290.7 438.4L288.3 423.8M287 428.2L288.3 423.8L291.1 427.5M290.7 424.8L288 409.5M286.7 413.9L288 409.5L290.8 413.2M290.7 411.2L291.2 395.8M289 399.8L291.2 395.8L293.2 399.9M290.7 397.6L298.5 384.2M294.6 386.7L298.5 384.2L298.3 388.8M290.7 384L300.3 371.8M296.1 373.7L300.3 371.8L299.4 376.3M290.7 370.3L300.4 358.2M296.2 360.1L300.4 358.2L299.5 362.7M290.7 356.7L301.1 345.1M296.8 346.8L301.1 345.1L299.9 349.6M290.7 343L300.9 331.3M296.6 333L300.9 331.3L299.8 335.8M290.7 329.2L300.2 317M296 319L300.2 317L299.3 321.5M290.7 315.4L300.4 303.6M296.2 305.4L300.4 303.6L299.4 308.1M290.7 245.7L279.3 237.6M281.4 241.7L279.3 237.6L283.9 238.2M290.7 231.5L280.9 221.4M282.2 225.8L280.9 221.4L285.2 222.9M290.7 217.3L292.2 203.2M289.7 207.1L292.2 203.2L293.9 207.5M290.7 188.6L298.6 178.5M294.4 180.5L298.6 178.5L297.7 183.1M290.7 174.1L298.7 164.4M294.5 166.3L298.7 164.4L297.7 168.9M304.3 438.4L303 423.6M301.3 427.9L303 423.6L305.4 427.5M304.3 424.8L304.5 409.4M302.3 413.4L304.5 409.4L306.5 413.5M304.3 411.2L311.1 397.3M307.4 400.1L311.1 397.3L311.2 401.9M304.3 397.6L310.9 383.6M307.2 386.4L310.9 383.6L311 388.2M304.3 384L312.6 370.9M308.6 373.3L312.6 370.9L312.2 375.5M304.3 370.3L314.1 358.4M309.9 360.3L314.1 358.4L313.1 362.9M304.3 356.7L314.8 345.4M310.5 347L314.8 345.4L313.6 349.8M304.3 343L315.1 332.1M310.7 333.5L315.1 332.1L313.7 336.5M304.3 329.2L313.2 316.5M309.1 318.7L313.2 316.5L312.6 321.1M304.3 315.4L314.9 304.5M310.6 306L314.9 304.5L313.6 308.9M304.3 301.6L312.1 288.7M308.1 291.1L312.1 288.7L311.7 293.3M304.3 287.7L309.4 273.6M306.1 276.7L309.4 273.6L310 278.2M304.3 273.7L310.8 259.7M307.2 262.5L310.8 259.7L311 264.3M304.3 259.7L307.6 244.8M304.7 248.4L307.6 244.8L308.7 249.3M304.3 245.7L304.8 230.7M302.6 234.7L304.8 230.7L306.8 234.8M304.3 231.5L306.5 216.7M303.8 220.4L306.5 216.7L308 221M304.3 217.3L308.9 204M305.6 207.2L308.9 204L309.6 208.6M317.9 438.4L321.3 423.7M318.4 427.2L321.3 423.7L322.4 428.2M317.9 424.8L326 411.7M322.1 414.1L326 411.7L325.6 416.3M317.9 411.2L326.8 398.5M322.7 400.7L326.8 398.5L326.1 403.1M317.9 397.6L326.2 384.6M322.2 386.9L326.2 384.6L325.8 389.2M317.9 384L328.6 372.9M324.3 374.4L328.6 372.9L327.3 377.3M317.9 370.3L329.1 359.9M324.7 361.2L329.1 359.9L327.5 364.2M317.9 356.7L330.1 347.8M325.5 348.5L330.1 347.8L328 351.9M317.9 343L330.5 334.9M326 335.4L330.5 334.9L328.2 338.9M317.9 329.2L330.4 320.9M325.8 321.4L330.4 320.9L328.1 324.9M317.9 315.4L329.7 306.2M325.2 307.1L329.7 306.2L327.7 310.3M317.9 301.6L328.5 291M324.1 292.4L328.5 291L327.1 295.3M317.9 287.7L327.1 275.9M322.9 277.8L327.1 275.9L326.2 280.4M317.9 273.7L324.7 260.1M321 262.8L324.7 260.1L324.7 264.7M317.9 259.7L321.9 244.8M318.8 248.2L321.9 244.8L322.8 249.3M317.9 245.7L321.7 230.9M318.7 234.3L321.7 230.9L322.7 235.4M317.9 231.5L325.6 218.1M321.8 220.6L325.6 218.1L325.4 222.7M317.9 217.3L323.8 204.6M320.2 207.5L323.8 204.6L324 209.2M317.9 203L322.1 191.3M318.8 194.4L322.1 191.3L322.7 195.8M317.9 188.6L322.4 177.7M318.9 180.6L322.4 177.7L322.8 182.2M317.9 174.1L323.9 163.7M320 166.2L323.9 163.7L323.6 168.3M331.4 411.2L340.9 399.3M336.7 401.2L340.9 399.3L340 403.8M331.4 397.6L342.7 388M338.3 389L342.7 388L341 392.2M331.4 384L343.3 374M338.8 375.1L343.3 374L341.5 378.3M331.4 370.3L343.5 360.9M338.9 361.8L343.5 360.9L341.5 365M331.4 356.7L344.3 348.9M339.7 349.2L344.3 348.9L341.8 352.8M331.4 343L344.4 335.5M339.8 335.7L344.4 335.5L341.9 339.3M331.4 329.2L344.4 321.7M339.8 321.9L344.4 321.7L341.9 325.6M331.4 315.4L344 307.2M339.4 307.7L344 307.2L341.7 311.2M331.4 301.6L342.9 292M338.5 293L342.9 292L341.1 296.2M331.4 287.7L342.7 277.8M338.3 278.9L342.7 277.8L341 282.1M331.4 273.7L340.6 261.5M336.5 263.5L340.6 261.5L339.8 266M331.4 259.7L337.1 245.4M333.7 248.5L337.1 245.4L337.5 250M331.4 245.7L337.8 231.8M334.2 234.6L337.8 231.8L338 236.4M331.4 231.5L339.2 218.4M335.3 220.9L339.2 218.4L338.9 223M331.4 217.3L339.3 205.8M335.2 208L339.3 205.8L338.7 210.4M331.4 203L338.1 192.2M334.2 194.6L338.1 192.2L337.7 196.8M331.4 188.6L335.2 178.3M331.8 181.4L335.2 178.3L335.7 182.8M331.4 174.1L338.3 164.5M334.2 166.6L338.3 164.5L337.6 169M345 411.2L356.3 402.7M351.8 403.5L356.3 402.7L354.3 406.8M345 397.6L356.4 389.6M351.9 390.2L356.4 389.6L354.3 393.6M345 384L356.7 375M352.2 375.8L356.7 375L354.7 379.1M345 370.3L357.7 362.3M353.1 362.7L357.7 362.3L355.3 366.2M345 356.7L358 349.2M353.4 349.4L358 349.2L355.5 353M345 343L357.9 335.4M353.4 335.7L357.9 335.4L355.5 339.3M345 329.2L358 321.7M353.4 321.9L358 321.7L355.5 325.5M345 315.4L357.7 307.4M353.1 307.9L357.7 307.4L355.3 311.4M345 301.6L357 292.5M352.4 293.3L357 292.5L355 296.7M345 287.7L356.1 277.3M351.7 278.6L356.1 277.3L354.5 281.6M345 273.7L354.9 261.9M350.7 263.7L354.9 261.9L353.9 266.4M345 259.7L354.7 247.8M350.5 249.7L354.7 247.8L353.8 252.3M345 245.7L355.8 235M351.4 236.4L355.8 235L354.4 239.3M345 231.5L357.1 222.2M352.6 223.1L357.1 222.2L355.1 226.4M345 217.3L355.9 208.3M351.4 209.3L355.9 208.3L354.1 212.5M345 203L355.7 194M351.2 195L355.7 194L353.9 198.2M345 188.6L354.3 180.3M349.9 181.5L354.3 180.3L352.6 184.6M345 174.1L354.6 166.2M350.1 167.2L354.6 166.2L352.8 170.4M358.5 397.6L370 389.4M365.5 390.1L370 389.4L367.9 393.5M358.5 384L370.4 375.6M365.9 376.3L370.4 375.6L368.3 379.7M358.5 370.3L371.6 363M367 363.2L371.6 363L369 366.8M358.5 356.7L371.8 349.7M367.2 349.8L371.8 349.7L369.2 353.5M358.5 343L371.9 336.1M367.3 336.1L371.9 336.1L369.2 339.8M358.5 329.2L371.8 322.2M367.2 322.2L371.8 322.2L369.1 325.9M358.5 315.4L371.5 307.9M366.9 308.2L371.5 307.9L369 311.8M358.5 301.6L370.7 292.8M366.2 293.5L370.7 292.8L368.6 296.9M358.5 287.7L370.6 278.8M366.1 279.5L370.6 278.8L368.6 282.9M358.5 273.7L369.1 262.5M364.7 264.1L369.1 262.5L367.8 267M358.5 259.7L369.3 248.9M364.9 250.3L369.3 248.9L367.9 253.2M358.5 245.7L371 236.7M366.4 237.4L371 236.7L368.9 240.8M358.5 231.5L371.2 222.6M366.7 223.3L371.2 222.6L369.1 226.7M358.5 217.3L371.6 210.4M367 210.5L371.6 210.4L368.9 214.1M358.5 203L371.8 198.8M367.2 198.1L371.8 198.8L368.5 202M358.5 188.6L371.3 185.1M366.8 184.2L371.3 185.1L367.9 188.2M358.5 174.1L369.4 167.9M364.8 168.1L369.4 167.9L366.9 171.7M358.5 159.6L367.9 153.4M363.3 153.9L367.9 153.4L365.6 157.4M372.1 384L384.6 376.1M380 376.6L384.6 376.1L382.2 380.1M372.1 370.3L385.6 363.9M381 363.8L385.6 363.9L382.8 367.5M372.1 356.7L385.7 350.3M381.1 350.2L385.7 350.3L382.9 354M372.1 343L385.7 336.6M381.1 336.5L385.7 336.6L382.9 340.2M372.1 329.2L385.4 322.3M380.8 322.4L385.4 322.3L382.7 326.1M372.1 315.4L385.1 307.9M380.5 308.1L385.1 307.9L382.6 311.8M372.1 301.6L384.5 293.1M379.9 293.7L384.5 293.1L382.3 297.1M372.1 287.7L384.2 278.7M379.6 279.4L384.2 278.7L382.1 282.8M372.1 273.7L383.9 263.9M379.4 264.9L383.9 263.9L382.1 268.1M372.1 259.7L384 250.1M379.5 251.1L384 250.1L382.1 254.3M372.1 245.7L384.8 237.4M380.2 237.9L384.8 237.4L382.5 241.4M372.1 231.5L385.4 224.1M380.8 224.3L385.4 224.1L382.8 228M372.1 217.3L386.4 214.9M382 213.5L386.4 214.9L382.7 217.6M372.1 203L386.1 203M382 200.9L386.1 203L382 205.1M372.1 188.6L385.6 192.2M382.2 189.2L385.6 192.2L381.1 193.2M372.1 174.1L383.9 168.7M379.3 168.5L383.9 168.7L381.1 172.3M372.1 159.6L383.4 155.4M378.8 154.9L383.4 155.4L380.2 158.8M385.7 370.3L399.3 364.3M394.7 364L399.3 364.3L396.4 367.8M385.7 356.7L399.6 351M395 350.6L399.6 351L396.5 354.5M385.7 343L399.2 336.6M394.6 336.4L399.2 336.6L396.4 340.2M385.7 329.2L399.1 322.6M394.5 322.6L399.1 322.6L396.4 326.3M385.7 315.4L398.7 307.9M394.1 308.2L398.7 307.9L396.1 311.8M385.7 301.6L397.9 292.8M393.3 293.5L397.9 292.8L395.7 296.9M385.7 287.7L397.8 278.8M393.2 279.5L397.8 278.8L395.7 282.9M385.7 273.7L397.5 263.8M393.1 264.8L397.5 263.8L395.7 268M385.7 259.7L397.7 250.2M393.2 251.1L397.7 250.2L395.8 254.3M385.7 245.7L398.5 237.2M393.9 237.7L398.5 237.2L396.2 241.2M385.7 231.5L399.9 226.9M395.3 226.2L399.9 226.9L396.6 230.2M385.7 217.3L400.1 213.4M395.6 212.5L400.1 213.4L396.7 216.5M385.7 203L399.6 201.8M395.3 200.1L399.6 201.8L395.7 204.2M385.7 188.6L385.2 201.6M387.4 197.6L385.2 201.6L383.3 197.4M385.7 174.1L373.8 181.6M378.4 181.2L373.8 181.6L376.2 177.6M385.7 159.6L372.8 165M377.4 165.4L372.8 165L375.7 161.5M399.2 343L412 335.7M407.4 335.9L412 335.7L409.5 339.5M399.2 329.2L412.1 321.8M407.5 322.1L412.1 321.8L409.6 325.7M399.2 315.4L412 307.7M407.4 308L412 307.7L409.6 311.6M399.2 301.6L411.5 293M406.9 293.7L411.5 293L409.3 297.1M399.2 287.7L411.3 278.7M406.8 279.5L411.3 278.7L409.2 282.8M399.2 273.7L411.1 264M406.6 265L411.1 264L409.3 268.3M399.2 259.7L411.7 250.7M407.2 251.4L411.7 250.7L409.6 254.8M399.2 245.7L411.9 236.8M407.4 237.4L411.9 236.8L409.8 240.8M399.2 231.5L412.8 224.9M408.2 224.8L412.8 224.9L410 228.6M399.2 217.3L413.7 216.2M409.5 214.4L413.7 216.2L409.8 218.6M399.2 203L412.6 207.1M409.3 203.9L412.6 207.1L408.1 207.9M399.2 188.6L396.5 201.3M399.4 197.8L396.5 201.3L395.3 196.9M399.2 174.1L391.4 185.7M395.4 183.5L391.4 185.7L392 181.2M399.2 159.6L388.8 168.9M393.3 167.7L388.8 168.9L390.5 164.6M399.2 144.9L387.1 151.9M391.7 151.7L387.1 151.9L389.6 148M412.8 465.5L408 451.8M407.4 456.3L408 451.8L411.3 454.9M412.8 424.8L407.1 411.9M406.8 416.5L407.1 411.9L410.6 414.8M412.8 411.2L410.1 398.6M408.9 403L410.1 398.6L413 402.1M412.8 370.3L417.8 358.2M414.3 361.2L417.8 358.2L418.2 362.8M412.8 356.7L419.8 345.6M415.8 347.9L419.8 345.6L419.4 350.1M412.8 329.2L420.1 318.3M416 320.6L420.1 318.3L419.5 322.9M412.8 315.4L425.8 307.9M421.2 308.2L425.8 307.9L423.3 311.8M412.8 301.6L424.9 292.8M420.4 293.5L424.9 292.8L422.8 296.9M412.8 287.7L424.9 278.9M420.4 279.6L424.9 278.9L422.8 283M412.8 273.7L424.6 264.5M420.1 265.4L424.6 264.5L422.7 268.7M412.8 259.7L424.9 250.4M420.4 251.3L424.9 250.4L423 254.6M412.8 245.7L425.1 236.5M420.6 237.2L425.1 236.5L423.1 240.6M412.8 231.5L426.4 225.4M421.8 225.2L426.4 225.4L423.6 229M412.8 217.3L426.9 212.2M422.3 211.6L426.9 212.2L423.7 215.5M412.8 203L424.3 211M422.1 207L424.3 211L419.7 210.4M412.8 188.6L405.7 199.5M409.7 197.2L405.7 199.5L406.2 194.9M412.8 174.1L402.7 183.9M407.1 182.5L402.7 183.9L404.2 179.5M412.8 159.6L403.1 169.6M407.4 168.1L403.1 169.6L404.4 165.2M412.8 144.9L404.2 155.9M408.3 154L404.2 155.9L405 151.4M412.8 130.1L403 139.9M407.3 138.5L403 139.9L404.4 135.6M426.3 465.5L419.3 452.6M419.4 457.2L419.3 452.6L423.1 455.2M426.3 438.4L417.3 426.6M418.1 431.1L417.3 426.6L421.4 428.6M426.3 424.8L417.2 413.1M418.1 417.6L417.2 413.1L421.4 415M426.3 411.2L422.8 398.7M421.9 403.2L422.8 398.7L425.9 402M426.3 384L424.4 371.7M423 376L424.4 371.7L427.1 375.4M426.3 370.3L426.4 358.7M424.3 362.8L426.4 358.7L428.5 362.9M426.3 356.7L426.7 345.5M424.5 349.5L426.7 345.5L428.7 349.6M426.3 343L427.7 331.8M425.1 335.6L427.7 331.8L429.3 336.1M426.3 315.4L433.7 304.6M429.7 306.8L433.7 304.6L433.1 309.1M426.3 301.6L437.4 292.3M432.9 293.3L437.4 292.3L435.6 296.5M426.3 287.7L437.7 278.4M433.2 279.4L437.7 278.4L435.8 282.6M426.3 273.7L437.3 264M432.8 265.1L437.3 264L435.6 268.3M426.3 259.7L438.1 249.9M433.6 250.9L438.1 249.9L436.3 254.1M426.3 245.7L438.2 235.7M433.7 236.7L438.2 235.7L436.4 239.9M426.3 231.5L438.6 222.7M434.1 223.4L438.6 222.7L436.5 226.8M426.3 217.3L438.9 210.2M434.3 210.4L438.9 210.2L436.3 214.1M426.3 203L436.9 193.8M432.4 194.9L436.9 193.8L435.2 198.1M426.3 188.6L416.5 180.1M418.3 184.4L416.5 180.1L421 181.2M426.3 174.1L413.3 169.1M416.3 172.5L413.3 169.1L417.8 168.6M426.3 159.6L412.4 160.3M416.6 162.2L412.4 160.3L416.3 158M426.3 144.9L419.3 157M423.2 154.5L419.3 157L419.6 152.4M426.3 130.1L416.6 139.8M421 138.4L416.6 139.8L418 135.4M426.3 115.2L415.4 121.8M420 121.5L415.4 121.8L417.9 117.9M439.9 465.5L431.6 453.3M432.2 457.8L431.6 453.3L435.7 455.5M439.9 451.9L430.9 440.1M431.7 444.7L430.9 440.1L435 442.1M439.9 438.4L430.4 426.8M431.4 431.3L430.4 426.8L434.6 428.7M439.9 424.8L430.3 413.3M431.3 417.8L430.3 413.3L434.5 415.1M439.9 411.2L431.8 399.2M432.4 403.8L431.8 399.2L435.8 401.4M439.9 397.6L437.2 385.2M436 389.7L437.2 385.2L440.1 388.8M439.9 384L438 372.2M436.6 376.6L438 372.2L440.7 375.9M439.9 370.3L439 359.3M437.2 363.6L439 359.3L441.4 363.2M439.9 356.7L439.9 345.7M437.8 349.8L439.9 345.7L442 349.8M439.9 343L440.2 331.9M438 335.9L440.2 331.9L442.2 336M439.9 329.2L441.3 318.1M438.7 321.9L441.3 318.1L442.8 322.4M439.9 315.4L442.8 304.4M439.7 307.9L442.8 304.4L443.8 308.9M439.9 301.6L442.4 291.3M439.4 294.8L442.4 291.3L443.5 295.8M439.9 287.7L444 276.9M440.6 279.9L444 276.9L444.5 281.4M439.9 273.7L447.9 262.7M443.8 264.8L447.9 262.7L447.2 267.2M439.9 231.5L450.5 221.1M446.1 222.5L450.5 221.1L449 225.5M439.9 217.3L447.4 205.3M443.4 207.7L447.4 205.3L447 209.9M439.9 203L446 190.4M442.4 193.2L446 190.4L446.1 195M439.9 188.6L442.3 174.8M439.6 178.5L442.3 174.8L443.7 179.2M439.9 174.1L434.3 160.2M433.9 164.8L434.3 160.2L437.8 163.3M439.9 159.6L434.8 145.5M434.2 150L434.8 145.5L438.1 148.6M439.9 144.9L425.5 143.7M429.4 146.1L425.5 143.7L429.8 142M439.9 130.1L427.4 131.9M431.8 133.4L427.4 131.9L431.2 129.3M439.9 115.2L429.7 122.4M434.2 121.7L429.7 122.4L431.8 118.3M439.9 100.2L427 103.4M431.5 104.4L427 103.4L430.5 100.4M453.5 465.5L444.2 453.8M445.1 458.4L444.2 453.8L448.4 455.8M453.5 438.4L443.8 426.9M444.8 431.4L443.8 426.9L448 428.7M453.5 424.8L443.7 413.4M444.8 417.8L443.7 413.4L447.9 415.1M453.5 411.2L443.2 399.9M444.4 404.4L443.2 399.9L447.5 401.6M453.5 397.6L445.9 385.6M446.3 390.2L445.9 385.6L449.8 387.9M453.5 384L451.3 372.9M450.1 377.3L451.3 372.9L454.2 376.5M453.5 370.3L451.6 359.5M450.2 363.9L451.6 359.5L454.3 363.2M453.5 356.7L452.6 345.8M450.8 350L452.6 345.8L455 349.7M453.5 343L452.8 332.6M451 336.8L452.8 332.6L455.2 336.6M453.5 329.2L453.6 318.6M451.5 322.7L453.6 318.6L455.7 322.7M453.5 315.4L455.1 305.3M452.4 309L455.1 305.3L456.5 309.7M453.5 301.6L455.2 291.7M452.4 295.4L455.2 291.7L456.5 296.1M453.5 203L461.1 191.3M457.1 193.6L461.1 191.3L460.6 195.8M453.5 188.6L457.3 174.1M454.3 177.5L457.3 174.1L458.3 178.6M453.5 174.1L450.9 159.4M449.5 163.8L450.9 159.4L453.6 163M453.5 159.6L452.1 143.6M450.3 147.9L452.1 143.6L454.5 147.5M453.5 100.2L439.7 94.7M442.7 98.2L439.7 94.7L444.3 94.3M453.5 85L439.4 78.5M442.2 82.1L439.4 78.5L444 78.3M467 465.5L457 454.4M458.2 458.8L457 454.4L461.3 456M467 438.4L456.5 427.7M457.9 432.1L456.5 427.7L460.9 429.1M467 424.8L456.3 413.8M457.7 418.2L456.3 413.8L460.7 415.3M467 411.2L456.1 400.3M457.5 404.6L456.1 400.3L460.4 401.7M467 397.6L456.7 386.4M458 390.8L456.7 386.4L461 388M467 384L463.8 372.5M462.9 377L463.8 372.5L466.9 375.8M467 356.7L466 346.4M464.3 350.7L466 346.4L468.5 350.3M467 343L466.1 333M464.4 337.3L466.1 333L468.6 336.9M467 329.2L466.3 319.1M464.5 323.3L466.3 319.1L468.6 323M467 259.7L470 244.9M467.2 248.5L470 244.9L471.3 249.3M467 245.7L470.5 230.1M467.6 233.6L470.5 230.1L471.7 234.5M467 203L474 190.9M470.2 193.4L474 190.9L473.8 195.5M467 188.6L471.3 174.5M468.1 177.8L471.3 174.5L472.1 179M467 174.1L465.8 158.7M464.1 163L465.8 158.7L468.2 162.7M467 159.6L466.5 143.6M464.5 147.7L466.5 143.6L468.7 147.6M467 144.9L464.7 127.5M463.2 131.9L464.7 127.5L467.3 131.3M467 130.1L456.7 120.7M458.3 125L456.7 120.7L461.2 121.9M467 115.2L453.8 107.6M456.3 111.4L453.8 107.6L458.4 107.8M467 100.2L453.7 92.3M456.1 96.1L453.7 92.3L458.3 92.6M467 85L453.3 77.7M455.9 81.5L453.3 77.7L457.9 77.8M467 69.7L453.3 61.7M455.8 65.6L453.3 61.7L457.9 62M467 54.3L453.2 46.3M455.7 50.2L453.2 46.3L457.8 46.5M467 38.7L453.2 30.6M455.7 34.5L453.2 30.6L457.8 30.9M480.6 465.5L470.2 454.6M471.6 459.1L470.2 454.6L474.6 456.2M480.6 451.9L470 441.3M471.4 445.7L470 441.3L474.4 442.7M480.6 438.4L470 427.8M471.4 432.1L470 427.8L474.3 429.2M480.6 424.8L470 414.1M471.4 418.5L470 414.1L474.3 415.5M480.6 411.2L469.8 400.2M471.2 404.6L469.8 400.2L474.2 401.7M480.6 397.6L470.8 386.2M471.9 390.7L470.8 386.2L475 388M480.6 384L475.5 372M475.2 376.6L475.5 372L479 375M480.6 370.3L478.4 359.2M477.2 363.7L478.4 359.2L481.3 362.9M480.6 259.7L480.3 242.6M478.3 246.7L480.3 242.6L482.5 246.7M480.6 245.7L479.9 227.9M478 232L479.9 227.9L482.2 231.9M480.6 231.5L481.7 214.6M479.4 218.5L481.7 214.6L483.5 218.8M480.6 217.3L486.1 203.3M482.7 206.3L486.1 203.3L486.6 207.8M480.6 203L486.5 189M483 191.9L486.5 189L486.8 193.6M480.6 188.6L481.9 169.8M479.5 173.8L481.9 169.8L483.7 174.1M480.6 174.1L480.1 156.9M478.1 161L480.1 156.9L482.3 160.9M480.6 159.6L479.3 142.2M477.6 146.4L479.3 142.2L481.7 146.1M480.6 144.9L478.8 125M477.1 129.2L478.8 125L481.3 128.9M480.6 130.1L475.7 112.3M474.8 116.8L475.7 112.3L478.8 115.7M480.6 115.2L468 105.8M470 109.9L468 105.8L472.5 106.6M480.6 100.2L468.3 89.9M470.1 94.1L468.3 89.9L472.8 90.9M480.6 85L468.1 74.8M470 79L468.1 74.8L472.6 75.8M480.6 69.7L468.1 58.5M469.8 62.8L468.1 58.5L472.6 59.7M480.6 54.3L467 45.6M469.3 49.6L467 45.6L471.5 46.1M480.6 38.7L467 30.1M469.3 34.1L467 30.1L471.5 30.5M494.1 465.5L483.6 454.7M485 459.1L483.6 454.7L488 456.2M494.1 451.9L483.6 441.3M485 445.7L483.6 441.3L487.9 442.7M494.1 438.4L483.5 427.7M485 432.1L483.5 427.7L487.9 429.2M494.1 424.8L483.6 414M485 418.4L483.6 414L487.9 415.5M494.1 411.2L483.8 400.1M485.1 404.5L483.8 400.1L488.1 401.7M494.1 397.6L484.8 386.1M485.8 390.6L484.8 386.1L489 388M494.1 384L487.7 372M487.8 376.6L487.7 372L491.5 374.6M494.1 370.3L491.1 359M490.1 363.5L491.1 359L494.1 362.4M494.1 259.7L493.3 241.9M491.4 246.1L493.3 241.9L495.6 245.9M494.1 245.7L493.2 227.7M491.3 231.9L493.2 227.7L495.5 231.7M494.1 231.5L493.5 213.7M491.6 217.9L493.5 213.7L495.7 217.7M494.1 217.3L496.2 200.2M493.6 204L496.2 200.2L497.8 204.5M494.1 203L494.4 183M492.2 187.1L494.4 183L496.4 187.1M494.1 188.6L493.4 167.6M491.5 171.8L493.4 167.6L495.6 171.7M494.1 174.1L493.4 154M491.5 158.2L493.4 154L495.7 158M494.1 159.6L492.4 141.1M490.7 145.4L492.4 141.1L494.8 145M494.1 144.9L492 125.5M490.4 129.8L492 125.5L494.5 129.3M494.1 130.1L489 112.5M488.1 117L489 112.5L492.1 115.8M494.1 115.2L482.5 103.8M484 108.1L482.5 103.8L486.9 105.2M494.1 100.2L481.9 89.7M483.7 93.9L481.9 89.7L486.4 90.8M494.1 85L482.1 73.2M483.6 77.6L482.1 73.2L486.5 74.6M494.1 69.7L482.1 57.7M483.5 62.1L482.1 57.7L486.5 59.1M494.1 54.3L481.9 42.6M483.4 47L481.9 42.6L486.3 43.9M494.1 38.7L481.3 28.3M483.2 32.5L481.3 28.3L485.8 29.2M507.7 465.5L496.6 455.1M498.2 459.4L496.6 455.1L501.1 456.4M507.7 438.4L496.6 427.9M498.2 432.2L496.6 427.9L501 429.2M507.7 424.8L496.8 414M498.2 418.3L496.8 414L501.1 415.4M507.7 411.2L496.8 400.2M498.2 404.6L496.8 400.2L501.2 401.7M507.7 397.6L497.2 386.4M498.5 390.9L497.2 386.4L501.5 388M507.7 273.7L505.8 257.9M504.2 262.2L505.8 257.9L508.4 261.7M507.7 259.7L506.8 242.1M504.9 246.3L506.8 242.1L509.1 246.1M507.7 245.7L506.8 227.7M504.9 231.9L506.8 227.7L509.1 231.7M507.7 231.5L507.2 213.6M505.2 217.8L507.2 213.6L509.4 217.6M507.7 217.3L508.2 199.1M506 203.1L508.2 199.1L510.1 203.2M507.7 203L507.6 183M505.5 187.1L507.6 183L509.7 187.1M507.7 188.6L507.1 167.9M505.1 172.1L507.1 167.9L509.3 172M507.7 174.1L507 154.1M505 158.3L507 154.1L509.2 158.2M507.7 159.6L505.8 140.9M504.2 145.2L505.8 140.9L508.3 144.8M507.7 144.9L504.6 126.2M503.2 130.6L504.6 126.2L507.4 130M507.7 130.1L502.8 111.9M501.9 116.4L502.8 111.9L505.9 115.3M507.7 115.2L498.9 99.6M499.1 104.2L498.9 99.6L502.8 102.1M507.7 100.2L497.6 85.3M498.2 89.8L497.6 85.3L501.6 87.5M507.7 85L498 69.2M498.4 73.8L498 69.2L501.9 71.6M507.7 69.7L496 57M497.3 61.4L496 57L500.3 58.6M507.7 54.3L495.9 41.9M497.2 46.3L495.9 41.9L500.2 43.4M507.7 38.7L495.8 26.7M497.2 31.1L495.8 26.7L500.1 28.1M521.3 465.5L509.4 455.6M511.2 459.9L509.4 455.6L513.9 456.7M521.3 451.9L509.4 442M511.2 446.2L509.4 442L513.9 443M521.3 438.4L509.4 428.4M511.2 432.6L509.4 428.4L513.9 429.4M521.3 424.8L510.1 414.1M511.6 418.4L510.1 414.1L514.5 415.4M521.3 411.2L510.3 400.3M511.7 404.6L510.3 400.3L514.7 401.7M521.3 397.6L510.5 386.5M511.9 390.9L510.5 386.5L514.9 388M521.3 384L511.3 372.2M512.4 376.6L511.3 372.2L515.6 374M521.3 329.2L514.7 315.2M514.5 319.8L514.7 315.2L518.3 318M521.3 315.4L515 301.4M514.8 306L515 301.4L518.6 304.3M521.3 301.6L517 286.6M516.1 291.1L517 286.6L520.1 290M521.3 287.7L517.2 272.3M516.2 276.8L517.2 272.3L520.3 275.7M521.3 273.7L517.8 257.8M516.6 262.3L517.8 257.8L520.7 261.4M521.3 259.7L520.1 241.5M518.3 245.7L520.1 241.5L522.5 245.4M521.3 245.7L520.6 226.8M518.6 231L520.6 226.8L522.8 230.8M521.3 231.5L520.7 212.8M518.7 217L520.7 212.8L522.9 216.9M521.3 217.3L521.1 198.3M519 202.4L521.1 198.3L523.2 202.4M521.3 203L521.2 182.6M519.1 186.7L521.2 182.6L523.3 186.7M521.3 188.6L521.2 167.8M519.1 171.9L521.2 167.8L523.3 171.9M521.3 174.1L520.9 153.7M518.9 157.8L520.9 153.7L523.1 157.8M521.3 159.6L519.7 140M517.9 144.2L519.7 140L522.1 143.9M521.3 144.9L519 124.6M517.4 128.9L519 124.6L521.6 128.5M521.3 130.1L519.2 109.4M517.5 113.7L519.2 109.4L521.7 113.3M521.3 115.2L517.2 95.5M516 100L517.2 95.5L520.1 99.1M521.3 100.2L512.5 83.4M512.5 88L512.5 83.4L516.2 86.1M521.3 85L512.3 68.2M512.4 72.8L512.3 68.2L516.1 70.9M521.3 69.7L512 53.4M512.2 58L512 53.4L515.8 56M521.3 54.3L510.8 39.8M511.5 44.3L510.8 39.8L514.9 41.9M521.3 38.7L510.5 24.9M511.4 29.5L510.5 24.9L514.7 26.9M534.8 465.5L522.4 456.2M524.4 460.4L522.4 456.2L526.9 457M534.8 451.9L522.8 442.1M524.7 446.4L522.8 442.1L527.3 443.1M534.8 438.4L522.9 428.4M524.7 432.6L522.9 428.4L527.4 429.4M534.8 424.8L523 414.8M524.8 419.1L523 414.8L527.5 415.9M534.8 411.2L523.7 400.5M525.2 404.8L523.7 400.5L528.1 401.8M534.8 397.6L524.5 386.1M525.7 390.5L524.5 386.1L528.8 387.7M534.8 384L524.9 372.1M525.9 376.6L524.9 372.1L529.1 373.9M534.8 370.3L525 358.4M526 362.9L525 358.4L529.2 360.3M534.8 356.7L526.8 344.1M527.2 348.6L526.8 344.1L530.8 346.4M534.8 343L528.2 329.3M528.1 333.9L528.2 329.3L531.9 332.1M534.8 329.2L528.4 315.2M528.2 319.8L528.4 315.2L532 318M534.8 315.4L529 301.1M528.6 305.7L529 301.1L532.5 304.1M534.8 301.6L530.6 286.2M529.6 290.7L530.6 286.2L533.7 289.6M534.8 287.7L530.7 272.2M529.7 276.7L530.7 272.2L533.8 275.7M534.8 273.7L530.9 258M529.9 262.5L530.9 258L533.9 261.5M534.8 259.7L533.9 241M532 245.2L533.9 241L536.1 245M534.8 245.7L534.2 226.7M532.2 230.8L534.2 226.7L536.4 230.7M534.8 231.5L534.1 212.6M532.2 216.7L534.1 212.6L536.4 216.6M534.8 217.3L534.4 197.8M532.4 202L534.4 197.8L536.6 201.9M534.8 203L534.8 182.2M532.7 186.3L534.8 182.2L536.9 186.3M534.8 188.6L534.8 167.6M532.7 171.7L534.8 167.6L536.9 171.7M534.8 174.1L534.7 153.3M532.7 157.4L534.7 153.3L536.8 157.4M534.8 159.6L533.6 139.3M531.8 143.5L533.6 139.3L535.9 143.2M534.8 144.9L533 124.1M531.2 128.4L533 124.1L535.4 128M534.8 130.1L533 109.2M531.3 113.4L533 109.2L535.4 113.1M534.8 115.2L532.5 94.5M530.9 98.8L532.5 94.5L535 98.4M534.8 100.2L527.1 82.6M526.8 87.2L527.1 82.6L530.7 85.5M534.8 85L526 68.2M526.1 72.8L526 68.2L529.8 70.9M534.8 69.7L526.4 52.9M526.4 57.5L526.4 52.9L530.1 55.6M534.8 54.3L526.6 37.7M526.6 42.3L526.6 37.7L530.3 40.5M534.8 38.7L526 22.9M526.2 27.5L526 22.9L529.8 25.5M548.4 465.5L534.7 457.8M537.3 461.6L534.7 457.8L539.3 458M548.4 424.8L534.9 417.1M537.5 421L534.9 417.1L539.5 417.3M548.4 411.2L535.5 403.3M537.9 407.2L535.5 403.3L540.1 403.7M548.4 397.6L536.8 387.7M538.5 391.9L536.8 387.7L541.3 388.8M548.4 384L538.3 372.3M539.4 376.7L538.3 372.3L542.6 374M548.4 370.3L539.1 358.3M539.9 362.8L539.1 358.3L543.3 360.3M548.4 356.7L539.8 344.4M540.4 348.9L539.8 344.4L543.9 346.5M548.4 343L540.3 330.3M540.7 334.9L540.3 330.3L544.2 332.6M548.4 329.2L541.9 315.3M541.7 319.9L541.9 315.3L545.5 318.1M548.4 315.4L542.9 300.5M542.4 305.1L542.9 300.5L546.3 303.7M548.4 301.6L543.2 286.5M542.5 291L543.2 286.5L546.5 289.7M548.4 287.7L544 272.3M543.1 276.8L544 272.3L547.1 275.6M548.4 273.7L544.7 257.6M543.6 262L544.7 257.6L547.6 261.1M548.4 259.7L546.9 241.1M545.1 245.4L546.9 241.1L549.3 245.1M548.4 245.7L547.2 226.7M545.4 231L547.2 226.7L549.5 230.7M548.4 231.5L547.2 212.6M545.4 216.8L547.2 212.6L549.6 216.6M548.4 217.3L547.7 197.7M545.8 201.8L547.7 197.7L550 201.7M548.4 203L548.3 182.2M546.2 186.3L548.3 182.2L550.4 186.3M548.4 188.6L548.4 167.7M546.3 171.8L548.4 167.7L550.5 171.8M548.4 174.1L548.3 153.3M546.2 157.4L548.3 153.3L550.4 157.4M548.4 159.6L547.4 139M545.5 143.2L547.4 139L549.7 143M548.4 144.9L546.8 124.1M545.1 128.3L546.8 124.1L549.2 128M548.4 130.1L546.9 109.2M545.1 113.4L546.9 109.2L549.2 113.1M548.4 115.2L546.4 94.5M544.7 98.8L546.4 94.5L548.9 98.4M548.4 100.2L543.1 81.3M542.2 85.8L543.1 81.3L546.2 84.7M548.4 85L541.8 67.2M541.3 71.8L541.8 67.2L545.2 70.3M548.4 69.7L542.4 51.7M541.7 56.3L542.4 51.7L545.6 55M548.4 54.3L542.1 36.5M541.5 41L542.1 36.5L545.5 39.6M548.4 38.7L541.3 21.5M540.9 26.1L541.3 21.5L544.8 24.5M561.9 465.5L547.3 459.6M550.3 463L547.3 459.6L551.9 459.2M561.9 451.9L546.6 447.4M550 450.6L546.6 447.4L551.1 446.6M561.9 438.4L546.5 434.2M549.9 437.3L546.5 434.2L551 433.3M561.9 424.8L547.7 418.7M550.6 422.2L547.7 418.7L552.3 418.4M561.9 411.2L548.9 403.7M551.5 407.6L548.9 403.7L553.5 404M561.9 397.6L549.1 389.8M551.5 393.7L549.1 389.8L553.7 390.2M561.9 384L551.3 373.2M552.7 377.6L551.3 373.2L555.6 374.7M561.9 370.3L553.2 358.1M553.9 362.7L553.2 358.1L557.3 360.2M561.9 356.7L553.3 344.4M554 348.9L553.3 344.4L557.4 346.5M561.9 343L553.4 330.6M554 335.2L553.4 330.6L557.5 332.8M561.9 329.2L555.1 315.4M555 320L555.1 315.4L558.8 318.1M561.9 315.4L556.5 300.4M555.9 305L556.5 300.4L559.8 303.5M561.9 301.6L556.5 286.5M555.9 291.1L556.5 286.5L559.8 289.7M561.9 287.7L556.6 272.6M556 277.1L556.6 272.6L560 275.7M561.9 273.7L558.4 257M557.2 261.4L558.4 257L561.3 260.5M561.9 259.7L560.2 240.9M558.5 245.2L560.2 240.9L562.7 244.8M561.9 245.7L560.3 226.7M558.6 231L560.3 226.7L562.7 230.6M561.9 231.5L560.3 212.6M558.6 216.9L560.3 212.6L562.8 216.5M561.9 217.3L561.1 197.6M559.2 201.8L561.1 197.6L563.4 201.6M561.9 203L561.9 182.1M559.8 186.2L561.9 182.1L564 186.2M561.9 188.6L561.9 167.6M559.9 171.7L561.9 167.6L564 171.7M561.9 174.1L561.9 153.2M559.8 157.3L561.9 153.2L564 157.3M561.9 159.6L561.1 138.9M559.2 143.1L561.1 138.9L563.3 142.9M561.9 144.9L560.8 124M558.9 128.2L560.8 124L563.1 128M561.9 130.1L560.8 109.1M559 113.3L560.8 109.1L563.1 113.1M561.9 115.2L560.6 94.3M558.8 98.5L560.6 94.3L563 98.3M561.9 100.2L557.8 80.8M556.6 85.2L557.8 80.8L560.7 84.4M561.9 85L556.1 66.9M555.3 71.5L556.1 66.9L559.3 70.2M561.9 69.7L556.1 51.7M555.3 56.2L556.1 51.7L559.3 54.9M561.9 54.3L556 36.3M555.3 40.8L556 36.3L559.3 39.5M561.9 38.7L555.6 21.1M555 25.6L555.6 21.1L558.9 24.2M575.5 465.5L560.8 459.8M563.8 463.2L560.8 459.8L565.3 459.3M575.5 451.9L560.3 447.3M563.6 450.5L560.3 447.3L564.8 446.5M575.5 438.4L560.2 433.9M563.5 437.1L560.2 433.9L564.7 433.1M575.5 424.8L561.3 418.6M564.2 422.2L561.3 418.6L565.9 418.4M575.5 411.2L562.5 403.7M565 407.6L562.5 403.7L567 404M575.5 397.6L562.7 389.7M565.1 393.6L562.7 389.7L567.3 390.1M575.5 384L564.6 373.5M566.1 377.9L564.6 373.5L569 374.9M575.5 370.3L566.7 358.2M567.4 362.7L566.7 358.2L570.8 360.3M575.5 356.7L566.9 344.4M567.5 348.9L566.9 344.4L571 346.5M575.5 343L567.1 330.5M567.6 335.1L567.1 330.5L571.1 332.7M575.5 329.2L568.6 315.4M568.6 320L568.6 315.4L572.3 318.1M575.5 315.4L570 300.5M569.4 305L570 300.5L573.4 303.6M575.5 301.6L570.1 286.5M569.5 291.1L570.1 286.5L573.4 289.7M575.5 287.7L570.3 272.5M569.6 277L570.3 272.5L573.6 275.7M575.5 273.7L571.9 256.8M570.7 261.3L571.9 256.8L574.8 260.4M575.5 259.7L573.7 241.1M572 245.3L573.7 241.1L576.1 244.9M575.5 245.7L573.8 226.8M572.1 231L573.8 226.8L576.3 230.7M575.5 231.5L573.9 212.6M572.2 216.9L573.9 212.6L576.3 216.5M575.5 217.3L574.6 197.7M572.7 201.9L574.6 197.7L576.9 201.7M575.5 203L575.4 182.2M573.3 186.3L575.4 182.2L577.5 186.3M575.5 188.6L575.5 167.7M573.4 171.8L575.5 167.7L577.6 171.8M575.5 174.1L575.4 153.3M573.3 157.4L575.4 153.3L577.5 157.4M575.5 159.6L574.6 139M572.7 143.2L574.6 139L576.9 143M575.5 144.9L574.3 124.1M572.5 128.3L574.3 124.1L576.6 128M575.5 130.1L574.4 109.2M572.5 113.4L574.4 109.2L576.7 113.1M575.5 115.2L574 94.4M572.2 98.7L574 94.4L576.4 98.4M575.5 100.2L571.5 80.8M570.3 85.2L571.5 80.8L574.4 84.4M575.5 85L569.7 66.9M569 71.4L569.7 66.9L572.9 70.2M575.5 69.7L569.6 51.7M568.9 56.2L569.6 51.7L572.9 54.9M575.5 54.3L569.6 36.3M568.9 40.8L569.6 36.3L572.8 39.5M575.5 38.7L569.3 21M568.7 25.6L569.3 21L572.6 24.2"/>
<g fill="#c0c0c0" stroke="none">
<polygon points="465.6,36 465.6,38 462.2,46 460.9,52.8 460.2,58.8 457.6,63.5 453.5,68.8 449.5,74.2 445.5,80.9 440.2,86.2 436.1,90.2 434.2,98 432.2,104.7 426.9,110 422.8,114.8 418.8,118.8 413.5,122.8 410.1,128.2 405.4,132.2 400,136.2 394.7,140.2 391.4,143.5 385.4,146.2 383.7,146.1 377,147.4 370.3,148.1 365,150.8 363,155.5 356.9,157.5 352.9,158.8 347.6,158.2 343.5,160.8 336.9,161.5 330.2,163.5 323.5,164.8 316.8,166.2 312.1,168.2 308.1,171.5 306.7,175.6 308.1,179.6 311.4,182.2 310.1,184.9 304.7,185.6 302.7,182.9 301,176.8 300.3,168.7 298.3,163.4 292.9,164.7 288.9,163.4 284.9,161.4 280.9,164.1 275.5,166.1 270.2,170.1 266.1,174.1 259.5,174.8 258.1,178.1 256.8,183.5 251.4,188.2 247.4,194.2 244.7,202.9 248.1,208.9 252.1,214.3 256.1,217 257.4,221 262.1,227 267.5,232.4 272.8,237.8 279.5,243.1 284.9,249.8 288.9,255.2 291.6,261.9 292.9,268.5 294.3,275.2 295.6,283.3 297.6,288 294.3,294.7 293.6,302.8 291,309.5 285.6,312.8 278.9,316.8 273.5,320.2 265.5,322.8 260.2,326.9 257.5,332.2 252.1,336.2 245.4,340.2 240.1,344.3 236.1,346.9 234.1,344.3 234.1,337.6 236.7,330.9 238.4,330 233,325.2 227.6,322.6 222.3,321.9 219.6,318.5 217,314.5 212.9,317.2 208.9,309.2 204.9,302.5 200.9,297.1 195.5,292.4 190.2,291.8 182.1,292.4 180.8,287.8 182.1,281.7 176.8,280.4 170.1,281.1 168.1,284.4 169.4,291.8 168.1,299.8 164.1,306.5 161.4,314.5 159.4,321.2 157.4,327.9 158,334 158.7,338 163.4,339.4 167.4,344.7 170.1,351.4 173.4,359.5 176.1,366.1 181.5,370.2 187.5,372.2 192.8,375.5 197.5,380.2 202.2,383.5 207.6,388.9 211.6,394.3 212.9,397 215.6,403 214.3,412.4 215.6,421.8 216.9,429.8 221,435.2 224.3,440.5 223.6,445.9 219.6,447.2 214.3,446.5 210.2,441.9 204.9,439.2 199.5,435.2 192.8,431.1 187.5,425.8 185.5,420.4 180.8,413.7 176.8,408.4 177.4,401.7 176.8,399.6 174.8,394.3 173.4,388.9 171.4,382.2 170.1,375.5 166.1,372.8 163.4,367.5 159.4,363.5 155.4,360.8 153,360 153,36"/>
<polygon points="153,416 155.4,417.1 162,421.8 168.7,428.5 174.1,433.8 178.8,436.5 182.1,435.2 186.1,437.8 191.5,441.2 195.5,443.9 199.5,448.5 203.5,453.9 208.9,456.6 211.6,457.9 206.2,461.3 216.9,460.6 221,464 222,468 163.4,468 163.4,464.6 158,460.6 155.4,453.9 153,452"/>
<polygon points="294,468 294,465 292.5,461 290,456 291,449 294,441.9 298,439.2 300,441.2 304.7,441.9 310.1,442.5 316.8,445.2 320.1,441.9 320.8,435.2 322.8,428.5 327.5,426.5 335.5,423.8 343.5,421.8 348.9,417.8 352.9,412.4 358.3,405.7 363,402.4 367.6,399 370.3,396.3 373,395 378.4,393.8 381.1,388.5 386.4,383.8 391.8,377.8 396.5,372.4 400.5,369.7 402.5,372.4 407.2,377.1 409.2,381.1 407.8,384.5 413.2,385.1 418.5,387.8 423.9,390.5 430.6,392.5 429.9,395.2 423.9,397.2 417.2,397.8 415.2,399.8 418.5,402.5 421.9,403.9 415.9,406.5 410.5,407.9 407.8,411.2 409.2,414.6 405.2,416.6 407.8,420.6 409.2,426 410.5,430 411,432 413,436 420,446 425,452 418,454 411,455 408,462 406,465 406,468"/>
<polygon points="304.3,188.8 310.3,187.5 315.7,188.2 317.7,192.2 315,196.2 313,201.5 310.3,206.2 305,209.6 299.6,212.2 294.3,212.2 288.9,209.6 286.2,204.9 285.6,199.5 288.9,195.5 293.6,192.8 298.3,190.2"/>
<polygon points="461,110.7 465,114.1 465.7,120.1 463.7,127.5 460.3,135.5 458.3,142.2 455,148.9 453,154.3 451,160.3 449.6,158.3 447.6,152.9 444.3,149.6 442.7,143.5 442.9,135.5 445.6,128.8 449.6,122.1 453.6,115.4 457.6,111.4"/>
<polygon points="448.8,209.4 454.8,208.1 461.5,211.4 467.5,213.4 469.5,208.7 471.5,212.1 470.2,216.8 468.9,222.1 471.5,226.1 474.2,230.2 472.9,235.5 469.5,240.2 465.5,244.9 461.5,248.9 458.8,254.3 460.2,259.6 460.9,261.4 461.4,266.8 463,271.1 466.8,273.7 471,276.4 474.3,280.2 475.9,283.4 474.3,283.4 472.1,280.2 468.9,277.5 465.2,274.8 461.9,273.2 461.4,274.3 458.7,276.9 455.5,275.9 450.7,273.2 448,267.8 444.8,262.5 441,260.4 440.1,256.9 439.4,248.9 437.4,244.2 440.1,242.2 444.8,243.5 445.4,235.5 446.8,228.8 445.4,222.1 447.4,215.4"/>
<polygon points="471.2,270.6 476.7,269.4 480.3,271.7 481.6,276.1 483.4,279.7 481,279.7 478,276.1 474.3,273.6"/>
<polygon points="482.2,277.5 484.7,275.1 488.9,274.4 487.7,278.2 490.2,283 492.6,287.9 490.7,289.7 487.1,287.3 484.7,283 482.9,280"/>
<polygon points="496.6,272.8 498.6,272.2 499.1,276.4 497.3,280.8 495.5,279.5 496.1,275.9"/>
<polygon points="465,280.5 468,281 467.4,284.1 465,283.6"/>
<polygon points="446.5,280.2 451.4,279.7 456.3,280.9 460.6,284.6 461.8,289.5 460,294.3 456.9,298 454.5,298 452.6,293.1 450.2,287 447.8,283.3"/>
<polygon points="493.3,289.1 496.4,289.6 496.4,292.7 493.6,292.4"/>
<polygon points="483.3,295.3 487,294 491.9,297.1 495,300.8 493.1,302.6 489.5,299.5 485.7,298.4 483.3,301.3 482.1,299.5"/>
<polygon points="498.2,294.9 503.7,293 509.8,293 513.5,296.7 514.7,302.2 515.2,307.4 516,313.4 511.3,312 508.6,307.2 504.9,303.4 502.5,299.8 498.9,297.3"/>
<polygon points="465.9,301.4 472,304.4 479.6,307.4 484.2,310.5 481.2,315 475.1,319.6 469.7,322.7 466.6,321.2 466.6,313.6 468.2,307.4"/>
<polygon points="483,314.2 487.7,314.9 486.9,321.9 483.8,329.5 483,337 484.6,340.9 480.8,342.4 477,338.6 473.1,334.1 473.9,330.2 478.5,327.9 480.1,320.3"/>
<polygon points="493.3,316.1 494.8,319.2 491.7,326.8 488,334.4 485.7,336.7 486.5,331.3 489.4,323.7"/>
<polygon points="493.2,329.3 497.9,326.9 500.8,330 497.9,333.9 493.2,333.9 491.7,331.6"/>
<polygon points="499.5,309.7 505.7,308.9 507.1,314.3 506.5,320.4 510.2,325 508.7,327.3 504.9,323.5 503.4,317.3 500.3,314.3"/>
<polygon points="466.3,369.5 468.8,364.3 470.1,360.2 472.1,356.9 476.1,356.2 480.2,353.5 481.5,350.2 485.5,348.2 489.5,348.9 491.5,353.5 493.5,353.5 498.9,350.9 504.3,349.5 505.6,345.5 509.6,342.8 513,340.8 514.3,336.8 515,333.5 519,334.8 521.7,340.2 524.3,344.2 523.7,349.5 525.7,353.5 527.7,358.9 529,365 528.5,368 526.3,369.7 524.3,373.1 521.6,369.7 518.3,366.4 514.3,369.7 514.3,375.1 516.9,380.4 515.6,385.8 512.2,388.5 508.9,383.8 503.5,383.8 497.5,379.8 495.5,375.1 497.5,369.7 496.2,364.4 490.2,360.4 485.5,364.4 482.1,360.4 478.8,364.4 477.4,360.4 474.8,361.7 471.4,367 468.1,369.7"/>
<polygon points="398.4,356.3 402.4,351.6 405.1,346.9 410.4,341.5 415.8,336.2 420.5,330.8 425.2,325.5 430.5,320.1 433.9,318.1 435.2,321.5 431.9,324.8 426.5,329.5 422.5,334.8 417.8,339.5 413.1,344.2 408.4,348.2 405.1,350.9 402.4,355.6 399.7,358.3"/>
<polygon points="438,457 440,455.6 445.6,453.8 451.1,449.1 457.6,447.3 461.3,451 469.7,452.8 477.1,454.7 484.5,453.8 493.8,453.8 499.3,451 504,446.4 508.6,441.7 511.4,444.5 507.7,450.1 504,455.6 495.6,460.3 486.4,461.2 477.1,459.3 467.8,459.3 458.5,459.3 451.1,459.3 443.7,461.2 439,462"/>
<polygon points="551.3,432.4 555,430.6 557.7,433.4 555,437.1 552.2,436.2"/>
<polygon points="542.9,439.9 548.5,438.9 549.4,445.4 545.7,451 542,451.9 541.1,446.4"/>
<polygon points="555.9,444.5 558.7,445.4 557.7,451.9 555.9,457.5 551.3,455.6 547.5,459.3 545.7,464.9 542.9,464.9 543.8,457.5 547.5,452.8 551.3,448.2"/>
<polygon points="278.6,409 280.6,408.2 282,410 281.6,413.2 279.6,414 278.2,412"/>
<polygon points="215.5,313 218.5,312 219.5,316 216.5,318.5"/>
<polygon points="543,98.5 546,94 550,89.5 553,86.5 554.2,87.6 551,91.5 547,96 544.2,99.5"/>
<polygon points="530.5,405 532.8,404 533.6,409 532.5,413.5 530.5,412"/>
<polygon points="179.5,434.5 183,435 184.5,439 181,440"/>
<polygon points="187.5,437.8 192,438.5 192.5,442.5 188.5,442.5"/>
<polygon points="198.2,445.2 202.5,446 203.5,451 199.5,450.5"/>
<polygon points="203,450.5 210,452 211,454.5 204,454.5"/>
</g>
<g fill="none" stroke="#000" stroke-linejoin="round">
<polyline stroke-width="2" points="465.6,36 465.6,38 462.2,46 460.9,52.8 460.2,58.8 457.6,63.5 453.5,68.8 449.5,74.2 445.5,80.9 440.2,86.2 436.1,90.2 434.2,98 432.2,104.7 426.9,110 422.8,114.8 418.8,118.8 413.5,122.8 410.1,128.2 405.4,132.2 400,136.2 394.7,140.2 391.4,143.5 385.4,146.2 383.7,146.1 377,147.4 370.3,148.1 365,150.8 363,155.5 356.9,157.5 352.9,158.8 347.6,158.2 343.5,160.8 336.9,161.5 330.2,163.5 323.5,164.8 316.8,166.2 312.1,168.2 308.1,171.5 306.7,175.6 308.1,179.6 311.4,182.2 310.1,184.9 304.7,185.6 302.7,182.9"/>
<polyline stroke-width="1.6" points="302.7,182.9 301,176.8 300.3,168.7 298.3,163.4 292.9,164.7 288.9,163.4 284.9,161.4 280.9,164.1 275.5,166.1 270.2,170.1 266.1,174.1 259.5,174.8 258.1,178.1 256.8,183.5 251.4,188.2 247.4,194.2 244.7,202.9 248.1,208.9 252.1,214.3"/>
<polyline stroke-width="0.9" points="252.1,214.3 256.1,217 257.4,221 262.1,227 267.5,232.4 272.8,237.8 279.5,243.1 284.9,249.8 288.9,255.2 291.6,261.9 292.9,268.5 294.3,275.2 295.6,283.3 297.6,288 294.3,294.7 293.6,302.8 291,309.5 285.6,312.8 278.9,316.8 273.5,320.2 265.5,322.8"/>
<polyline stroke-width="1.6" points="265.5,322.8 260.2,326.9 257.5,332.2 252.1,336.2 245.4,340.2 240.1,344.3 236.1,346.9 234.1,344.3 234.1,337.6 236.7,330.9 238.4,330 233,325.2 227.6,322.6 222.3,321.9 219.6,318.5 217,314.5 212.9,317.2 208.9,309.2 204.9,302.5 200.9,297.1"/>
<polyline stroke-width="0.8" points="200.9,297.1 195.5,292.4 190.2,291.8 182.1,292.4 180.8,287.8 182.1,281.7 176.8,280.4 170.1,281.1 168.1,284.4 169.4,291.8 168.1,299.8 164.1,306.5 161.4,314.5 159.4,321.2 157.4,327.9 158,334"/>
<polyline stroke-width="1" points="214.3,446.5 210.2,441.9 204.9,439.2 199.5,435.2 192.8,431.1 187.5,425.8 185.5,420.4 180.8,413.7 176.8,408.4 177.4,401.7 176.8,399.6 174.8,394.3 173.4,388.9 171.4,382.2 170.1,375.5 166.1,372.8 163.4,367.5 159.4,363.5 155.4,360.8 153,360"/>
<polyline stroke-width="1.2" points="195.5,443.9 199.5,448.5 203.5,453.9 208.9,456.6 211.6,457.9 206.2,461.3 216.9,460.6 221,464 222,468"/>
<polyline stroke-width="1.4" points="400.5,369.7 402.5,372.4 407.2,377.1 409.2,381.1 407.8,384.5 413.2,385.1 418.5,387.8 423.9,390.5 430.6,392.5 429.9,395.2 423.9,397.2 417.2,397.8 415.2,399.8 418.5,402.5 421.9,403.9 415.9,406.5 410.5,407.9 407.8,411.2 409.2,414.6 405.2,416.6 407.8,420.6 409.2,426 410.5,430 411,432 413,436 420,446 425,452 418,454 411,455 408,462 406,465 406,468"/>
<polyline stroke-width="0.8" points="292.5,461 290,456 291,449 294,441.9 298,439.2 300,441.2 304.7,441.9 310.1,442.5 316.8,445.2 320.1,441.9 320.8,435.2 322.8,428.5 327.5,426.5 335.5,423.8 343.5,421.8 348.9,417.8 352.9,412.4 358.3,405.7 363,402.4 367.6,399 370.3,396.3 373,395 378.4,393.8 381.1,388.5 386.4,383.8 391.8,377.8 396.5,372.4 400.5,369.7"/>
</g>
<path fill="#000" shape-rendering="crispEdges" d="M465 33.8h2.3v1.9h-2.3zM464.6 33.8h2.1v1.3h-2.1zM464.6 36.5h1.4v1.6h-1.4zM461.1 44.6h3.2v1.3h-3.2zM461.2 42.7h1.4v1.8h-1.4zM460.4 43.9h2.5v1.9h-2.5zM461.4 39.5h1.6v2.6h-1.6zM462.4 40.8h2.1v1.8h-2.1zM462.4 42.3h2.3v2.3h-2.3zM461.9 43.5h3.2v1.4h-3.2zM464 39.5h2.2v1.3h-2.2zM462.8 42.7h3v1.8h-3zM462.5 42.4h2.1v2.9h-2.1zM461.6 44.8h1.3v2.6h-1.3zM461.1 50.7h2v2.5h-2zM461.3 44.3h1.4v1.3h-1.4zM458.9 48.8h2v2.9h-2zM460.4 45.3h3v2.8h-3zM459.3 50.1h1.9v3h-1.9zM458.9 50.5h1.7v1.7h-1.7zM461.3 47.4h1.2v2h-1.2zM460.7 49h2.6v2.2h-2.6zM460.5 47.2h3v2.8h-3zM459.3 56h1.4v2.5h-1.4zM458.5 51.2h1.5v1.9h-1.5zM458.4 50.9h1.4v1.9h-1.4zM461.5 52.5h1.5v1.7h-1.5zM458.7 51.9h2.9v3.2h-2.9zM459.8 53.2h1.4v1.9h-1.4zM461.3 51.6h1.2v3.1h-1.2zM458.8 56.2h2.3v3.2h-2.3zM457.7 61.2h1.9v1.5h-1.9zM457.4 62.6h1.9v1.6h-1.9zM458.4 62.5h2.8v2.8h-2.8zM456.3 61.7h1.9v1.3h-1.9zM458 56.5h2.6v3.1h-2.6zM459.1 61.7h3.1v1.9h-3.1zM454.4 62.1h2.4v3h-2.4zM452.7 67.8h2.8v1.4h-2.8zM455 66.9h2.7v2.2h-2.7zM456.5 62.3h2.8v3.1h-2.8zM454.3 66.4h2.6v1.5h-2.6zM454.4 64.9h2.8v1.5h-2.8zM455 67.3h1.9v2.3h-1.9zM454.1 64.8h2.5v2.3h-2.5zM452.1 69h2.9v1.6h-2.9zM450.5 69.7h1.7v2h-1.7zM453.4 67.8h2.1v2.4h-2.1zM448.5 74.1h2.2v2.3h-2.2zM448.9 70.8h1.6v1.2h-1.6zM447.8 71.9h2.7v2.3h-2.7zM450.9 70.1h2.8v1.4h-2.8zM449 69.9h2.7v2.2h-2.7zM451.1 72.1h2.1v2.4h-2.1zM450.5 71.1h2.1v2.3h-2.1zM444.9 81h3.1v1.7h-3.1zM448.1 78.5h1.5v1.4h-1.5zM445.5 75h1.3v2.5h-1.3zM446.5 76.9h2.6v2.5h-2.6zM449.5 75.3h1.6v3.1h-1.6zM446.4 77.9h2.9v1.5h-2.9zM447 75.6h1.6v1.8h-1.6zM443.8 78.6h2.1v1.2h-2.1zM448 74.9h1.3v3.2h-1.3zM447.2 77.4h1.7v1.3h-1.7zM441.2 80.6h3v2.8h-3zM441.7 82.5h2.3v2.6h-2.3zM442.4 81.4h2.1v1.3h-2.1zM440.3 85.5h1.4v2.9h-1.4zM445.5 79.9h1.9v2.3h-1.9zM438.6 83.6h2.3v1.7h-2.3zM442.9 78.9h1.6v1.8h-1.6zM443.7 81h2.2v1.6h-2.2zM441.3 80.5h1.2v2.7h-1.2zM438.6 87.1h1.4v2.8h-1.4zM437.4 88h2v2.2h-2zM437.7 87.1h2.9v2.6h-2.9zM436.6 87.5h1.3v1.5h-1.3zM440 84.9h1.5v1.4h-1.5zM437.2 89.3h1.8v1.7h-1.8zM437.8 85.3h2.1v1.7h-2.1zM432.9 96h3.1v1.8h-3.1zM432.6 91.5h2.1v2.2h-2.1zM434.9 89.3h1.7v1.4h-1.7zM432.8 90.8h1.8v1.7h-1.8zM433.8 94.4h2.5v2.6h-2.5zM432.4 95.7h3.2v1.5h-3.2zM433.8 92.7h2.9v3h-2.9zM435 95.1h1.5v2.2h-1.5zM434.9 94h2.9v2.4h-2.9zM434.2 97.2h1.7v1.3h-1.7zM430.9 100.4h2.3v2.5h-2.3zM433 100.8h1.2v2.8h-1.2zM431.5 102.5h2.5v1.3h-2.5zM431 100.1h1.7v2.7h-1.7zM433.6 100.1h2.2v2h-2.2zM432.7 100.9h2.4v2.5h-2.4zM431.4 96.7h2.7v1.8h-2.7zM430.4 99h1.7v2.5h-1.7zM432.3 100.8h2.2v2.1h-2.2zM431.4 102.7h3.2v3.1h-3.2zM430.4 104.9h3.1v2.1h-3.1zM428.9 106.5h1.6v2.4h-1.6zM430.8 105.7h1.5v2.8h-1.5zM430.1 106.6h1.7v3h-1.7zM426.8 104.4h2.2v2.1h-2.2zM428.4 104.3h1.8v2.9h-1.8zM432.4 104.4h1.4v3.1h-1.4zM428.9 106.7h1.9v2h-1.9zM426.2 108.6h2.1v1.8h-2.1zM426.2 108.9h3.1v1.7h-3.1zM424.9 108.6h1.9v3.1h-1.9zM422.9 113.2h3v3.1h-3zM424.1 110h2.7v2.1h-2.7zM423.7 111.3h1.3v3.1h-1.3zM425.4 108.7h1.8v2.7h-1.8zM421.1 114.1h1.8v2.3h-1.8zM423.3 109.2h1.6v3h-1.6zM422.3 112.8h3.2v2.1h-3.2zM419.9 114.2h1.4v1.7h-1.4zM420.7 116.2h2.7v2h-2.7zM420.3 115.4h1.9v1.3h-1.9zM422.3 113.3h2.2v2.5h-2.2zM417.5 116.4h1.7v2h-1.7zM421.2 117.2h2.9v1.2h-2.9zM422.4 115.2h2.1v2.4h-2.1zM421 114.9h2.9v2.9h-2.9zM415 117.3h2.2v2.6h-2.2zM413.2 122h2.7v2.1h-2.7zM413.4 120.5h1.7v3h-1.7zM413.8 118.8h1.7v2.5h-1.7zM412.6 118.9h2.2v2.4h-2.2zM415.1 119.8h1.2v1.8h-1.2zM416.5 120.1h3v2.2h-3zM415.3 120.5h2.6v1.8h-2.6zM411.6 123.9h1.7v2.5h-1.7zM408.4 125.1h1.9v2h-1.9zM408.8 126.5h2.7v2.2h-2.7zM413.1 122.4h2.8v1.7h-2.8zM412.1 122.2h3.1v2.2h-3.1zM410.6 122h2.5v3.1h-2.5zM411 121.8h3.1v1.5h-3.1zM410.2 121.2h3v3h-3zM411.9 127.5h1.9v1.6h-1.9zM403.9 130.8h2v1.9h-2zM406.5 126.8h1.8v1.9h-1.8zM403.4 132.7h1.6v1.9h-1.6zM406.7 130.2h1.3v2.1h-1.3zM408.9 127.1h1.9v3h-1.9zM408.3 128.8h2.7v1.3h-2.7zM407.5 128.5h1.7v2.7h-1.7zM403.7 129.8h3.1v2.4h-3.1zM400.3 132.9h1.2v2.7h-1.2zM400.3 136.6h1.2v1.7h-1.2zM403.5 134.9h2v1.7h-2zM402.3 134.1h1.6v2.8h-1.6zM401.4 135.2h2.4v1.9h-2.4zM402.5 133.7h1.4v1.6h-1.4zM399.8 132.5h1.3v2.3h-1.3zM403.8 134h3.2v1.7h-3.2zM402.2 131.5h2.6v2.1h-2.6zM396.9 137h2.7v2.9h-2.7zM394.2 138.9h1.8v2.3h-1.8zM398 135.8h1.7v1.7h-1.7zM399.6 136.1h1.9v2h-1.9zM393.4 137.9h2.8v2.5h-2.8zM391.9 138.6h2.8v2.9h-2.8zM392.8 138.3h1.4v1.6h-1.4zM394.2 140.2h1.9v2.9h-1.9zM395.2 138.3h3.1v1.4h-3.1zM390.9 141h1.5v1.6h-1.5zM393.4 141h1.6v1.2h-1.6zM393.3 139.3h1.8v1.6h-1.8zM391.5 140.3h1.4v2h-1.4zM392.6 139.2h1.5v2.6h-1.5zM391 139.9h3.1v1.8h-3.1zM387.4 144.8h3.2v1.9h-3.2zM390.4 141.5h1.2v3h-1.2zM388.5 143.2h3v2.1h-3zM387.4 142.6h2.5v3h-2.5zM390.2 142.5h2.2v1.5h-2.2zM389.1 144.7h1.4v2.2h-1.4zM387.5 143h1.5v3.1h-1.5zM384 143.5h3.1v2h-3.1zM384.1 144.1h2.8v1.6h-2.8zM385.2 146.5h1.6v1.6h-1.6zM379 144.1h1.7v2.6h-1.7zM374.7 146.9h2.7v1.3h-2.7zM375.6 146.3h2.3v2.5h-2.3zM380.3 145.5h2.1v2.5h-2.1zM379.3 143.9h2.4v2.2h-2.4zM382 146.6h2.1v1.6h-2.1zM378.1 144.7h2.1v1.4h-2.1zM379.5 144.3h2.5v1.4h-2.5zM379.1 146h1.3v2.2h-1.3zM367.7 148h3.2v2.7h-3.2zM369.3 148.1h2.2v3.1h-2.2zM368.1 148.4h3.1v1.3h-3.1zM374.1 145.5h3v1.7h-3zM368.7 147.2h3v1.6h-3zM374.6 146.2h1.3v1.6h-1.3zM376 147.4h3v1.5h-3zM369.1 147.1h2.5v1.9h-2.5zM369.9 147.6h3v1.4h-3zM365.7 149.3h1.7v3.2h-1.7zM365.7 149.8h2.1v1.6h-2.1zM363.9 150h1.7v2.5h-1.7zM364.5 150.7h1.8v1.2h-1.8zM367.8 147.5h2.1v2.2h-2.1zM363 148.9h2.5v1.2h-2.5zM368.8 145.9h1.9v1.6h-1.9zM361.7 153.3h2.1v1.5h-2.1zM361.5 152.7h1.4v2.5h-1.4zM363.4 153.9h1.7v1.2h-1.7zM362.7 152.2h2.5v2.1h-2.5zM362.5 153.7h3v1.3h-3zM362.9 151h1.3v2.8h-1.3zM364.4 151.6h1.5v1.6h-1.5zM359.6 156.7h1.5v1.8h-1.5zM358.2 156.2h2.8v2.6h-2.8zM363.1 155.1h2.1v2.7h-2.1zM358.4 154.3h1.7v1.3h-1.7zM360.4 155.6h2.9v2.6h-2.9zM360.2 154.7h2.8v2.2h-2.8zM361.1 156.2h1.6v3h-1.6zM360.7 153h2.7v3.1h-2.7zM356.1 155.8h1.7v3h-1.7zM353.5 157.8h3.2v2.1h-3.2zM353.2 158.6h2.1v2.6h-2.1zM352.7 156.5h2.4v1.4h-2.4zM351.3 155.5h1.4v3.1h-1.4zM349.2 155.8h2.6v2.5h-2.6zM348.9 155.9h2.4v1.9h-2.4zM349.1 158.3h1.3v2.9h-1.3zM348.8 156.1h1.6v1.4h-1.6zM352.7 158.5h2.5v2.9h-2.5zM348.1 155.6h1.4v2.7h-1.4zM350.5 157.5h1.2v1.7h-1.2zM342.6 158.3h3.1v2.2h-3.1zM343.5 157.7h2v2.1h-2zM342.7 160.1h2.3v1.6h-2.3zM341.8 161h1.5v1.2h-1.5zM347.1 159.4h1.2v2.2h-1.2zM345.6 157.4h2.2v1.9h-2.2zM342.4 161.1h1.8v1.6h-1.8zM338.1 160.3h1.4v2.8h-1.4zM339 160.7h1.9v2h-1.9zM340.8 159h3v1.3h-3zM340.2 161.4h2.2v2h-2.2zM335.6 159.9h2.3v2.7h-2.3zM338.1 160h1.9v1.5h-1.9zM337.7 161.2h1.5v2.1h-1.5zM337.6 158.5h2.1v3h-2.1zM333.5 161.9h2.9v1.5h-2.9zM333.8 160.4h2.2v1.5h-2.2zM332.3 163.2h2.7v1.4h-2.7zM327.4 161.6h3.2v2.8h-3.2zM330.5 161.2h2.5v1.4h-2.5zM334.1 158.8h2v2.8h-2zM331.2 162.6h2.1v1.5h-2.1zM331 162.5h3v2.1h-3zM333.1 161h1.7v2.6h-1.7zM324.5 164.5h2.6v2.5h-2.6zM325.8 163.5h1.4v2h-1.4zM324.9 164h1.7v2h-1.7zM326.3 162.2h2.6v3.1h-2.6zM328.5 163.6h2v2.2h-2zM321.2 163.5h1.5v2.8h-1.5zM322.8 162.1h2.3v2.3h-2.3zM324 163.8h2.9v2.2h-2.9zM315.1 165.4h2v2.7h-2zM323.8 163.6h1.3v1.7h-1.3zM318 163.8h2v2.6h-2zM319 162.8h2.7v3.1h-2.7zM318 165.8h2v1.6h-2zM322.4 165h2.5v2.1h-2.5zM317.8 166h1.9v2.5h-1.9zM318.3 164.7h1.8v2.3h-1.8zM322.4 163.6h2.9v1.7h-2.9zM314.7 164.3h1.2v2.6h-1.2zM313.5 165h2.2v2.1h-2.2zM312.8 165.5h3.1v2.9h-3.1zM316.3 167h2.8v1.5h-2.8zM312.8 164.6h1.2v3.1h-1.2zM312.1 165.2h1.5v1.7h-1.5zM311.1 165.1h3v2.8h-3zM307.7 170.7h2.5v3h-2.5zM308.9 168.6h2.6v2.3h-2.6zM307.8 171.2h2.3v1.7h-2.3zM309.2 167.9h1.3v2.1h-1.3zM310.4 167.2h2.3v2.9h-2.3zM312.1 166.8h2.3v2.5h-2.3zM306.7 170h3.1v1.4h-3.1zM304.2 173h2.6v3.1h-2.6zM308.3 171.4h2.2v3h-2.2zM307.9 170.6h1.9v2.9h-1.9zM306.1 172.3h2.7v1.6h-2.7zM305.8 172.6h2.9v1.8h-2.9zM306.2 174.8h2.2v3.1h-2.2zM307.8 176.7h1.8v1.8h-1.8zM307.4 177.6h1.3v2.6h-1.3zM307.2 176.9h1.8v1.2h-1.8zM307.2 175.4h2.5v2.8h-2.5zM309.2 180.5h2.6v2.4h-2.6zM308.3 180.6h2.1v2.7h-2.1zM305.9 176.7h2.7v3h-2.7zM308.4 181.3h2.8v2.3h-2.8zM307.3 179h1.8v2.1h-1.8zM307.9 184.2h1.3v1.4h-1.3zM309.6 185.3h2.1v1.2h-2.1zM309.6 183.7h3.2v2.2h-3.2zM308.6 183.1h1.6v1.5h-1.6zM309.2 182.9h3.1v1.4h-3.1zM302.7 182.9h2.6v1.7h-2.6zM303.6 182.5h2.7v2.6h-2.7zM305.1 182.7h2.5v2.6h-2.5zM307.6 183h3.1v2.6h-3.1zM306.9 184.8h2.8v1.4h-2.8zM307.8 182.8h2.9v2.2h-2.9zM308.3 183.9h2.1v2.6h-2.1zM301.4 183h2.5v2h-2.5zM303.6 185h2.8v2.3h-2.8zM301.2 185.1h2.6v2.9h-2.6zM303 185.2h2.9v2.4h-2.9zM302.8 184.9h2v2.6h-2zM301.4 176.3h1v1.3h-1zM301.2 180.6h2.1v1.1h-2.1zM300.6 169.4h1.3v2h-1.3zM300.2 170.7h1.4v1.1h-1.4zM296.9 164.4h2.1v1.3h-2.1zM298.9 164.7h1.2v1.3h-1.2zM292.9 162.5h2v1.9h-2zM290.7 164.1h1.6v1.6h-1.6zM289.2 162.3h1.2v1.8h-1.2zM285.8 161.8h1.2v1.1h-1.2zM281.5 162.1h1.9v1.2h-1.9zM278.6 162.5h1v2.2h-1zM275.5 165h1.3v1.9h-1.3zM270 170h2.2v1.3h-2.2zM274 165h1.1v1.1h-1.1zM265.5 174.1h2.1v1.1h-2.1zM266.4 170.9h2.2v1.3h-2.2zM262.2 174.2h1.5v1.5h-1.5zM265.5 174.9h1.3v1h-1.3zM259 176.4h2v1.1h-2zM257 182.5h1.1v1.2h-1.1zM251.3 186.5h1.7v1.9h-1.7zM255.2 182.6h1.1v1.6h-1.1zM249.1 189.1h1v1.9h-1zM248.9 189.3h1.3v2.1h-1.3zM243.6 200.7h1.1v2.1h-1.1zM244.7 200.4h1.4v2h-1.4zM245.4 205.1h1.1v1.9h-1.1zM245.1 206.4h1.3v1.5h-1.3zM249.4 209.2h1.2v1.6h-1.2zM249.3 209.2h2.2v1.1h-2.2zM260.6 324.9h1.3v1.3h-1.3zM259.4 329.5h1.9v1.1h-1.9zM259.5 326.7h1.7v1.3h-1.7zM257.6 331.4h1.1v1h-1.1zM246.9 337.5h1.9v1.2h-1.9zM246.5 336.9h1.8v1.7h-1.8zM243.2 340.1h1.5v1.3h-1.5zM243.7 340.8h1.8v1.6h-1.8zM239.5 343.7h1.7v1.1h-1.7zM235.5 346.4h1.5v1h-1.5zM234.4 339.6h1.2v1.8h-1.2zM233.7 336h1v1.5h-1zM234.4 332.8h1.7v1.8h-1.7zM233.7 326.3h1.1v1.9h-1.1zM232.5 324.7h1.5v1.5h-1.5zM226.6 321.3h1.1v1.3h-1.1zM226.6 321.5h1.7v1.2h-1.7zM223.8 321.7h1.7v1.1h-1.7zM223 320.2h1.1v1.5h-1.1zM220.1 319.9h1.1v1.6h-1.1zM218.8 317.6h1.2v1.8h-1.2zM214.5 315.7h1.5v1.4h-1.5zM208.7 309.6h1.3v1.4h-1.3zM208.8 309.4h1.8v1.8h-1.8zM207.3 306.1h1.2v1.4h-1.2zM205.5 304.3h1.1v1.4h-1.1zM203.1 302.5h1.8v1.9h-1.8zM202.2 299.5h1.9v1h-1.9zM400.7 368.7h1.7v2.1h-1.7zM402.7 372.7h2.1v1.3h-2.1zM403.5 371.6h1.7v2.1h-1.7zM407 377.7h1.2v1.1h-1.2zM407.9 380.9h1.3v1.1h-1.3zM411.8 384.6h1.8v1.2h-1.8zM410.7 384.3h1.7v1.6h-1.7zM412.9 384.9h1.5v1.7h-1.5zM412.2 385.4h1.3v1.7h-1.3zM420.5 387.4h1.9v1.2h-1.9zM419.4 387.1h1.1v1.5h-1.1zM426.6 390.2h2.2v1.9h-2.2zM423.5 389.5h1.8v1.7h-1.8zM426.6 396.2h1.9v1.6h-1.9zM425.2 397h1.2v2h-1.2zM417.9 396.8h2.2v1.7h-2.2zM421.1 397.8h1.7v1.5h-1.7zM420.1 397.4h1.4v1.5h-1.4zM414.9 398.6h2v1.6h-2zM414.4 398.4h1.7v1.7h-1.7zM420.1 403.7h2v2.2h-2zM418.5 403.5h1v1.1h-1zM419.4 404.9h1.6v2.2h-1.6zM418.1 405.1h1.5v1.4h-1.5zM414.5 407h1.6v1.1h-1.6zM412.7 406.2h1.7v2.1h-1.7zM407.9 409.2h2.2v1.4h-2.2zM406.9 412.4h2.2v2h-2.2zM408.9 414.3h2v2.2h-2zM404.5 416.9h1.6v1.6h-1.6zM407.7 420.8h1.4v2.2h-1.4zM406.3 423.1h1.9v1.4h-1.9zM407.8 426.1h1.7v1.8h-1.7zM410 429.5h1.8v1.6h-1.8zM411.3 432.2h1.2v1.9h-1.2zM411.7 436.2h2v1.7h-2zM416.4 441.9h1.9v1.4h-1.9zM416.9 441.6h1.3v1.1h-1.3zM418.8 443.9h1.5v1.5h-1.5zM423.9 451.8h1.5v1.7h-1.5zM418.9 448.1h2v1.4h-2zM424.6 449.7h1.7v2.2h-1.7zM416.6 452.9h1.9v1.3h-1.9zM423 451.9h2v1.3h-2zM413.9 454.9h1.3v1.7h-1.3zM416.6 453.2h1.5v1.1h-1.5zM407.5 459.3h1.2v1.3h-1.2zM408.2 456.6h1.4v1.2h-1.4zM406.7 458.7h2v1.2h-2zM406.5 462.6h1.4v1.9h-1.4zM404.3 468.6h1.6v1.3h-1.6z"/>
<g fill="#c0c0c0" stroke="#000" stroke-width="0.35" stroke-linejoin="round">
<polygon points="304.3,188.8 310.3,187.5 315.7,188.2 317.7,192.2 315,196.2 313,201.5 310.3,206.2 305,209.6 299.6,212.2 294.3,212.2 288.9,209.6 286.2,204.9 285.6,199.5 288.9,195.5 293.6,192.8 298.3,190.2"/>
<polygon points="461,110.7 465,114.1 465.7,120.1 463.7,127.5 460.3,135.5 458.3,142.2 455,148.9 453,154.3 451,160.3 449.6,158.3 447.6,152.9 444.3,149.6 442.7,143.5 442.9,135.5 445.6,128.8 449.6,122.1 453.6,115.4 457.6,111.4"/>
<polygon points="448.8,209.4 454.8,208.1 461.5,211.4 467.5,213.4 469.5,208.7 471.5,212.1 470.2,216.8 468.9,222.1 471.5,226.1 474.2,230.2 472.9,235.5 469.5,240.2 465.5,244.9 461.5,248.9 458.8,254.3 460.2,259.6 460.9,261.4 461.4,266.8 463,271.1 466.8,273.7 471,276.4 474.3,280.2 475.9,283.4 474.3,283.4 472.1,280.2 468.9,277.5 465.2,274.8 461.9,273.2 461.4,274.3 458.7,276.9 455.5,275.9 450.7,273.2 448,267.8 444.8,262.5 441,260.4 440.1,256.9 439.4,248.9 437.4,244.2 440.1,242.2 444.8,243.5 445.4,235.5 446.8,228.8 445.4,222.1 447.4,215.4"/>
<polygon points="466.3,369.5 468.8,364.3 470.1,360.2 472.1,356.9 476.1,356.2 480.2,353.5 481.5,350.2 485.5,348.2 489.5,348.9 491.5,353.5 493.5,353.5 498.9,350.9 504.3,349.5 505.6,345.5 509.6,342.8 513,340.8 514.3,336.8 515,333.5 519,334.8 521.7,340.2 524.3,344.2 523.7,349.5 525.7,353.5 527.7,358.9 529,365 528.5,368 526.3,369.7 524.3,373.1 521.6,369.7 518.3,366.4 514.3,369.7 514.3,375.1 516.9,380.4 515.6,385.8 512.2,388.5 508.9,383.8 503.5,383.8 497.5,379.8 495.5,375.1 497.5,369.7 496.2,364.4 490.2,360.4 485.5,364.4 482.1,360.4 478.8,364.4 477.4,360.4 474.8,361.7 471.4,367 468.1,369.7"/>
<polygon points="398.4,356.3 402.4,351.6 405.1,346.9 410.4,341.5 415.8,336.2 420.5,330.8 425.2,325.5 430.5,320.1 433.9,318.1 435.2,321.5 431.9,324.8 426.5,329.5 422.5,334.8 417.8,339.5 413.1,344.2 408.4,348.2 405.1,350.9 402.4,355.6 399.7,358.3"/>
<polygon points="438,457 440,455.6 445.6,453.8 451.1,449.1 457.6,447.3 461.3,451 469.7,452.8 477.1,454.7 484.5,453.8 493.8,453.8 499.3,451 504,446.4 508.6,441.7 511.4,444.5 507.7,450.1 504,455.6 495.6,460.3 486.4,461.2 477.1,459.3 467.8,459.3 458.5,459.3 451.1,459.3 443.7,461.2 439,462"/>
<polygon points="551.3,432.4 555,430.6 557.7,433.4 555,437.1 552.2,436.2"/>
<polygon points="542.9,439.9 548.5,438.9 549.4,445.4 545.7,451 542,451.9 541.1,446.4"/>
<polygon points="555.9,444.5 558.7,445.4 557.7,451.9 555.9,457.5 551.3,455.6 547.5,459.3 545.7,464.9 542.9,464.9 543.8,457.5 547.5,452.8 551.3,448.2"/>
<polygon points="278.6,409 280.6,408.2 282,410 281.6,413.2 279.6,414 278.2,412"/>
<polygon points="215.5,313 218.5,312 219.5,316 216.5,318.5"/>
<polygon points="543,98.5 546,94 550,89.5 553,86.5 554.2,87.6 551,91.5 547,96 544.2,99.5"/>
<polygon points="530.5,405 532.8,404 533.6,409 532.5,413.5 530.5,412"/>
</g>
<g fill="#c0c0c0" stroke="#000" stroke-width="1.1" stroke-linejoin="round">
<polygon points="471.2,270.6 476.7,269.4 480.3,271.7 481.6,276.1 483.4,279.7 481,279.7 478,276.1 474.3,273.6"/>
<polygon points="482.2,277.5 484.7,275.1 488.9,274.4 487.7,278.2 490.2,283 492.6,287.9 490.7,289.7 487.1,287.3 484.7,283 482.9,280"/>
<polygon points="496.6,272.8 498.6,272.2 499.1,276.4 497.3,280.8 495.5,279.5 496.1,275.9"/>
<polygon points="465,280.5 468,281 467.4,284.1 465,283.6"/>
<polygon points="446.5,280.2 451.4,279.7 456.3,280.9 460.6,284.6 461.8,289.5 460,294.3 456.9,298 454.5,298 452.6,293.1 450.2,287 447.8,283.3"/>
<polygon points="493.3,289.1 496.4,289.6 496.4,292.7 493.6,292.4"/>
<polygon points="483.3,295.3 487,294 491.9,297.1 495,300.8 493.1,302.6 489.5,299.5 485.7,298.4 483.3,301.3 482.1,299.5"/>
<polygon points="498.2,294.9 503.7,293 509.8,293 513.5,296.7 514.7,302.2 515.2,307.4 516,313.4 511.3,312 508.6,307.2 504.9,303.4 502.5,299.8 498.9,297.3"/>
<polygon points="465.9,301.4 472,304.4 479.6,307.4 484.2,310.5 481.2,315 475.1,319.6 469.7,322.7 466.6,321.2 466.6,313.6 468.2,307.4"/>
<polygon points="483,314.2 487.7,314.9 486.9,321.9 483.8,329.5 483,337 484.6,340.9 480.8,342.4 477,338.6 473.1,334.1 473.9,330.2 478.5,327.9 480.1,320.3"/>
<polygon points="493.3,316.1 494.8,319.2 491.7,326.8 488,334.4 485.7,336.7 486.5,331.3 489.4,323.7"/>
<polygon points="493.2,329.3 497.9,326.9 500.8,330 497.9,333.9 493.2,333.9 491.7,331.6"/>
<polygon points="499.5,309.7 505.7,308.9 507.1,314.3 506.5,320.4 510.2,325 508.7,327.3 504.9,323.5 503.4,317.3 500.3,314.3"/>
</g>
<polyline fill="none" stroke="#000" stroke-width="1.1" points="460.2,259.6 460.9,261.4 461.4,266.8 463,271.1 466.8,273.7 471,276.4 474.3,280.2 475.9,283.4 474.3,283.4 472.1,280.2 468.9,277.5 465.2,274.8 461.9,273.2 461.4,274.3 458.7,276.9 455.5,275.9 450.7,273.2 448,267.8 444.8,262.5 441,260.4"/>
<polyline fill="none" stroke="#000" stroke-width="0.9" points="466.3,369.5 468.8,364.3 470.1,360.2 472.1,356.9 476.1,356.2 480.2,353.5 481.5,350.2 485.5,348.2 489.5,348.9 491.5,353.5 493.5,353.5 498.9,350.9 504.3,349.5 505.6,345.5 509.6,342.8 513,340.8 514.3,336.8 515,333.5"/>
<path fill="#000" shape-rendering="crispEdges" d="M466.7 299.7h2.1v1.7h-2.1zM473.4 303.1h2v1.1h-2zM480.2 309.5h1.5v1.8h-1.5zM482.1 308.8h1.2v2h-1.2zM474.5 317.6h1.4v1.6h-1.4zM473.2 317.5h1.2v1.9h-1.2zM469.5 322.5h2.1v2h-2.1zM463.3 319.3h1.8v1.4h-1.8zM467.6 307.5h2v1.4h-2zM468 309.8h1.9v1.9h-1.9zM465.9 305.3h1.2v1.4h-1.2zM481.6 313.9h1.2v2h-1.2zM485 318.9h1.8v1.4h-1.8zM485.2 326.2h1.1v2h-1.1zM481.5 327.3h1.9v1.3h-1.9zM476.6 340.3h2v1.3h-2zM472 335.5h1.8v1.9h-1.8zM478.8 326.1h1.6v2.1h-1.6zM486.9 317.5h2v1.3h-2zM488.8 318h1.7v1.3h-1.7zM492.7 315.1h1.4v1.2h-1.4zM490.6 322.2h1.6v1.5h-1.6zM488.8 330.6h1.2v1.7h-1.2zM485.8 336.7h1.2v1.8h-1.2zM486.8 335.2h1.1v1.3h-1.1zM484.3 327.7h1.2v1.8h-1.2zM488.9 321.4h1.4v1.2h-1.4zM486.7 324.6h1.9v1.1h-1.9zM505.1 306.2h1.6v1.5h-1.6zM503.1 313.1h1.8v1.8h-1.8zM505.6 318.8h1v1.9h-1zM507.6 327.7h2.1v1.2h-2.1zM497.3 308.9h1.4v1.4h-1.4zM497.8 304.7h1.3v1h-1.3zM502.2 293.7h2.1v2.1h-2.1zM504.2 291.4h1.7v1.1h-1.7zM515.9 296.3h1v1.5h-1zM511.6 306.7h2v1.9h-2zM506.2 303.3h1.5v1.4h-1.5zM501 303.1h2.1v1.2h-2.1zM504.8 303.5h1.4v1.2h-1.4zM510.5 305.1h2.2v2.1h-2.2zM486.6 296.7h1.7v2.1h-1.7zM483.4 288.7h1.2v1.8h-1.2zM479.3 289.6h1.4v1.7h-1.4zM481.6 290.1h1.5v1.1h-1.5zM483.6 272.8h2v1.3h-2zM484.9 274h1.7v1.3h-1.7zM488.7 278h1.5v1.1h-1.5zM491.6 287.7h1.9v1.1h-1.9zM483.5 281.2h2.2v1.7h-2.2z"/>
<g fill="#c0c0c0" stroke="#000" stroke-width="1" stroke-linejoin="round">
<polygon points="179.5,434.5 183,435 184.5,439 181,440"/>
<polygon points="187.5,437.8 192,438.5 192.5,442.5 188.5,442.5"/>
<polygon points="198.2,445.2 202.5,446 203.5,451 199.5,450.5"/>
<polygon points="203,450.5 210,452 211,454.5 204,454.5"/>
</g>
<polygon fill="#0060ff" stroke="#000" stroke-width="0.8" points="447.5,262.5 450,261.5 452.8,263 452.5,266.5 449.5,267 447.5,265"/>
<g fill="#000" stroke="#000" stroke-width="0.6" stroke-linejoin="round">
<polygon points="350.2,143.4 353.6,144.1 355.6,150.1 364.3,150.1 365,153.5 362.3,156.8 356.9,156.8 355.6,153.5 352.2,152.1"/>
<polygon points="433,135.5 435.5,135 436,139 435,141.8 433,141"/>
<polygon points="431,316 433,312 436,310 438.5,311 438,315 436,318 433,320.5"/>
<polygon points="438.5,299 441,297.5 444.5,298 444,301.5 441,303.5 438.8,302"/>
<polygon points="564,65 571,61 572.4,63 566,68"/>
<polygon points="559,72 562,72 562,74.5 559,74.5"/>
<polygon points="555,78 559,78 559,79.5 555,79.5"/>
<polygon points="531,94 534,94 534,96 531,96"/>
<polygon points="537,91 540,91 540,92.5 537,92.5"/>
<polygon points="539,96 543,96.5 543,99 539,98.5"/>
<polygon points="489,124 493,122 497,122.5 500,119.5 501,121 497.5,124.5 493,125 489.5,125.5"/>
<polygon points="510,117 515,117.5 515,119.5 511,119"/>
<polygon points="480,122 482,122 482,124 480,124"/>
<polygon points="488,102 490,102 490,103.5 488,103.5"/>
<polygon points="461,47 466,47.5 466,50 462,50"/>
<polygon points="459,55 462,55 462,58 459,58"/>
<polygon points="457.5,197.5 460.5,197.5 460.5,200 457.5,200"/>
<polygon points="465,202 468,202 468,205 465,205"/>
<polygon points="457,203 460,203 460,205.5 457,205.5"/>
<polygon points="466,194.5 468,194.5 468,196.5 466,196.5"/>
<polygon points="465,176 467,176 467,183 465,183"/>
<polygon points="216,451 222,449.5 227,451 229,454 225,457 220,458.5 216,456"/>
<polygon points="212.1,455.5 213.7,455.5 213.7,457.2 212.1,457.2"/>
<polygon points="212.2,449.7 214.8,449.7 214.8,451.2 212.2,451.2"/>
<polygon points="229.2,454.5 231.3,454.5 231.3,455.6 229.2,455.6"/>
<polygon points="220.1,459.5 222.2,459.5 222.2,460.6 220.1,460.6"/>
<polygon points="227.2,456.7 228.7,456.7 228.7,457.7 227.2,457.7"/>
<polygon points="230,454 232.2,454 232.2,456 230,456"/>
<polygon points="216.6,460.2 218.3,460.2 218.3,462.3 216.6,462.3"/>
<polygon points="223.3,451 225.1,451 225.1,452.5 223.3,452.5"/>
<polygon points="215.2,456.1 217.1,456.1 217.1,458.2 215.2,458.2"/>
<polygon points="224.3,448 226.7,448 226.7,450.2 224.3,450.2"/>
<polygon points="225.5,449.2 227.9,449.2 227.9,450.9 225.5,450.9"/>
<polygon points="207.7,460.6 209.4,460.6 209.4,461.8 207.7,461.8"/>
<polygon points="213.3,460.1 215.7,460.1 215.7,461.1 213.3,461.1"/>
<polygon points="225.6,451.2 228,451.2 228,453.4 225.6,453.4"/>
<polygon points="223.2,447.9 224.2,447.9 224.2,450 223.2,450"/>
<polygon points="231.1,452.4 232.9,452.4 232.9,454 231.1,454"/>
<polygon points="223.7,456.4 225.6,456.4 225.6,458.2 223.7,458.2"/>
<polygon points="217.8,459 219.2,459 219.2,460.4 217.8,460.4"/>
<polygon points="217.5,456.1 218.6,456.1 218.6,457.9 217.5,457.9"/>
<polygon points="223.1,454.1 225.2,454.1 225.2,455.6 223.1,455.6"/>
<polygon points="212.3,454 214.3,454 214.3,455.4 212.3,455.4"/>
<polygon points="215.8,451.1 217.4,451.1 217.4,452.8 215.8,452.8"/>
<polygon points="213.6,452.6 215.8,452.6 215.8,453.7 213.6,453.7"/>
<polygon points="221.8,459.3 223.3,459.3 223.3,460.6 221.8,460.6"/>
<polygon points="228.7,449.8 230,449.8 230,451.3 228.7,451.3"/>
<polygon points="214.2,451.6 216.5,451.6 216.5,453.1 214.2,453.1"/>
<polygon points="214.6,457.6 217,457.6 217,459.1 214.6,459.1"/>
<polygon points="220.2,448.6 222.5,448.6 222.5,450.6 220.2,450.6"/>
<polygon points="246,424 250,421.5 254,420 257,421 256,425 251,425.5 247,427.5"/>
<polygon points="288,425 291,424 293,426 291,429 288,428"/>
<polygon points="432.4,399.6 433.6,399.6 433.6,401.4 432.4,401.4"/>
<polygon points="436.4,397.3 437.6,397.3 437.6,398.7 436.4,398.7"/>
<polygon points="440.4,394.3 441.6,394.3 441.6,395.7 440.4,395.7"/>
<polygon points="444.2,392.3 445.8,392.3 445.8,393.7 444.2,393.7"/>
<polygon points="447.5,389.3 449.5,389.3 449.5,390.7 447.5,390.7"/>
<polygon points="451.4,386.5 452.6,386.5 452.6,387.5 451.4,387.5"/>
<polygon points="454.2,383 455.8,383 455.8,384 454.2,384"/>
<polygon points="457.2,378.3 458.8,378.3 458.8,379.7 457.2,379.7"/>
<polygon points="460,374.5 462,374.5 462,375.5 460,375.5"/>
<polygon points="462.5,371.8 464.5,371.8 464.5,373.2 462.5,373.2"/>
<polygon points="442.2,396.1 443.8,396.1 443.8,397.9 442.2,397.9"/>
<polygon points="449.4,390.6 450.6,390.6 450.6,392.4 449.4,392.4"/>
<polygon points="455.4,385.3 456.6,385.3 456.6,386.7 455.4,386.7"/>
<polygon points="466,374.4 469.4,374.4 469.4,377.5 466,377.5"/>
<polygon points="513.5,414 516.5,414 517,421.5 514,421.5"/>
<polygon points="512.3,428 514.2,428 514.2,437 512.3,437"/>
<polygon points="382,39.2 394,38.6 394,40.2 382,40.8"/>
<polygon points="424,44 427,44 427,46.5 424,46.5"/>
<polygon points="262,336.5 264,336.5 264,338.5 262,338.5"/>
<polygon points="398.5,366 403,366 403,370 398.5,370"/>
<polygon points="405,404 410,404 411,409 406,411"/>
<polygon points="404,414 409,414 409,421 404,421"/>
<polygon points="506.5,326 511,327 511,334 507.5,334"/>
</g>
<g fill="none" stroke="#000" stroke-width="1" stroke-linejoin="round">
<polyline points="306,137 309,135.5 313,137.5 318,138 324,137"/>
<polyline points="269,169 264,162 259,154 261,148 256,145 248,143 241,139 236,142 231,147 225,149 219,148 214,149 208,150 203,149 199,152 191,153 189,158 192,163 191,170 185,167 180,164 176,167 171,166 167,160 161,157 158,156 162,145 158,143 154,143"/>
<polyline points="203,149 207,160 210,167 209,173 216,177 225,175 230,179 232,185 236,188 233,192 225,194 222,199 228,203 235,207 240,211 244,218 247.4,220.4 252.8,227 256.8,232.4 260.1,237.8 263.5,239.1 266.8,243.8 268.8,246.5 266.8,249.8 271.5,253.8 272.8,256.5 270.2,261.9 268.8,267.2 269.5,272.6 271.5,277.9 272.2,283.3 270.2,290 270.9,296.1 264.2,298.7 258.8,301.4 254.8,304.8 248.8,306.1 248.1,310.1 252.1,314.8 250.1,317.5 243.4,316.1 240.1,318.8 236.1,320.2 230.7,322.8"/>
<polyline points="185,167 177,173 171,180 172,183 165,183 156,188 154,188"/>
<polyline points="172,183 175,188 176,194 186,195 187,202 185,210 183,216 181,223 187,221 193,218 198,215 204,219 210,216 215,211 219,212 225,214 229,219 233,224 234,232.4 236.7,240.4 242,245.8 244.7,251.1 243.4,259.2 242.7,267.2 240,269.9 244.7,272.6 248.7,273.9"/>
<polyline points="240,269.9 235.4,267.9 230.3,267.7"/>
<polyline points="248.7,273.9 251.4,267.9 256.8,265.9 262.1,268.5 268.8,265.9"/>
<polyline points="248.7,260.5 248.1,273.9 250.1,277.9 249.4,284.6 250.1,286.7 249.5,293.4"/>
<polyline points="200.9,297.1 201.5,289.1 200.2,281.1 203.5,277.7 207.6,271.7 212.9,268.3 222.3,267 230.3,267.7 237,268.3 242.4,267 246.4,265"/>
<polyline points="154,270 155.4,273.7 158,279.7 156.7,286.4 160,293.1 162.7,299.8 163.4,305.2 159.4,310.5 156,315.9 154,320"/>
<polyline points="233.7,301.8 237,300.5 240,300.8 243.7,299.1"/>
<polyline points="237.4,308 238,314 238.7,320"/>
<polyline points="172.1,375.5 176.8,377.5 180.8,380.2 183.5,387.6 188.8,385.6 194.2,385.6 197.5,381.5"/>
<polyline points="298,440.5 302,445.9 308.7,451.9 314.1,453.2 319.5,451.2 327.5,451.2 332.8,449.9 335.5,445.2 343.5,444.5 348.9,447.2 354.3,447.9 359.6,445.2 366.3,445.2 369,439.2 370.3,433.8 374.3,431.1 375.7,424.5 379.7,420.4 381,411.1 383.7,407 393.1,406.5 407.8,406.5"/>
<polyline points="363,403 367.6,410.4 370.3,407 371,400.4"/>
<polyline points="373,399 374.3,405.7 377,405.7 376.3,399"/>
</g>
</g>
<g stroke="#000" stroke-width="1" shape-rendering="crispEdges"><line x1="168.7" y1="38" x2="168.7" y2="42.5"/><line x1="168.7" y1="465" x2="168.7" y2="460.5"/><line x1="195.8" y1="38" x2="195.8" y2="42.5"/><line x1="195.8" y1="465" x2="195.8" y2="460.5"/><line x1="222.9" y1="38" x2="222.9" y2="42.5"/><line x1="222.9" y1="465" x2="222.9" y2="460.5"/><line x1="250.1" y1="38" x2="250.1" y2="42.5"/><line x1="250.1" y1="465" x2="250.1" y2="460.5"/><line x1="277.2" y1="38" x2="277.2" y2="42.5"/><line x1="277.2" y1="465" x2="277.2" y2="460.5"/><line x1="304.3" y1="38" x2="304.3" y2="42.5"/><line x1="304.3" y1="465" x2="304.3" y2="460.5"/><line x1="331.4" y1="38" x2="331.4" y2="42.5"/><line x1="331.4" y1="465" x2="331.4" y2="460.5"/><line x1="358.5" y1="38" x2="358.5" y2="42.5"/><line x1="358.5" y1="465" x2="358.5" y2="460.5"/><line x1="385.7" y1="38" x2="385.7" y2="42.5"/><line x1="385.7" y1="465" x2="385.7" y2="460.5"/><line x1="412.8" y1="38" x2="412.8" y2="42.5"/><line x1="412.8" y1="465" x2="412.8" y2="460.5"/><line x1="439.9" y1="38" x2="439.9" y2="42.5"/><line x1="439.9" y1="465" x2="439.9" y2="460.5"/><line x1="467" y1="38" x2="467" y2="42.5"/><line x1="467" y1="465" x2="467" y2="460.5"/><line x1="494.1" y1="38" x2="494.1" y2="42.5"/><line x1="494.1" y1="465" x2="494.1" y2="460.5"/><line x1="521.3" y1="38" x2="521.3" y2="42.5"/><line x1="521.3" y1="465" x2="521.3" y2="460.5"/><line x1="548.4" y1="38" x2="548.4" y2="42.5"/><line x1="548.4" y1="465" x2="548.4" y2="460.5"/><line x1="155" y1="438.4" x2="159.5" y2="438.4"/><line x1="575" y1="438.4" x2="570.5" y2="438.4"/><line x1="155" y1="411.2" x2="159.5" y2="411.2"/><line x1="575" y1="411.2" x2="570.5" y2="411.2"/><line x1="155" y1="384" x2="159.5" y2="384"/><line x1="575" y1="384" x2="570.5" y2="384"/><line x1="155" y1="356.7" x2="159.5" y2="356.7"/><line x1="575" y1="356.7" x2="570.5" y2="356.7"/><line x1="155" y1="329.2" x2="159.5" y2="329.2"/><line x1="575" y1="329.2" x2="570.5" y2="329.2"/><line x1="155" y1="301.6" x2="159.5" y2="301.6"/><line x1="575" y1="301.6" x2="570.5" y2="301.6"/><line x1="155" y1="273.7" x2="159.5" y2="273.7"/><line x1="575" y1="273.7" x2="570.5" y2="273.7"/><line x1="155" y1="245.7" x2="159.5" y2="245.7"/><line x1="575" y1="245.7" x2="570.5" y2="245.7"/><line x1="155" y1="217.3" x2="159.5" y2="217.3"/><line x1="575" y1="217.3" x2="570.5" y2="217.3"/><line x1="155" y1="188.6" x2="159.5" y2="188.6"/><line x1="575" y1="188.6" x2="570.5" y2="188.6"/><line x1="155" y1="159.6" x2="159.5" y2="159.6"/><line x1="575" y1="159.6" x2="570.5" y2="159.6"/><line x1="155" y1="130.1" x2="159.5" y2="130.1"/><line x1="575" y1="130.1" x2="570.5" y2="130.1"/><line x1="155" y1="100.2" x2="159.5" y2="100.2"/><line x1="575" y1="100.2" x2="570.5" y2="100.2"/><line x1="155" y1="69.7" x2="159.5" y2="69.7"/><line x1="575" y1="69.7" x2="570.5" y2="69.7"/></g><rect x="154" y="37" width="422" height="429" fill="none" stroke="#000" stroke-width="2"/>
<rect x="245" y="524" width="2.2" height="13" fill="#000"/><rect x="247" y="524" width="4.4" height="13" fill="#0008ff"/><rect x="251" y="524" width="4.4" height="13" fill="#001aff"/><rect x="255" y="524" width="4.4" height="13" fill="#002aff"/><rect x="258.9" y="524" width="4.4" height="13" fill="#003bff"/><rect x="262.9" y="524" width="4.4" height="13" fill="#004cff"/><rect x="266.9" y="524" width="4.4" height="13" fill="#005eff"/><rect x="270.9" y="524" width="4.4" height="13" fill="#006eff"/><rect x="274.9" y="524" width="4.4" height="13" fill="#0080ff"/><rect x="278.9" y="524" width="4.4" height="13" fill="#0090ff"/><rect x="282.9" y="524" width="4.4" height="13" fill="#00a2ff"/><rect x="286.8" y="524" width="4.4" height="13" fill="#00b2ff"/><rect x="290.8" y="524" width="4.4" height="13" fill="#00c3ff"/><rect x="294.8" y="524" width="4.4" height="13" fill="#00d4ff"/><rect x="298.8" y="524" width="4.4" height="13" fill="#00e6ff"/><rect x="302.8" y="524" width="4.4" height="13" fill="#00f6ff"/><rect x="306.8" y="524" width="4.4" height="13" fill="#00fff6"/><rect x="310.7" y="524" width="4.4" height="13" fill="#00ffe6"/><rect x="314.7" y="524" width="4.4" height="13" fill="#00ffd4"/><rect x="318.7" y="524" width="4.4" height="13" fill="#00ffc4"/><rect x="322.7" y="524" width="4.4" height="13" fill="#00ffb2"/><rect x="326.7" y="524" width="4.4" height="13" fill="#00ffa2"/><rect x="330.6" y="524" width="4.4" height="13" fill="#00ff90"/><rect x="334.6" y="524" width="4.4" height="13" fill="#00ff80"/><rect x="338.6" y="524" width="4.4" height="13" fill="#00ff6e"/><rect x="342.6" y="524" width="4.4" height="13" fill="#00ff5d"/><rect x="346.6" y="524" width="4.4" height="13" fill="#00fd4d"/><rect x="350.6" y="524" width="4.4" height="13" fill="#00f83c"/><rect x="354.6" y="524" width="4.4" height="13" fill="#00f42a"/><rect x="358.5" y="524" width="4.4" height="13" fill="#00ef19"/><rect x="362.5" y="524" width="4.4" height="13" fill="#00ea08"/><rect x="366.5" y="524" width="4.4" height="13" fill="#08ea00"/><rect x="370.5" y="524" width="4.4" height="13" fill="#19ef00"/><rect x="374.5" y="524" width="4.4" height="13" fill="#2af400"/><rect x="378.4" y="524" width="4.4" height="13" fill="#3cf800"/><rect x="382.4" y="524" width="4.4" height="13" fill="#4dfd00"/><rect x="386.4" y="524" width="4.4" height="13" fill="#5dff00"/><rect x="390.4" y="524" width="4.4" height="13" fill="#6eff00"/><rect x="394.4" y="524" width="4.4" height="13" fill="#80ff00"/><rect x="398.4" y="524" width="4.4" height="13" fill="#91ff00"/><rect x="402.4" y="524" width="4.4" height="13" fill="#a2ff00"/><rect x="406.3" y="524" width="4.4" height="13" fill="#b2ff00"/><rect x="410.3" y="524" width="4.4" height="13" fill="#c4ff00"/><rect x="414.3" y="524" width="4.4" height="13" fill="#d4ff00"/><rect x="418.3" y="524" width="4.4" height="13" fill="#e5ff00"/><rect x="422.3" y="524" width="4.4" height="13" fill="#f7ff00"/><rect x="426.2" y="524" width="4.4" height="13" fill="#fff700"/><rect x="430.2" y="524" width="4.4" height="13" fill="#ffe500"/><rect x="434.2" y="524" width="4.4" height="13" fill="#ffd400"/><rect x="438.2" y="524" width="4.4" height="13" fill="#ffc400"/><rect x="442.2" y="524" width="4.4" height="13" fill="#ffb200"/><rect x="446.2" y="524" width="4.4" height="13" fill="#ffa200"/><rect x="450.1" y="524" width="4.4" height="13" fill="#ff9000"/><rect x="454.1" y="524" width="4.4" height="13" fill="#ff8000"/><rect x="458.1" y="524" width="4.4" height="13" fill="#ff6f00"/><rect x="462.1" y="524" width="4.4" height="13" fill="#ff5d00"/><rect x="466.1" y="524" width="4.4" height="13" fill="#ff4d00"/><rect x="470.1" y="524" width="4.4" height="13" fill="#ff3b00"/><rect x="474.1" y="524" width="4.4" height="13" fill="#ff2a00"/><rect x="478" y="524" width="4.4" height="13" fill="#ff1a00"/><rect x="482" y="524" width="4.4" height="13" fill="#ff0800"/>
<text x="238.9" y="19.8" font-size="13" fill="#000080" textLength="253.3">Significant Wave Height with Wave Direction</text>
<text x="276.4" y="31.5" font-size="12" font-style="italic" fill="#000080" textLength="179.6">Valid For Jul-18-2019 06:00 GMT</text>
<text x="158" y="482.9" font-size="10.5" font-style="italic" textLength="27.6">100 E</text>
<text x="225.9" y="482.9" font-size="10.5" font-style="italic" textLength="27.6">105 E</text>
<text x="293.8" y="482.9" font-size="10.5" font-style="italic" textLength="27.6">110 E</text>
<text x="361.7" y="482.9" font-size="10.5" font-style="italic" textLength="27.6">115 E</text>
<text x="429.6" y="482.9" font-size="10.5" font-style="italic" textLength="27.6">120 E</text>
<text x="497.5" y="482.9" font-size="10.5" font-style="italic" textLength="27.6">125 E</text>
<text x="565.4" y="482.9" font-size="10.5" font-style="italic" textLength="27.6">130 E</text>
<text x="584.1" y="42" font-size="10.5" font-style="italic">30 N</text>
<text x="584.1" y="118.8" font-size="10.5" font-style="italic">25 N</text>
<text x="584.1" y="192" font-size="10.5" font-style="italic">20 N</text>
<text x="584.1" y="262.6" font-size="10.5" font-style="italic">15 N</text>
<text x="584.1" y="332.3" font-size="10.5" font-style="italic">10 N</text>
<text x="584.1" y="400.6" font-size="10.5" font-style="italic">5 N</text>
<text x="583.7" y="468.7" font-size="10.5" font-style="italic">0</text>
<text x="155" y="496.8" font-size="11.1" fill="#000080" textLength="90.4">oceanweather inc.</text>
<text x="462" y="493.7" font-size="7.6" font-style="italic" font-weight="bold" fill="#000080" textLength="113.3" lengthAdjust="spacingAndGlyphs">Plotted at Jul 18, 2019 01:58 GMT</text>
<text x="296.2" y="508.9" font-size="9.5" fill="#000080" textLength="138.2">Significant Wave Height (Meters)</text>
<text x="301.2" y="556.7" font-size="9.5" fill="#000080" textLength="129.4">Significant Wave Height (Feet)</text>
<text x="246" y="520.7" font-size="8.3" fill="#000080" text-anchor="middle">0</text>
<text x="266" y="520.7" font-size="8.3" fill="#000080" text-anchor="middle">1</text>
<text x="286" y="520.7" font-size="8.3" fill="#000080" text-anchor="middle">2</text>
<text x="306" y="520.7" font-size="8.3" fill="#000080" text-anchor="middle">3</text>
<text x="326" y="520.7" font-size="8.3" fill="#000080" text-anchor="middle">4</text>
<text x="346" y="520.7" font-size="8.3" fill="#000080" text-anchor="middle">5</text>
<text x="366" y="520.7" font-size="8.3" fill="#000080" text-anchor="middle">6</text>
<text x="386" y="520.7" font-size="8.3" fill="#000080" text-anchor="middle">7</text>
<text x="406" y="520.7" font-size="8.3" fill="#000080" text-anchor="middle">8</text>
<text x="426" y="520.7" font-size="8.3" fill="#000080" text-anchor="middle">9</text>
<text x="446" y="520.7" font-size="8.3" fill="#000080" text-anchor="middle">10</text>
<text x="466" y="520.7" font-size="8.3" fill="#000080" text-anchor="middle">11</text>
<text x="486" y="520.7" font-size="8.3" fill="#000080" text-anchor="middle">12</text>
<text x="246" y="545.6" font-size="8.3" fill="#000080" text-anchor="middle">0</text>
<text x="276.1" y="545.6" font-size="8.3" fill="#000080" text-anchor="middle">5</text>
<text x="306.2" y="545.6" font-size="8.3" fill="#000080" text-anchor="middle">10</text>
<text x="336.3" y="545.6" font-size="8.3" fill="#000080" text-anchor="middle">15</text>
<text x="366.4" y="545.6" font-size="8.3" fill="#000080" text-anchor="middle">20</text>
<text x="396.5" y="545.6" font-size="8.3" fill="#000080" text-anchor="middle">25</text>
<text x="426.6" y="545.6" font-size="8.3" fill="#000080" text-anchor="middle">30</text>
<text x="456.7" y="545.6" font-size="8.3" fill="#000080" text-anchor="middle">35</text>
<text x="486.8" y="545.6" font-size="8.3" fill="#000080" text-anchor="middle">40</text>
</svg>
</body></html>
